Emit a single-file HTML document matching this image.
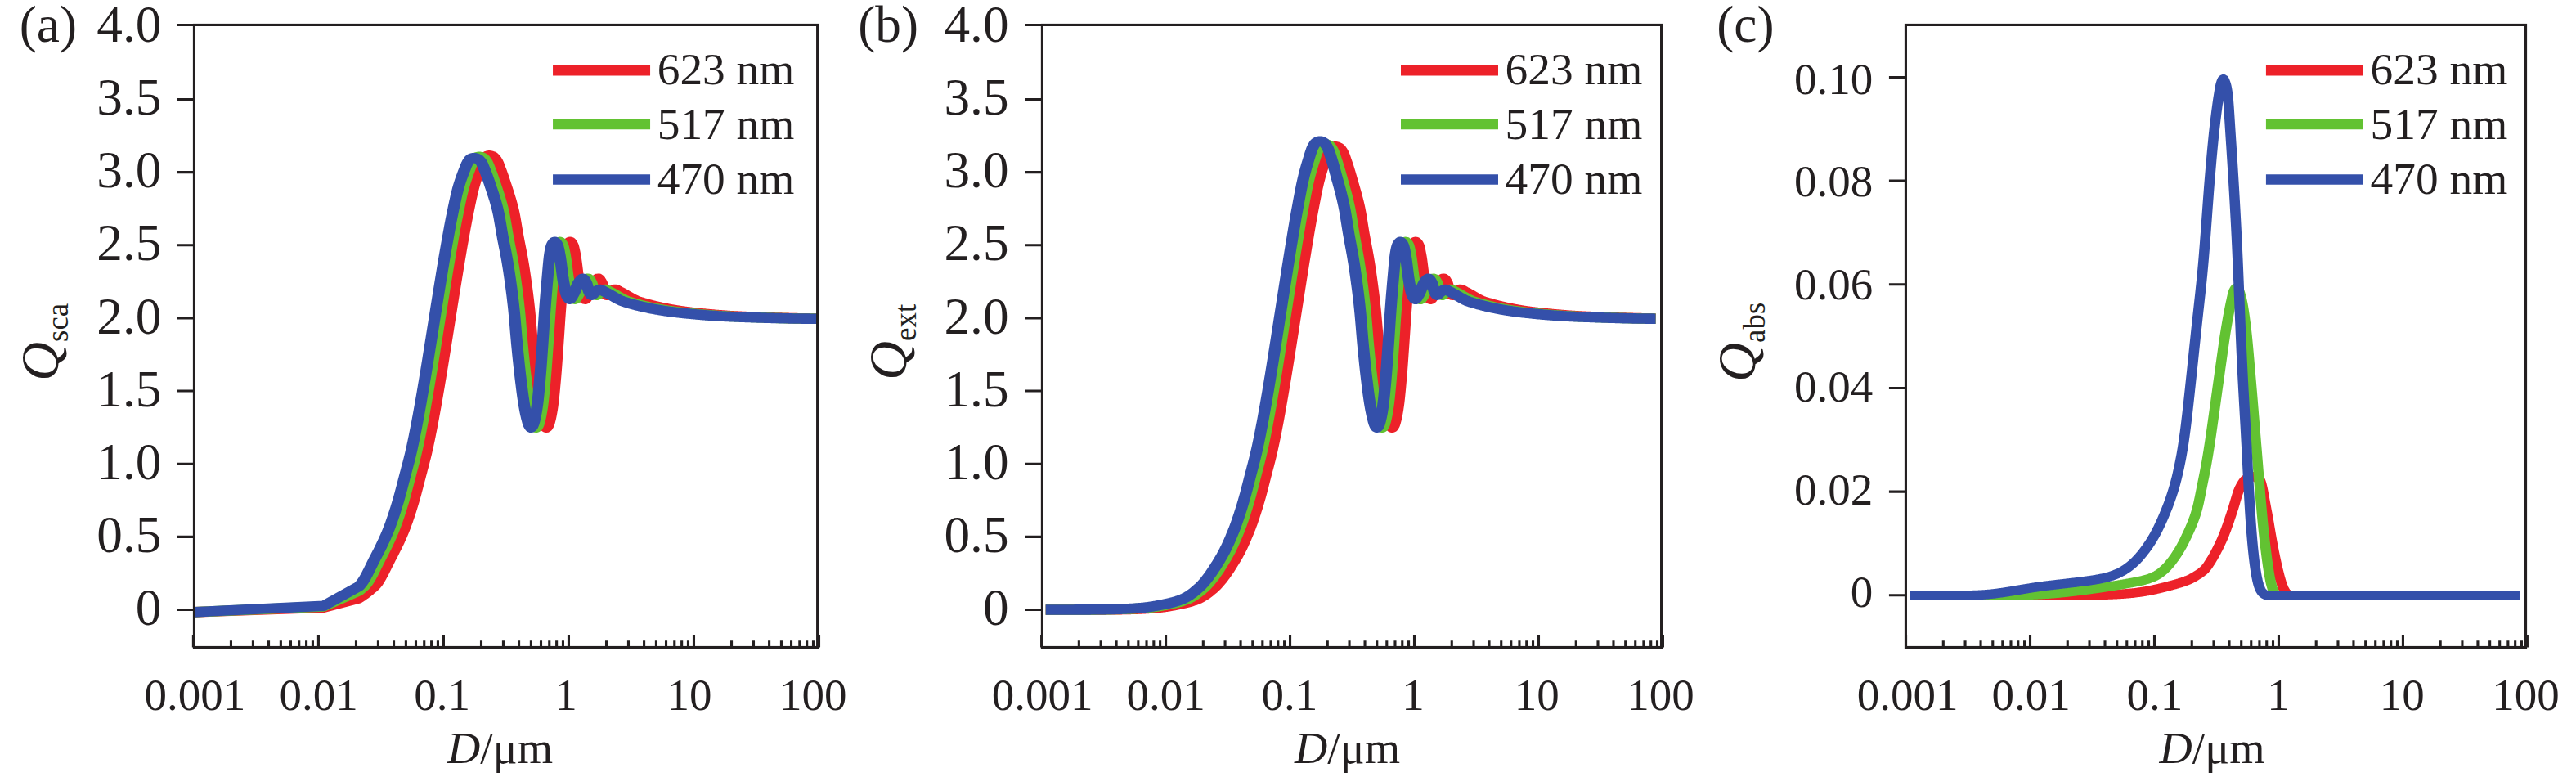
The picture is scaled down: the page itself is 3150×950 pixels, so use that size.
<!DOCTYPE html>
<html><head><meta charset="utf-8"><title>Q vs D</title>
<style>html,body{margin:0;padding:0;background:#fff}svg{display:block}</style></head>
<body>
<svg width="3150" height="950" viewBox="0 0 3150 950" font-family='"Liberation Serif", "Times New Roman", serif' fill="#231f20">
<rect width="3150" height="950" fill="#fff"/>
<clipPath id="ca"><rect x="237.45" y="30.45" width="762.1500000000001" height="761.02"/></clipPath>
<g clip-path="url(#ca)">
<path transform="scale(1.127 1)" d="M209.76 748.40L351.16 742.60L389.29 731.39L389.83 731.00L390.37 730.61L390.92 730.21L391.46 729.80L392.00 729.39L392.55 728.97L393.09 728.54L393.63 728.11L394.17 727.68L394.72 727.23L395.26 726.79L395.80 726.33L396.35 725.87L396.89 725.41L397.43 724.94L397.98 724.46L398.52 723.98L399.06 723.50L399.61 723.01L400.15 722.51L400.69 722.01L401.23 721.51L401.78 721.00L402.32 720.48L402.86 719.96L403.41 719.44L403.95 718.91L404.49 718.38L405.04 717.84L405.58 717.30L406.12 716.75L406.67 716.16L407.21 715.51L407.75 714.81L408.30 714.07L408.84 713.28L409.38 712.45L409.92 711.58L410.47 710.66L411.01 709.72L411.55 708.73L412.10 707.72L412.64 706.67L413.18 705.60L413.73 704.50L414.27 703.38L414.81 702.23L415.36 701.07L415.90 699.89L416.44 698.69L416.98 697.48L417.53 696.26L418.07 695.04L418.61 693.80L419.16 692.56L419.70 691.32L420.24 690.07L420.79 688.83L421.33 687.60L421.87 686.37L422.42 685.14L422.96 683.93L423.50 682.73L424.05 681.55L424.59 680.37L425.13 679.20L425.67 678.02L426.22 676.83L426.76 675.64L427.30 674.45L427.85 673.24L428.39 672.03L428.93 670.81L429.48 669.58L430.02 668.34L430.56 667.09L431.11 665.82L431.65 664.54L432.19 663.25L432.74 661.94L433.28 660.61L433.82 659.27L434.36 657.90L434.91 656.52L435.45 655.12L435.99 653.70L436.54 652.26L437.08 650.79L437.62 649.30L438.17 647.79L438.71 646.24L439.25 644.66L439.80 643.04L440.34 641.39L440.88 639.70L441.42 637.99L441.97 636.24L442.51 634.47L443.05 632.66L443.60 630.83L444.14 628.97L444.68 627.09L445.23 625.19L445.77 623.26L446.31 621.31L446.86 619.34L447.40 617.36L447.94 615.35L448.49 613.32L449.03 611.23L449.57 609.10L450.11 606.92L450.66 604.70L451.20 602.45L451.74 600.16L452.29 597.85L452.83 595.52L453.37 593.17L453.92 590.81L454.46 588.44L455.00 586.08L455.55 583.72L456.09 581.36L456.63 579.03L457.17 576.71L457.72 574.40L458.26 572.10L458.80 569.79L459.35 567.46L459.89 565.11L460.43 562.73L460.98 560.31L461.52 557.84L462.06 555.31L462.61 552.72L463.15 550.05L463.69 547.31L464.24 544.50L464.78 541.64L465.32 538.74L465.86 535.79L466.41 532.79L466.95 529.75L467.49 526.67L468.04 523.54L468.58 520.38L469.12 517.17L469.67 513.93L470.21 510.65L470.75 507.33L471.30 503.98L471.84 500.60L472.38 497.18L472.92 493.73L473.47 490.25L474.01 486.75L474.55 483.21L475.10 479.65L475.64 476.06L476.18 472.45L476.73 468.81L477.27 465.16L477.81 461.48L478.36 457.78L478.90 454.06L479.44 450.33L479.99 446.57L480.53 442.81L481.07 439.03L481.61 435.23L482.16 431.43L482.70 427.61L483.24 423.78L483.79 419.95L484.33 416.11L484.87 412.26L485.42 408.41L485.96 404.55L486.50 400.69L487.05 396.83L487.59 392.97L488.13 389.11L488.67 385.25L489.22 381.40L489.76 377.55L490.30 373.70L490.85 369.86L491.39 366.03L491.93 362.21L492.48 358.39L493.02 354.59L493.56 350.80L494.11 347.03L494.65 343.26L495.19 339.51L495.74 335.78L496.28 332.07L496.82 328.38L497.36 324.70L497.91 321.05L498.45 317.41L498.99 313.80L499.54 310.22L500.08 306.66L500.62 303.12L501.17 299.62L501.71 296.14L502.25 292.69L502.80 289.27L503.34 285.86L503.88 282.46L504.42 279.07L504.97 275.72L505.51 272.43L506.05 269.23L506.60 266.13L507.14 263.10L507.68 260.06L508.23 257.04L508.77 254.04L509.31 251.07L509.86 248.14L510.40 245.26L510.94 242.44L511.49 239.68L512.03 237.01L512.57 234.42L513.11 231.93L513.66 229.55L514.20 227.28L514.74 225.13L515.29 223.07L515.83 221.08L516.37 219.17L516.92 217.32L517.46 215.52L518.00 213.77L518.55 212.06L519.09 210.38L519.63 208.72L520.18 207.07L520.72 205.41L521.26 203.73L521.80 202.08L522.35 200.48L522.89 198.98L523.43 197.61L523.98 196.41L524.52 195.36L525.06 194.35L525.61 193.40L526.15 192.57L526.69 191.91L527.24 191.48L527.78 191.19L528.32 190.94L528.86 190.72L529.41 190.55L529.95 190.42L530.49 190.36L531.04 190.35L531.58 190.41L532.12 190.51L532.67 190.66L533.21 190.84L533.75 191.05L534.30 191.29L534.84 191.55L535.38 191.90L535.93 192.36L536.47 192.94L537.01 193.61L537.55 194.36L538.10 195.17L538.64 196.04L539.18 196.99L539.73 198.16L540.27 199.51L540.81 201.00L541.36 202.58L541.90 204.21L542.44 205.85L542.99 207.45L543.53 209.07L544.07 210.73L544.61 212.43L545.16 214.16L545.70 215.93L546.24 217.73L546.79 219.55L547.33 221.40L547.87 223.27L548.42 225.15L548.96 227.05L549.50 228.96L550.05 230.84L550.59 232.71L551.13 234.59L551.68 236.48L552.22 238.40L552.76 240.34L553.30 242.33L553.85 244.38L554.39 246.49L554.93 248.67L555.48 250.94L556.02 253.30L556.56 255.77L557.11 258.36L557.65 261.22L558.19 264.37L558.74 267.74L559.28 271.27L559.82 274.90L560.36 278.57L560.91 282.20L561.45 285.75L561.99 289.14L562.54 292.39L563.08 295.55L563.62 298.66L564.17 301.75L564.71 304.84L565.25 307.98L565.80 311.18L566.34 314.49L566.88 317.93L567.43 321.53L567.97 325.26L568.51 329.12L569.05 333.11L569.60 337.22L570.14 341.46L570.68 345.83L571.23 350.33L571.77 354.95L572.31 359.72L572.86 364.68L573.40 369.88L573.94 375.35L574.49 381.14L575.03 387.60L575.57 394.66L576.11 402.01L576.66 409.37L577.20 416.44L577.74 422.96L578.29 429.22L578.83 435.34L579.37 441.30L579.92 447.07L580.46 452.64L581.00 457.99L581.55 463.13L582.09 468.18L582.63 473.13L583.18 477.93L583.72 482.54L584.26 486.91L584.80 491.00L585.35 494.76L585.89 498.24L586.43 501.52L586.98 504.60L587.52 507.46L588.06 510.09L588.61 512.50L589.15 514.83L589.69 517.00L590.24 518.83L590.78 520.14L591.32 521.20L591.86 522.11L592.41 522.69L592.95 522.76L593.49 522.30L594.04 521.46L594.58 520.42L595.12 519.20L595.67 517.44L596.21 515.24L596.75 512.78L597.30 510.14L597.84 507.15L598.38 503.78L598.93 500.03L599.47 495.91L600.01 491.25L600.55 485.85L601.10 479.82L601.64 473.32L602.18 466.49L602.73 459.48L603.27 451.98L603.81 443.88L604.36 435.39L604.90 426.73L605.44 418.08L605.99 409.05L606.53 399.79L607.07 390.65L607.62 381.97L608.16 373.88L608.70 366.08L609.24 358.54L609.79 351.27L610.33 344.27L610.87 337.49L611.42 330.50L611.96 323.62L612.50 317.34L613.05 312.15L613.59 308.36L614.13 305.13L614.68 302.40L615.22 300.36L615.76 299.08L616.30 298.04L616.85 297.14L617.39 296.43L617.93 295.97L618.48 295.80L619.02 295.98L619.56 296.48L620.11 297.23L620.65 298.17L621.19 299.24L621.74 300.61L622.28 302.71L622.82 305.38L623.37 308.40L623.91 311.57L624.45 315.06L624.99 319.27L625.54 323.95L626.08 328.85L626.62 333.72L627.17 338.29L627.71 342.31L628.25 345.66L628.80 348.88L629.34 351.98L629.88 354.85L630.43 357.37L630.97 359.45L631.51 360.97L632.05 362.14L632.60 363.24L633.14 364.21L633.68 364.98L634.23 365.50L634.77 365.70L635.31 365.53L635.86 365.02L636.40 364.25L636.94 363.30L637.49 362.23L638.03 361.14L638.57 360.09L639.12 359.03L639.66 357.79L640.20 356.42L640.74 354.95L641.29 353.43L641.83 351.90L642.37 350.39L642.92 348.95L643.46 347.62L644.00 346.44L644.55 345.44L645.09 344.64L645.63 343.85L646.18 343.08L646.72 342.36L647.26 341.73L647.80 341.22L648.35 340.86L648.89 340.71L649.43 340.80L649.98 341.17L650.52 341.79L651.06 342.60L651.61 343.56L652.15 344.62L652.69 345.73L653.24 347.15L653.78 349.28L654.32 351.72L654.87 354.04L655.41 355.82L655.95 357.07L656.49 358.28L657.04 359.34L657.58 360.16L658.12 360.63L658.67 360.67L659.21 360.44L659.75 360.01L660.30 359.46L660.84 358.84L661.38 358.19L661.93 357.59L662.47 357.09L663.01 356.66L663.55 356.21L664.10 355.75L664.64 355.29L665.18 354.87L665.73 354.51L666.27 354.23L666.81 354.05L667.36 354.00L667.90 354.06L668.44 354.20L668.99 354.41L669.53 354.68L670.07 354.99L670.62 355.33L671.16 355.69L671.70 356.06L672.24 356.42L672.79 356.75L673.33 357.05L673.87 357.35L674.42 357.65L674.96 357.97L675.50 358.29L676.05 358.61L676.59 358.95L677.13 359.28L677.68 359.63L678.22 359.97L678.76 360.32L679.30 360.68L679.85 361.03L680.39 361.39L680.93 361.75L681.48 362.11L682.02 362.46L682.56 362.82L683.11 363.18L683.65 363.53L684.19 363.88L684.74 364.23L685.28 364.57L685.82 364.91L686.37 365.25L686.91 365.58L687.45 365.90L687.99 366.21L688.54 366.52L689.08 366.82L689.62 367.11L690.17 367.39L690.71 367.66L691.25 367.91L691.80 368.16L692.34 368.40L692.88 368.62L693.43 368.83L693.97 369.02L694.51 369.21L695.06 369.40L695.60 369.58L696.14 369.77L696.68 369.95L697.23 370.13L697.77 370.31L698.31 370.49L698.86 370.67L699.40 370.84L699.94 371.02L700.49 371.19L701.03 371.36L701.57 371.53L702.12 371.70L702.66 371.87L703.20 372.03L703.74 372.20L704.29 372.36L704.83 372.52L705.37 372.69L705.92 372.84L706.46 373.00L707.00 373.16L707.55 373.31L708.09 373.47L708.63 373.62L709.18 373.77L709.72 373.92L710.26 374.07L710.81 374.22L711.35 374.37L711.89 374.51L712.43 374.66L712.98 374.80L713.52 374.94L714.06 375.08L714.61 375.22L715.15 375.36L715.69 375.49L716.24 375.63L716.78 375.76L717.32 375.89L717.87 376.03L718.41 376.16L718.95 376.29L719.49 376.41L720.04 376.54L720.58 376.67L721.12 376.79L721.67 376.91L722.21 377.04L722.75 377.16L723.30 377.28L723.84 377.40L724.38 377.51L724.93 377.63L725.47 377.75L726.01 377.86L726.56 377.97L727.10 378.09L727.64 378.20L728.18 378.31L728.73 378.42L729.27 378.53L729.81 378.63L730.36 378.74L730.90 378.84L731.44 378.95L731.99 379.05L732.53 379.15L733.07 379.25L733.62 379.35L734.16 379.45L734.70 379.55L735.24 379.64L735.79 379.74L736.33 379.83L736.87 379.93L737.42 380.02L737.96 380.11L738.50 380.20L739.05 380.29L739.59 380.38L740.13 380.47L740.68 380.56L741.22 380.64L741.76 380.73L742.31 380.81L742.85 380.89L743.39 380.98L743.93 381.06L744.48 381.14L745.02 381.22L745.56 381.30L746.11 381.38L746.65 381.45L747.19 381.53L747.74 381.60L748.28 381.68L748.82 381.75L749.37 381.82L749.91 381.90L750.45 381.97L750.99 382.04L751.54 382.11L752.08 382.18L752.62 382.24L753.17 382.31L753.71 382.38L754.25 382.44L754.80 382.51L755.34 382.57L755.88 382.64L756.43 382.70L756.97 382.77L757.51 382.83L758.06 382.90L758.60 382.96L759.14 383.02L759.68 383.09L760.23 383.15L760.77 383.21L761.31 383.27L761.86 383.33L762.40 383.39L762.94 383.45L763.49 383.51L764.03 383.57L764.57 383.63L765.12 383.69L765.66 383.75L766.20 383.81L766.74 383.87L767.29 383.93L767.83 383.98L768.37 384.04L768.92 384.10L769.46 384.15L770.00 384.21L770.55 384.26L771.09 384.32L771.63 384.37L772.18 384.43L772.72 384.48L773.26 384.53L773.81 384.59L774.35 384.64L774.89 384.69L775.43 384.74L775.98 384.80L776.52 384.85L777.06 384.90L777.61 384.95L778.15 385.00L778.69 385.05L779.24 385.10L779.78 385.15L780.32 385.19L780.87 385.24L781.41 385.29L781.95 385.34L782.50 385.38L783.04 385.43L783.58 385.48L784.12 385.52L784.67 385.57L785.21 385.61L785.75 385.66L786.30 385.70L786.84 385.74L787.38 385.79L787.93 385.83L788.47 385.87L789.01 385.91L789.56 385.96L790.10 386.00L790.64 386.04L791.18 386.08L791.73 386.12L792.27 386.16L792.81 386.20L793.36 386.23L793.90 386.27L794.44 386.31L794.99 386.35L795.53 386.38L796.07 386.42L796.62 386.46L797.16 386.49L797.70 386.53L798.25 386.56L798.79 386.60L799.33 386.63L799.87 386.66L800.42 386.70L800.96 386.73L801.50 386.76L802.05 386.79L802.59 386.82L803.13 386.85L803.68 386.88L804.22 386.91L804.76 386.94L805.31 386.97L805.85 387.00L806.39 387.03L806.93 387.06L807.48 387.08L808.02 387.11L808.56 387.13L809.11 387.16L809.65 387.19L810.19 387.21L810.74 387.23L811.28 387.26L811.82 387.28L812.37 387.30L812.91 387.33L813.45 387.35L814.00 387.37L814.54 387.39L815.08 387.42L815.62 387.44L816.17 387.46L816.71 387.48L817.25 387.51L817.80 387.53L818.34 387.55L818.88 387.57L819.43 387.60L819.97 387.62L820.51 387.64L821.06 387.66L821.60 387.68L822.14 387.71L822.68 387.73L823.23 387.75L823.77 387.77L824.31 387.79L824.86 387.81L825.40 387.84L825.94 387.86L826.49 387.88L827.03 387.90L827.57 387.92L828.12 387.94L828.66 387.96L829.20 387.98L829.75 388.01L830.29 388.03L830.83 388.05L831.37 388.07L831.92 388.09L832.46 388.11L833.00 388.13L833.55 388.15L834.09 388.17L834.63 388.19L835.18 388.21L835.72 388.23L836.26 388.25L836.81 388.27L837.35 388.29L837.89 388.31L838.43 388.33L838.98 388.35L839.52 388.37L840.06 388.39L840.61 388.41L841.15 388.43L841.69 388.45L842.24 388.47L842.78 388.49L843.32 388.51L843.87 388.53L844.41 388.54L844.95 388.56L845.50 388.58L846.04 388.60L846.58 388.62L847.12 388.64L847.67 388.66L848.21 388.67L848.75 388.69L849.30 388.71L849.84 388.73L850.38 388.74L850.93 388.76L851.47 388.78L852.01 388.80L852.56 388.81L853.10 388.83L853.64 388.85L854.18 388.86L854.73 388.88L855.27 388.90L855.81 388.91L856.36 388.93L856.90 388.95L857.44 388.96L857.99 388.98L858.53 388.99L859.07 389.01L859.62 389.02L860.16 389.04L860.70 389.05L861.25 389.07L861.79 389.08L862.33 389.10L862.87 389.11L863.42 389.13L863.96 389.14L864.50 389.16L865.05 389.17L865.59 389.18L866.13 389.20L866.68 389.21L867.22 389.22L867.76 389.24L868.31 389.25L868.85 389.26L869.39 389.28L869.94 389.29L870.48 389.30L871.02 389.31L871.56 389.33L872.11 389.34L872.65 389.35L873.19 389.36L873.74 389.37L874.28 389.38L874.82 389.39L875.37 389.41L875.91 389.42L876.45 389.43L877.00 389.44L877.54 389.45L878.08 389.46L878.62 389.47L879.17 389.48L879.71 389.49L880.25 389.50L880.80 389.50L881.34 389.51L881.88 389.52L882.43 389.53L882.97 389.54L883.51 389.55L884.06 389.55L884.60 389.56L885.14 389.57L885.69 389.58L886.23 389.58L886.77 389.59L887.31 389.60L887.86 389.60L888.40 389.61L886.96 389.61" stroke="#ed2129" stroke-width="12.6" fill="none" stroke-linejoin="round" stroke-linecap="butt"/>
<path transform="scale(1.127 1)" d="M209.76 748.40L351.16 741.42L389.29 722.39L389.83 721.89L390.37 721.38L390.92 720.87L391.46 720.35L392.00 719.83L392.55 719.31L393.09 718.78L393.63 718.25L394.17 717.71L394.72 717.17L395.26 716.61L395.80 716.00L396.35 715.34L396.89 714.63L397.43 713.88L397.98 713.08L398.52 712.23L399.06 711.35L399.61 710.43L400.15 709.47L400.69 708.48L401.23 707.46L401.78 706.41L402.32 705.33L402.86 704.22L403.41 703.10L403.95 701.95L404.49 700.78L405.04 699.59L405.58 698.39L406.12 697.18L406.67 695.96L407.21 694.73L407.75 693.49L408.30 692.25L408.84 691.01L409.38 689.76L409.92 688.52L410.47 687.29L411.01 686.06L411.55 684.84L412.10 683.63L412.64 682.44L413.18 681.25L413.73 680.08L414.27 678.90L414.81 677.72L415.36 676.54L415.90 675.35L416.44 674.15L416.98 672.94L417.53 671.73L418.07 670.51L418.61 669.27L419.16 668.03L419.70 666.77L420.24 665.50L420.79 664.22L421.33 662.92L421.87 661.61L422.42 660.28L422.96 658.93L423.50 657.56L424.05 656.18L424.59 654.77L425.13 653.34L425.67 651.89L426.22 650.42L426.76 648.93L427.30 647.41L427.85 645.85L428.39 644.26L428.93 642.63L429.48 640.97L430.02 639.28L430.56 637.56L431.11 635.80L431.65 634.02L432.19 632.21L432.74 630.37L433.28 628.51L433.82 626.62L434.36 624.71L434.91 622.78L435.45 620.82L435.99 618.85L436.54 616.86L437.08 614.85L437.62 612.80L438.17 610.71L438.71 608.56L439.25 606.37L439.80 604.14L440.34 601.88L440.88 599.59L441.42 597.27L441.97 594.93L442.51 592.58L443.05 590.22L443.60 587.85L444.14 585.49L444.68 583.13L445.23 580.78L445.77 578.45L446.31 576.13L446.86 573.83L447.40 571.52L447.94 569.21L448.49 566.88L449.03 564.52L449.57 562.13L450.11 559.70L450.66 557.22L451.20 554.67L451.74 552.06L452.29 549.38L452.83 546.61L453.37 543.79L453.92 540.92L454.46 538.01L455.00 535.04L455.55 532.04L456.09 528.98L456.63 525.89L457.17 522.76L457.72 519.58L458.26 516.37L458.80 513.12L459.35 509.83L459.89 506.50L460.43 503.14L460.98 499.75L461.52 496.32L462.06 492.87L462.61 489.38L463.15 485.87L463.69 482.33L464.24 478.76L464.78 475.16L465.32 471.54L465.86 467.90L466.41 464.24L466.95 460.56L467.49 456.85L468.04 453.13L468.58 449.39L469.12 445.64L469.67 441.87L470.21 438.08L470.75 434.28L471.30 430.48L471.84 426.66L472.38 422.83L472.92 418.99L473.47 415.15L474.01 411.30L474.55 407.45L475.10 403.59L475.64 399.73L476.18 395.87L476.73 392.01L477.27 388.15L477.81 384.29L478.36 380.44L478.90 376.59L479.44 372.75L479.99 368.91L480.53 365.08L481.07 361.26L481.61 357.45L482.16 353.65L482.70 349.87L483.24 346.10L483.79 342.34L484.33 338.60L484.87 334.87L485.42 331.17L485.96 327.48L486.50 323.81L487.05 320.17L487.59 316.54L488.13 312.94L488.67 309.37L489.22 305.82L489.76 302.30L490.30 298.80L490.85 295.34L491.39 291.91L491.93 288.50L492.48 285.10L493.02 281.71L493.56 278.34L494.11 275.02L494.65 271.76L495.19 268.60L495.74 265.55L496.28 262.53L496.82 259.51L497.36 256.51L497.91 253.54L498.45 250.60L498.99 247.71L499.54 244.86L500.08 242.09L500.62 239.38L501.17 236.76L501.71 234.22L502.25 231.79L502.80 229.47L503.34 227.27L503.88 225.17L504.42 223.17L504.97 221.24L505.51 219.38L506.05 217.59L506.60 215.84L507.14 214.14L507.68 212.48L508.23 210.85L508.77 209.23L509.31 207.62L509.86 205.99L510.40 204.36L510.94 202.75L511.49 201.22L512.03 199.78L512.57 198.49L513.11 197.36L513.66 196.36L514.20 195.38L514.74 194.49L515.29 193.72L515.83 193.14L516.37 192.78L516.92 192.52L517.46 192.28L518.00 192.09L518.55 191.93L519.09 191.83L519.63 191.78L520.18 191.79L520.72 191.85L521.26 191.95L521.80 192.10L522.35 192.27L522.89 192.48L523.43 192.70L523.98 192.95L524.52 193.30L525.06 193.77L525.61 194.34L526.15 195.00L526.69 195.73L527.24 196.52L527.78 197.36L528.32 198.33L528.86 199.51L529.41 200.86L529.95 202.34L530.49 203.89L531.04 205.49L531.58 207.07L532.12 208.63L532.67 210.22L533.21 211.85L533.75 213.52L534.30 215.23L534.84 216.96L535.38 218.73L535.93 220.53L536.47 222.34L537.01 224.18L537.55 226.04L538.10 227.92L538.64 229.79L539.18 231.64L539.73 233.49L540.27 235.34L540.81 237.22L541.36 239.12L541.90 241.05L542.44 243.04L542.99 245.08L543.53 247.19L544.07 249.38L544.61 251.65L545.16 254.03L545.70 256.51L546.24 259.14L546.79 262.07L547.33 265.27L547.87 268.68L548.42 272.23L548.96 275.87L549.50 279.53L550.05 283.14L550.59 286.65L551.13 290.00L551.68 293.22L552.22 296.36L552.76 299.46L553.30 302.54L553.85 305.64L554.39 308.78L554.93 312.01L555.48 315.34L556.02 318.82L556.56 322.46L557.11 326.22L557.65 330.11L558.19 334.13L558.74 338.27L559.28 342.54L559.82 346.94L560.36 351.47L560.91 356.12L561.45 360.94L561.99 365.95L562.54 371.21L563.08 376.76L563.62 382.68L564.17 389.32L564.71 396.47L565.25 403.86L565.80 411.17L566.34 418.12L566.88 424.54L567.43 430.76L567.97 436.84L568.51 442.76L569.05 448.48L569.60 454.00L570.14 459.28L570.68 464.39L571.23 469.43L571.77 474.35L572.31 479.10L572.86 483.65L573.40 487.96L573.94 491.97L574.49 495.64L575.03 499.08L575.57 502.31L576.11 505.33L576.66 508.13L577.20 510.71L577.74 513.09L578.29 515.39L578.83 517.49L579.37 519.21L579.92 520.41L580.46 521.45L581.00 522.29L581.55 522.76L582.09 522.69L582.63 522.12L583.18 521.21L583.72 520.15L584.26 518.81L584.80 516.92L585.35 514.64L585.89 512.15L586.43 509.43L586.98 506.35L587.52 502.88L588.06 499.04L588.61 494.82L589.15 489.97L589.69 484.40L590.24 478.24L590.78 471.64L591.32 464.75L591.86 457.68L592.41 450.01L592.95 441.79L593.49 433.24L594.04 424.57L594.58 415.87L595.12 406.75L595.67 397.49L596.21 388.43L596.75 379.91L597.30 371.91L597.84 364.17L598.38 356.70L598.93 349.50L599.47 342.57L600.01 335.76L600.55 328.76L601.10 321.98L601.64 315.92L602.18 311.08L602.73 307.51L603.27 304.39L603.81 301.82L604.36 299.97L604.90 298.81L605.44 297.80L605.99 296.95L606.53 296.29L607.07 295.90L607.62 295.81L608.16 296.08L608.70 296.65L609.24 297.45L609.79 298.43L610.33 299.52L610.87 301.07L611.42 303.34L611.96 306.11L612.50 309.19L613.05 312.36L613.59 316.05L614.13 320.40L614.68 325.16L615.22 330.08L615.76 334.89L616.30 339.35L616.85 343.20L617.39 346.47L617.93 349.67L618.48 352.72L619.02 355.51L619.56 357.94L620.11 359.89L620.65 361.27L621.19 362.43L621.74 363.50L622.28 364.42L622.82 365.13L623.37 365.58L623.91 365.69L624.45 365.43L624.99 364.85L625.54 364.03L626.08 363.04L626.62 361.96L627.17 360.87L627.71 359.84L628.25 358.73L628.80 357.46L629.34 356.06L629.88 354.58L630.43 353.05L630.97 351.52L631.51 350.03L632.05 348.61L632.60 347.31L633.14 346.17L633.68 345.22L634.23 344.44L634.77 343.66L635.31 342.90L635.86 342.19L636.40 341.59L636.94 341.11L637.49 340.80L638.03 340.70L638.57 340.87L639.12 341.31L639.66 341.97L640.20 342.82L640.74 343.81L641.29 344.89L641.83 346.02L642.37 347.63L642.92 349.87L643.46 352.33L644.00 354.56L644.55 356.14L645.09 357.38L645.63 358.56L646.18 359.58L646.72 360.32L647.26 360.68L647.80 360.63L648.35 360.35L648.89 359.89L649.43 359.31L649.98 358.68L650.52 358.04L651.06 357.45L651.61 356.98L652.15 356.55L652.69 356.10L653.24 355.63L653.78 355.18L654.32 354.78L654.87 354.43L655.41 354.18L655.95 354.03L656.49 354.01L657.04 354.09L657.58 354.25L658.12 354.47L658.67 354.75L659.21 355.07L659.75 355.42L660.30 355.78L660.84 356.15L661.38 356.50L661.93 356.83L662.47 357.13L663.01 357.43L663.55 357.73L664.10 358.05L664.64 358.37L665.18 358.70L665.73 359.03L666.27 359.37L666.81 359.71L667.36 360.06L667.90 360.41L668.44 360.76L668.99 361.12L669.53 361.48L670.07 361.84L670.62 362.19L671.16 362.55L671.70 362.91L672.24 363.27L672.79 363.62L673.33 363.97L673.87 364.32L674.42 364.66L674.96 365.00L675.50 365.33L676.05 365.66L676.59 365.98L677.13 366.29L677.68 366.59L678.22 366.89L678.76 367.18L679.30 367.45L679.85 367.72L680.39 367.98L680.93 368.22L681.48 368.45L682.02 368.67L682.56 368.88L683.11 369.07L683.65 369.26L684.19 369.45L684.74 369.63L685.28 369.81L685.82 370.00L686.37 370.18L686.91 370.36L687.45 370.54L687.99 370.71L688.54 370.89L689.08 371.06L689.62 371.23L690.17 371.40L690.71 371.57L691.25 371.74L691.80 371.91L692.34 372.08L692.88 372.24L693.43 372.40L693.97 372.56L694.51 372.73L695.06 372.88L695.60 373.04L696.14 373.20L696.68 373.35L697.23 373.51L697.77 373.66L698.31 373.81L698.86 373.96L699.40 374.11L699.94 374.26L700.49 374.40L701.03 374.55L701.57 374.69L702.12 374.83L702.66 374.97L703.20 375.11L703.74 375.25L704.29 375.39L704.83 375.53L705.37 375.66L705.92 375.80L706.46 375.93L707.00 376.06L707.55 376.19L708.09 376.32L708.63 376.45L709.18 376.57L709.72 376.70L710.26 376.82L710.81 376.95L711.35 377.07L711.89 377.19L712.43 377.31L712.98 377.43L713.52 377.54L714.06 377.66L714.61 377.78L715.15 377.89L715.69 378.00L716.24 378.12L716.78 378.23L717.32 378.34L717.87 378.44L718.41 378.55L718.95 378.66L719.49 378.76L720.04 378.87L720.58 378.97L721.12 379.07L721.67 379.18L722.21 379.28L722.75 379.38L723.30 379.47L723.84 379.57L724.38 379.67L724.93 379.76L725.47 379.86L726.01 379.95L726.56 380.04L727.10 380.13L727.64 380.23L728.18 380.31L728.73 380.40L729.27 380.49L729.81 380.58L730.36 380.66L730.90 380.75L731.44 380.83L731.99 380.92L732.53 381.00L733.07 381.08L733.62 381.16L734.16 381.24L734.70 381.32L735.24 381.39L735.79 381.47L736.33 381.55L736.87 381.62L737.42 381.70L737.96 381.77L738.50 381.84L739.05 381.91L739.59 381.98L740.13 382.05L740.68 382.12L741.22 382.19L741.76 382.26L742.31 382.33L742.85 382.39L743.39 382.46L743.93 382.52L744.48 382.59L745.02 382.66L745.56 382.72L746.11 382.78L746.65 382.85L747.19 382.91L747.74 382.98L748.28 383.04L748.82 383.10L749.37 383.16L749.91 383.22L750.45 383.29L750.99 383.35L751.54 383.41L752.08 383.47L752.62 383.53L753.17 383.59L753.71 383.65L754.25 383.71L754.80 383.77L755.34 383.82L755.88 383.88L756.43 383.94L756.97 384.00L757.51 384.05L758.06 384.11L758.60 384.17L759.14 384.22L759.68 384.28L760.23 384.33L760.77 384.39L761.31 384.44L761.86 384.49L762.40 384.55L762.94 384.60L763.49 384.65L764.03 384.71L764.57 384.76L765.12 384.81L765.66 384.86L766.20 384.91L766.74 384.96L767.29 385.01L767.83 385.06L768.37 385.11L768.92 385.16L769.46 385.21L770.00 385.25L770.55 385.30L771.09 385.35L771.63 385.40L772.18 385.44L772.72 385.49L773.26 385.53L773.81 385.58L774.35 385.62L774.89 385.67L775.43 385.71L775.98 385.76L776.52 385.80L777.06 385.84L777.61 385.88L778.15 385.93L778.69 385.97L779.24 386.01L779.78 386.05L780.32 386.09L780.87 386.13L781.41 386.17L781.95 386.21L782.50 386.24L783.04 386.28L783.58 386.32L784.12 386.36L784.67 386.39L785.21 386.43L785.75 386.47L786.30 386.50L786.84 386.54L787.38 386.57L787.93 386.60L788.47 386.64L789.01 386.67L789.56 386.70L790.10 386.74L790.64 386.77L791.18 386.80L791.73 386.83L792.27 386.86L792.81 386.89L793.36 386.92L793.90 386.95L794.44 386.98L794.99 387.01L795.53 387.03L796.07 387.06L796.62 387.09L797.16 387.12L797.70 387.14L798.25 387.17L798.79 387.19L799.33 387.22L799.87 387.24L800.42 387.26L800.96 387.29L801.50 387.31L802.05 387.33L802.59 387.35L803.13 387.38L803.68 387.40L804.22 387.42L804.76 387.44L805.31 387.47L805.85 387.49L806.39 387.51L806.93 387.53L807.48 387.56L808.02 387.58L808.56 387.60L809.11 387.62L809.65 387.64L810.19 387.67L810.74 387.69L811.28 387.71L811.82 387.73L812.37 387.75L812.91 387.78L813.45 387.80L814.00 387.82L814.54 387.84L815.08 387.86L815.62 387.88L816.17 387.91L816.71 387.93L817.25 387.95L817.80 387.97L818.34 387.99L818.88 388.01L819.43 388.03L819.97 388.05L820.51 388.07L821.06 388.09L821.60 388.12L822.14 388.14L822.68 388.16L823.23 388.18L823.77 388.20L824.31 388.22L824.86 388.24L825.40 388.26L825.94 388.28L826.49 388.30L827.03 388.32L827.57 388.34L828.12 388.36L828.66 388.38L829.20 388.40L829.75 388.42L830.29 388.44L830.83 388.45L831.37 388.47L831.92 388.49L832.46 388.51L833.00 388.53L833.55 388.55L834.09 388.57L834.63 388.59L835.18 388.61L835.72 388.62L836.26 388.64L836.81 388.66L837.35 388.68L837.89 388.70L838.43 388.71L838.98 388.73L839.52 388.75L840.06 388.77L840.61 388.78L841.15 388.80L841.69 388.82L842.24 388.83L842.78 388.85L843.32 388.87L843.87 388.88L844.41 388.90L844.95 388.92L845.50 388.93L846.04 388.95L846.58 388.97L847.12 388.98L847.67 389.00L848.21 389.01L848.75 389.03L849.30 389.04L849.84 389.06L850.38 389.07L850.93 389.09L851.47 389.10L852.01 389.12L852.56 389.13L853.10 389.15L853.64 389.16L854.18 389.17L854.73 389.19L855.27 389.20L855.81 389.21L856.36 389.23L856.90 389.24L857.44 389.25L857.99 389.27L858.53 389.28L859.07 389.29L859.62 389.30L860.16 389.32L860.70 389.33L861.25 389.34L861.79 389.35L862.33 389.36L862.87 389.37L863.42 389.39L863.96 389.40L864.50 389.41L865.05 389.42L865.59 389.43L866.13 389.44L866.68 389.45L867.22 389.46L867.76 389.47L868.31 389.48L868.85 389.49L869.39 389.50L869.94 389.51L870.48 389.52L871.02 389.52L871.56 389.53L872.11 389.54L872.65 389.55L873.19 389.56L873.74 389.56L874.28 389.57L874.82 389.58L875.37 389.59L875.91 389.59L876.45 389.60L877.00 389.61L877.54 389.61L878.08 389.62L878.62 389.62L879.17 389.63L879.71 389.64L880.25 389.64L880.80 389.65L881.34 389.65L881.88 389.66L882.43 389.66L882.97 389.66L883.51 389.67L884.06 389.67L884.60 389.67L885.14 389.68L885.69 389.68L886.23 389.68L886.77 389.69L887.31 389.69L887.86 389.69L888.40 389.69L886.96 389.69" stroke="#62c232" stroke-width="12.6" fill="none" stroke-linejoin="round" stroke-linecap="butt"/>
<path transform="scale(1.127 1)" d="M209.76 748.40L351.16 740.77L389.29 716.98L389.83 716.40L390.37 715.78L390.92 715.10L391.46 714.37L392.00 713.60L392.55 712.79L393.09 711.93L393.63 711.04L394.17 710.10L394.72 709.13L395.26 708.13L395.80 707.10L396.35 706.04L396.89 704.95L397.43 703.83L397.98 702.70L398.52 701.54L399.06 700.37L399.61 699.18L400.15 697.97L400.69 696.76L401.23 695.53L401.78 694.30L402.32 693.06L402.86 691.82L403.41 690.57L403.95 689.33L404.49 688.09L405.04 686.86L405.58 685.63L406.12 684.42L406.67 683.21L407.21 682.02L407.75 680.85L408.30 679.67L408.84 678.49L409.38 677.31L409.92 676.12L410.47 674.93L411.01 673.73L411.55 672.52L412.10 671.30L412.64 670.08L413.18 668.84L413.73 667.59L414.27 666.33L414.81 665.06L415.36 663.77L415.90 662.46L416.44 661.15L416.98 659.81L417.53 658.45L418.07 657.08L418.61 655.69L419.16 654.28L419.70 652.84L420.24 651.38L420.79 649.90L421.33 648.40L421.87 646.87L422.42 645.30L422.96 643.70L423.50 642.06L424.05 640.39L424.59 638.68L425.13 636.95L425.67 635.18L426.22 633.39L426.76 631.57L427.30 629.73L427.85 627.85L428.39 625.96L428.93 624.04L429.48 622.10L430.02 620.14L430.56 618.16L431.11 616.16L431.65 614.14L432.19 612.08L432.74 609.96L433.28 607.80L433.82 605.60L434.36 603.36L434.91 601.08L435.45 598.78L435.99 596.46L436.54 594.11L437.08 591.76L437.62 589.40L438.17 587.03L438.71 584.67L439.25 582.31L439.80 579.96L440.34 577.64L440.88 575.33L441.42 573.03L441.97 570.72L442.51 568.40L443.05 566.06L443.60 563.70L444.14 561.29L444.68 558.84L445.23 556.34L445.77 553.77L446.31 551.14L446.86 548.42L447.40 545.63L447.94 542.80L448.49 539.91L449.03 536.98L449.57 534.00L450.11 530.98L450.66 527.91L451.20 524.80L451.74 521.66L452.29 518.47L452.83 515.24L453.37 511.97L453.92 508.67L454.46 505.34L455.00 501.96L455.55 498.56L456.09 495.12L456.63 491.66L457.17 488.16L457.72 484.64L458.26 481.09L458.80 477.51L459.35 473.91L459.89 470.28L460.43 466.63L460.98 462.96L461.52 459.27L462.06 455.56L462.61 451.83L463.15 448.09L463.69 444.32L464.24 440.55L464.78 436.76L465.32 432.96L465.86 429.15L466.41 425.33L466.95 421.50L467.49 417.66L468.04 413.81L468.58 409.96L469.12 406.11L469.67 402.25L470.21 398.39L470.75 394.53L471.30 390.67L471.84 386.81L472.38 382.95L472.92 379.10L473.47 375.26L474.01 371.41L474.55 367.58L475.10 363.76L475.64 359.94L476.18 356.13L476.73 352.34L477.27 348.56L477.81 344.80L478.36 341.05L478.90 337.31L479.44 333.60L479.99 329.90L480.53 326.22L481.07 322.56L481.61 318.93L482.16 315.32L482.70 311.73L483.24 308.17L483.79 304.64L484.33 301.13L484.87 297.65L485.42 294.21L485.96 290.79L486.50 287.41L487.05 284.02L487.59 280.64L488.13 277.29L488.67 274.00L489.22 270.79L489.76 267.68L490.30 264.67L490.85 261.67L491.39 258.68L491.93 255.71L492.48 252.76L493.02 249.86L493.56 247.01L494.11 244.22L494.65 241.49L495.19 238.84L495.74 236.28L496.28 233.81L496.82 231.45L497.36 229.20L497.91 227.07L498.45 225.05L498.99 223.11L499.54 221.24L500.08 219.44L500.62 217.71L501.17 216.02L501.71 214.38L502.25 212.76L502.80 211.18L503.34 209.61L503.88 208.03L504.42 206.44L504.97 204.85L505.51 203.30L506.05 201.83L506.60 200.48L507.14 199.27L507.68 198.25L508.23 197.28L508.77 196.35L509.31 195.52L509.86 194.84L510.40 194.35L510.94 194.06L511.49 193.83L512.03 193.62L512.57 193.45L513.11 193.31L513.66 193.23L514.20 193.20L514.74 193.22L515.29 193.29L515.83 193.40L516.37 193.55L516.92 193.72L517.46 193.91L518.00 194.12L518.55 194.37L519.09 194.74L519.63 195.22L520.18 195.79L520.72 196.44L521.26 197.16L521.80 197.94L522.35 198.76L522.89 199.77L523.43 200.97L523.98 202.33L524.52 203.80L525.06 205.34L525.61 206.90L526.15 208.43L526.69 209.95L527.24 211.51L527.78 213.12L528.32 214.76L528.86 216.44L529.41 218.15L529.95 219.89L530.49 221.66L531.04 223.45L531.58 225.27L532.12 227.10L532.67 228.95L533.21 230.78L533.75 232.60L534.30 234.43L534.84 236.27L535.38 238.12L535.93 240.01L536.47 241.95L537.01 243.93L537.55 245.98L538.10 248.10L538.64 250.30L539.18 252.60L539.73 255.00L540.27 257.51L540.81 260.22L541.36 263.24L541.90 266.51L542.44 269.97L542.99 273.55L543.53 277.19L544.07 280.84L544.61 284.42L545.16 287.87L545.70 291.16L546.24 294.35L546.79 297.47L547.33 300.55L547.87 303.63L548.42 306.74L548.96 309.91L549.50 313.17L550.05 316.55L550.59 320.08L551.13 323.76L551.68 327.57L552.22 331.50L552.76 335.56L553.30 339.75L553.85 344.06L554.39 348.51L554.93 353.08L555.48 357.78L556.02 362.66L556.56 367.76L557.11 373.11L557.65 378.76L558.19 384.92L558.74 391.77L559.28 399.04L559.82 406.43L560.36 413.65L560.91 420.41L561.45 426.72L561.99 432.90L562.54 438.92L563.08 444.77L563.62 450.43L564.17 455.87L564.71 461.07L565.25 466.16L565.80 471.16L566.34 476.02L566.88 480.71L567.43 485.18L567.97 489.39L568.51 493.29L569.05 496.86L569.60 500.22L570.14 503.38L570.68 506.33L571.23 509.06L571.77 511.56L572.31 513.90L572.86 516.16L573.40 518.14L573.94 519.68L574.49 520.78L575.03 521.77L575.57 522.50L576.11 522.80L576.66 522.54L577.20 521.83L577.74 520.85L578.29 519.75L578.83 518.21L579.37 516.16L579.92 513.79L580.46 511.24L581.00 508.40L581.55 505.18L582.09 501.59L582.63 497.61L583.18 493.22L583.72 488.11L584.26 482.31L584.80 475.98L585.35 469.27L585.89 462.31L586.43 455.08L586.98 447.20L587.52 438.84L588.06 430.22L588.61 421.57L589.15 412.73L589.69 403.53L590.24 394.29L590.78 385.38L591.32 377.09L591.86 369.18L592.41 361.54L592.95 354.17L593.49 347.06L594.04 340.22L594.58 333.33L595.12 326.35L595.67 319.77L596.21 314.08L596.75 309.76L597.30 306.37L597.84 303.43L598.38 301.09L598.93 299.52L599.47 298.45L600.01 297.49L600.55 296.69L601.10 296.12L601.64 295.83L602.18 295.86L602.73 296.24L603.27 296.90L603.81 297.78L604.36 298.80L604.90 299.96L605.44 301.79L605.99 304.25L606.53 307.16L607.07 310.29L607.62 313.55L608.16 317.50L608.70 322.02L609.24 326.87L609.79 331.78L610.33 336.50L610.87 340.77L611.42 344.35L611.96 347.59L612.50 350.76L613.05 353.73L613.59 356.41L614.13 358.68L614.68 360.43L615.22 361.68L615.76 362.81L616.30 363.84L616.85 364.70L617.39 365.32L617.93 365.66L618.48 365.64L619.02 365.26L619.56 364.59L620.11 363.70L620.65 362.67L621.19 361.58L621.74 360.50L622.28 359.48L622.82 358.31L623.37 356.98L623.91 355.55L624.45 354.05L624.99 352.52L625.54 350.99L626.08 349.52L626.62 348.14L627.17 346.89L627.71 345.82L628.25 344.95L628.80 344.17L629.34 343.39L629.88 342.64L630.43 341.97L630.97 341.41L631.51 340.98L632.05 340.74L632.60 340.72L633.14 340.99L633.68 341.51L634.23 342.25L634.77 343.16L635.31 344.18L635.86 345.28L636.40 346.48L636.94 348.36L637.49 350.73L638.03 353.15L638.57 355.20L639.12 356.57L639.66 357.80L640.20 358.94L640.74 359.87L641.29 360.49L641.83 360.70L642.37 360.56L642.92 360.20L643.46 359.70L644.00 359.09L644.55 358.45L645.09 357.83L645.63 357.27L646.18 356.84L646.72 356.40L647.26 355.93L647.80 355.47L648.35 355.04L648.89 354.65L649.43 354.33L649.98 354.11L650.52 354.01L651.06 354.03L651.61 354.13L652.15 354.32L652.69 354.57L653.24 354.86L653.78 355.19L654.32 355.55L654.87 355.91L655.41 356.27L655.95 356.62L656.49 356.94L657.04 357.23L657.58 357.53L658.12 357.84L658.67 358.16L659.21 358.48L659.75 358.81L660.30 359.15L660.84 359.49L661.38 359.83L661.93 360.18L662.47 360.53L663.01 360.89L663.55 361.24L664.10 361.60L664.64 361.96L665.18 362.32L665.73 362.68L666.27 363.03L666.81 363.39L667.36 363.74L667.90 364.09L668.44 364.44L668.99 364.78L669.53 365.11L670.07 365.44L670.62 365.77L671.16 366.09L671.70 366.40L672.24 366.70L672.79 366.99L673.33 367.28L673.87 367.55L674.42 367.81L674.96 368.06L675.50 368.30L676.05 368.53L676.59 368.75L677.13 368.95L677.68 369.14L678.22 369.32L678.76 369.51L679.30 369.69L679.85 369.88L680.39 370.06L680.93 370.24L681.48 370.42L682.02 370.60L682.56 370.77L683.11 370.95L683.65 371.12L684.19 371.29L684.74 371.46L685.28 371.63L685.82 371.80L686.37 371.97L686.91 372.13L687.45 372.30L687.99 372.46L688.54 372.62L689.08 372.78L689.62 372.94L690.17 373.10L690.71 373.25L691.25 373.41L691.80 373.56L692.34 373.71L692.88 373.86L693.43 374.01L693.97 374.16L694.51 374.31L695.06 374.45L695.60 374.60L696.14 374.74L696.68 374.88L697.23 375.02L697.77 375.16L698.31 375.30L698.86 375.44L699.40 375.57L699.94 375.71L700.49 375.84L701.03 375.97L701.57 376.10L702.12 376.23L702.66 376.36L703.20 376.49L703.74 376.62L704.29 376.74L704.83 376.87L705.37 376.99L705.92 377.11L706.46 377.23L707.00 377.35L707.55 377.47L708.09 377.58L708.63 377.70L709.18 377.82L709.72 377.93L710.26 378.04L710.81 378.15L711.35 378.26L711.89 378.37L712.43 378.48L712.98 378.59L713.52 378.70L714.06 378.80L714.61 378.90L715.15 379.01L715.69 379.11L716.24 379.21L716.78 379.31L717.32 379.41L717.87 379.51L718.41 379.61L718.95 379.70L719.49 379.80L720.04 379.89L720.58 379.98L721.12 380.08L721.67 380.17L722.21 380.26L722.75 380.35L723.30 380.43L723.84 380.52L724.38 380.61L724.93 380.69L725.47 380.78L726.01 380.86L726.56 380.94L727.10 381.03L727.64 381.11L728.18 381.19L728.73 381.27L729.27 381.34L729.81 381.42L730.36 381.50L730.90 381.57L731.44 381.65L731.99 381.72L732.53 381.79L733.07 381.87L733.62 381.94L734.16 382.01L734.70 382.08L735.24 382.15L735.79 382.22L736.33 382.28L736.87 382.35L737.42 382.42L737.96 382.48L738.50 382.55L739.05 382.61L739.59 382.68L740.13 382.74L740.68 382.81L741.22 382.87L741.76 382.93L742.31 383.00L742.85 383.06L743.39 383.12L743.93 383.18L744.48 383.25L745.02 383.31L745.56 383.37L746.11 383.43L746.65 383.49L747.19 383.55L747.74 383.61L748.28 383.67L748.82 383.73L749.37 383.79L749.91 383.84L750.45 383.90L750.99 383.96L751.54 384.02L752.08 384.07L752.62 384.13L753.17 384.19L753.71 384.24L754.25 384.30L754.80 384.35L755.34 384.41L755.88 384.46L756.43 384.51L756.97 384.57L757.51 384.62L758.06 384.67L758.60 384.72L759.14 384.78L759.68 384.83L760.23 384.88L760.77 384.93L761.31 384.98L761.86 385.03L762.40 385.08L762.94 385.13L763.49 385.18L764.03 385.22L764.57 385.27L765.12 385.32L765.66 385.37L766.20 385.41L766.74 385.46L767.29 385.50L767.83 385.55L768.37 385.59L768.92 385.64L769.46 385.68L770.00 385.73L770.55 385.77L771.09 385.81L771.63 385.86L772.18 385.90L772.72 385.94L773.26 385.98L773.81 386.02L774.35 386.06L774.89 386.10L775.43 386.14L775.98 386.18L776.52 386.22L777.06 386.26L777.61 386.30L778.15 386.33L778.69 386.37L779.24 386.41L779.78 386.44L780.32 386.48L780.87 386.51L781.41 386.55L781.95 386.58L782.50 386.62L783.04 386.65L783.58 386.68L784.12 386.72L784.67 386.75L785.21 386.78L785.75 386.81L786.30 386.84L786.84 386.87L787.38 386.90L787.93 386.93L788.47 386.96L789.01 386.99L789.56 387.02L790.10 387.04L790.64 387.07L791.18 387.10L791.73 387.12L792.27 387.15L792.81 387.18L793.36 387.20L793.90 387.22L794.44 387.25L794.99 387.27L795.53 387.29L796.07 387.32L796.62 387.34L797.16 387.36L797.70 387.39L798.25 387.41L798.79 387.43L799.33 387.45L799.87 387.47L800.42 387.50L800.96 387.52L801.50 387.54L802.05 387.56L802.59 387.59L803.13 387.61L803.68 387.63L804.22 387.65L804.76 387.67L805.31 387.70L805.85 387.72L806.39 387.74L806.93 387.76L807.48 387.78L808.02 387.81L808.56 387.83L809.11 387.85L809.65 387.87L810.19 387.89L810.74 387.91L811.28 387.93L811.82 387.96L812.37 387.98L812.91 388.00L813.45 388.02L814.00 388.04L814.54 388.06L815.08 388.08L815.62 388.10L816.17 388.12L816.71 388.14L817.25 388.16L817.80 388.18L818.34 388.20L818.88 388.22L819.43 388.25L819.97 388.27L820.51 388.29L821.06 388.31L821.60 388.33L822.14 388.34L822.68 388.36L823.23 388.38L823.77 388.40L824.31 388.42L824.86 388.44L825.40 388.46L825.94 388.48L826.49 388.50L827.03 388.52L827.57 388.54L828.12 388.56L828.66 388.57L829.20 388.59L829.75 388.61L830.29 388.63L830.83 388.65L831.37 388.67L831.92 388.68L832.46 388.70L833.00 388.72L833.55 388.74L834.09 388.75L834.63 388.77L835.18 388.79L835.72 388.81L836.26 388.82L836.81 388.84L837.35 388.86L837.89 388.87L838.43 388.89L838.98 388.91L839.52 388.92L840.06 388.94L840.61 388.96L841.15 388.97L841.69 388.99L842.24 389.00L842.78 389.02L843.32 389.03L843.87 389.05L844.41 389.06L844.95 389.08L845.50 389.09L846.04 389.11L846.58 389.12L847.12 389.14L847.67 389.15L848.21 389.16L848.75 389.18L849.30 389.19L849.84 389.21L850.38 389.22L850.93 389.23L851.47 389.25L852.01 389.26L852.56 389.27L853.10 389.28L853.64 389.30L854.18 389.31L854.73 389.32L855.27 389.33L855.81 389.34L856.36 389.36L856.90 389.37L857.44 389.38L857.99 389.39L858.53 389.40L859.07 389.41L859.62 389.42L860.16 389.43L860.70 389.44L861.25 389.45L861.79 389.46L862.33 389.47L862.87 389.48L863.42 389.49L863.96 389.50L864.50 389.51L865.05 389.52L865.59 389.53L866.13 389.54L866.68 389.54L867.22 389.55L867.76 389.56L868.31 389.57L868.85 389.57L869.39 389.58L869.94 389.59L870.48 389.60L871.02 389.60L871.56 389.61L872.11 389.61L872.65 389.62L873.19 389.63L873.74 389.63L874.28 389.64L874.82 389.64L875.37 389.65L875.91 389.65L876.45 389.66L877.00 389.66L877.54 389.66L878.08 389.67L878.62 389.67L879.17 389.68L879.71 389.68L880.25 389.68L880.80 389.68L881.34 389.69L881.88 389.69L882.43 389.69L882.97 389.69L883.51 389.70L884.06 389.70L884.60 389.70L885.14 389.70L885.69 389.70L886.23 389.70L886.77 389.70L887.31 389.70L887.86 389.70L888.40 389.70L886.96 389.70" stroke="#3450aa" stroke-width="12.6" fill="none" stroke-linejoin="round" stroke-linecap="butt"/>
</g>
<rect x="237.45" y="30.45" width="762.15" height="761.02" fill="none" stroke="#231f20" stroke-width="3.1"/>
<path d="M236.40 791.47v-15.56M282.46 791.47v-8.3M309.41 791.47v-8.3M328.53 791.47v-8.3M343.36 791.47v-8.3M355.47 791.47v-8.3M365.72 791.47v-8.3M374.59 791.47v-8.3M382.42 791.47v-8.3M389.42 791.47v-15.56M435.48 791.47v-8.3M462.43 791.47v-8.3M481.55 791.47v-8.3M496.38 791.47v-8.3M508.49 791.47v-8.3M518.74 791.47v-8.3M527.61 791.47v-8.3M535.44 791.47v-8.3M542.44 791.47v-15.56M588.50 791.47v-8.3M615.45 791.47v-8.3M634.57 791.47v-8.3M649.40 791.47v-8.3M661.51 791.47v-8.3M671.76 791.47v-8.3M680.63 791.47v-8.3M688.46 791.47v-8.3M695.46 791.47v-15.56M741.52 791.47v-8.3M768.47 791.47v-8.3M787.59 791.47v-8.3M802.42 791.47v-8.3M814.53 791.47v-8.3M824.78 791.47v-8.3M833.65 791.47v-8.3M841.48 791.47v-8.3M848.48 791.47v-15.56M894.54 791.47v-8.3M921.49 791.47v-8.3M940.61 791.47v-8.3M955.44 791.47v-8.3M967.55 791.47v-8.3M977.80 791.47v-8.3M986.67 791.47v-8.3M994.50 791.47v-8.3M1001.50 791.47v-15.56" stroke="#231f20" stroke-width="3.1" fill="none"/>
<text x="197.40" y="764.10" font-size="63.3" text-anchor="end">0</text>
<text x="197.40" y="674.95" font-size="63.3" text-anchor="end">0.5</text>
<text x="197.40" y="585.80" font-size="63.3" text-anchor="end">1.0</text>
<text x="197.40" y="496.65" font-size="63.3" text-anchor="end">1.5</text>
<text x="197.40" y="407.50" font-size="63.3" text-anchor="end">2.0</text>
<text x="197.40" y="318.35" font-size="63.3" text-anchor="end">2.5</text>
<text x="197.40" y="229.20" font-size="63.3" text-anchor="end">3.0</text>
<text x="197.40" y="140.05" font-size="63.3" text-anchor="end">3.5</text>
<text x="197.40" y="50.90" font-size="63.3" text-anchor="end">4.0</text>
<path d="M237.45 745.50h-20.5M237.45 656.35h-20.5M237.45 567.20h-20.5M237.45 478.05h-20.5M237.45 388.90h-20.5M237.45 299.75h-20.5M237.45 210.60h-20.5M237.45 121.45h-20.5M237.45 30.45h-20.5" stroke="#231f20" stroke-width="3.1" fill="none"/>
<text x="238.30" y="867.9" font-size="55" text-anchor="middle">0.001</text>
<text x="389.50" y="867.9" font-size="55" text-anchor="middle">0.01</text>
<text x="540.70" y="867.9" font-size="55" text-anchor="middle">0.1</text>
<text x="691.90" y="867.9" font-size="55" text-anchor="middle">1</text>
<text x="843.10" y="867.9" font-size="55" text-anchor="middle">10</text>
<text x="994.30" y="867.9" font-size="55" text-anchor="middle">100</text>
<text x="611.50" y="933.0" font-size="55.8" text-anchor="middle"><tspan font-style="italic">D</tspan>/μm</text>
<text transform="translate(71.00 418.20) rotate(-90)" font-size="66" text-anchor="middle"><tspan font-style="italic">Q</tspan><tspan font-size="37" dy="11.8">sca</tspan></text>
<text x="23.75" y="51.0" font-size="63.3">(a)</text>
<path d="M676.05 86.20H795.05" stroke="#ed2129" stroke-width="12.6" fill="none"/>
<path d="M676.05 151.90H795.05" stroke="#62c232" stroke-width="12.6" fill="none"/>
<path d="M676.05 219.50H795.05" stroke="#3450aa" stroke-width="12.6" fill="none"/>
<text x="803.70" y="102.76" font-size="55.4">623 nm</text>
<text x="803.70" y="169.60" font-size="55.4">517 nm</text>
<text x="803.70" y="236.80" font-size="55.4">470 nm</text>
<path transform="scale(1.127 1)" d="M1134.59 745.50L1135.13 745.50L1135.67 745.50L1136.21 745.50L1136.74 745.50L1137.28 745.50L1137.82 745.50L1138.36 745.50L1138.90 745.50L1139.44 745.50L1139.98 745.50L1140.52 745.50L1141.06 745.50L1141.60 745.50L1142.14 745.50L1142.68 745.50L1143.22 745.50L1143.76 745.50L1144.30 745.50L1144.84 745.50L1145.37 745.50L1145.91 745.50L1146.45 745.50L1146.99 745.50L1147.53 745.50L1148.07 745.50L1148.61 745.50L1149.15 745.50L1149.69 745.50L1150.23 745.50L1150.77 745.50L1151.31 745.50L1151.85 745.50L1152.39 745.50L1152.93 745.50L1153.47 745.50L1154.00 745.50L1154.54 745.50L1155.08 745.50L1155.62 745.50L1156.16 745.50L1156.70 745.50L1157.24 745.50L1157.78 745.50L1158.32 745.50L1158.86 745.49L1159.40 745.49L1159.94 745.49L1160.48 745.49L1161.02 745.49L1161.56 745.49L1162.10 745.49L1162.63 745.49L1163.17 745.49L1163.71 745.49L1164.25 745.49L1164.79 745.48L1165.33 745.48L1165.87 745.48L1166.41 745.48L1166.95 745.48L1167.49 745.48L1168.03 745.48L1168.57 745.47L1169.11 745.47L1169.65 745.47L1170.19 745.47L1170.73 745.47L1171.26 745.47L1171.80 745.47L1172.34 745.46L1172.88 745.46L1173.42 745.46L1173.96 745.46L1174.50 745.46L1175.04 745.45L1175.58 745.45L1176.12 745.45L1176.66 745.45L1177.20 745.45L1177.74 745.44L1178.28 745.44L1178.82 745.44L1179.36 745.44L1179.89 745.43L1180.43 745.43L1180.97 745.43L1181.51 745.43L1182.05 745.42L1182.59 745.42L1183.13 745.42L1183.67 745.42L1184.21 745.41L1184.75 745.41L1185.29 745.41L1185.83 745.41L1186.37 745.40L1186.91 745.40L1187.45 745.40L1187.99 745.40L1188.52 745.39L1189.06 745.39L1189.60 745.39L1190.14 745.38L1190.68 745.38L1191.22 745.38L1191.76 745.38L1192.30 745.37L1192.84 745.37L1193.38 745.37L1193.92 745.36L1194.46 745.36L1195.00 745.36L1195.54 745.35L1196.08 745.35L1196.62 745.35L1197.15 745.34L1197.69 745.34L1198.23 745.34L1198.77 745.33L1199.31 745.33L1199.85 745.33L1200.39 745.32L1200.93 745.32L1201.47 745.32L1202.01 745.31L1202.55 745.31L1203.09 745.30L1203.63 745.30L1204.17 745.29L1204.71 745.28L1205.25 745.28L1205.78 745.27L1206.32 745.27L1206.86 745.26L1207.40 745.25L1207.94 745.24L1208.48 745.24L1209.02 745.23L1209.56 745.22L1210.10 745.21L1210.64 745.20L1211.18 745.19L1211.72 745.18L1212.26 745.17L1212.80 745.16L1213.34 745.15L1213.88 745.14L1214.41 745.13L1214.95 745.12L1215.49 745.11L1216.03 745.10L1216.57 745.09L1217.11 745.08L1217.65 745.06L1218.19 745.05L1218.73 745.04L1219.27 745.03L1219.81 745.01L1220.35 745.00L1220.89 744.99L1221.43 744.97L1221.97 744.96L1222.51 744.94L1223.05 744.93L1223.58 744.92L1224.12 744.90L1224.66 744.89L1225.20 744.87L1225.74 744.86L1226.28 744.84L1226.82 744.83L1227.36 744.81L1227.90 744.79L1228.44 744.78L1228.98 744.76L1229.52 744.74L1230.06 744.73L1230.60 744.71L1231.14 744.69L1231.68 744.67L1232.21 744.65L1232.75 744.62L1233.29 744.60L1233.83 744.58L1234.37 744.56L1234.91 744.53L1235.45 744.51L1235.99 744.48L1236.53 744.45L1237.07 744.43L1237.61 744.40L1238.15 744.37L1238.69 744.34L1239.23 744.31L1239.77 744.28L1240.31 744.25L1240.84 744.21L1241.38 744.18L1241.92 744.15L1242.46 744.11L1243.00 744.08L1243.54 744.04L1244.08 744.01L1244.62 743.97L1245.16 743.93L1245.70 743.89L1246.24 743.85L1246.78 743.82L1247.32 743.77L1247.86 743.73L1248.40 743.69L1248.94 743.65L1249.47 743.61L1250.01 743.56L1250.55 743.52L1251.09 743.48L1251.63 743.43L1252.17 743.38L1252.71 743.34L1253.25 743.29L1253.79 743.24L1254.33 743.19L1254.87 743.14L1255.41 743.09L1255.95 743.04L1256.49 742.98L1257.03 742.92L1257.57 742.86L1258.10 742.80L1258.64 742.73L1259.18 742.66L1259.72 742.59L1260.26 742.52L1260.80 742.44L1261.34 742.36L1261.88 742.28L1262.42 742.20L1262.96 742.12L1263.50 742.03L1264.04 741.95L1264.58 741.86L1265.12 741.77L1265.66 741.68L1266.20 741.58L1266.73 741.49L1267.27 741.39L1267.81 741.29L1268.35 741.19L1268.89 741.09L1269.43 740.98L1269.97 740.88L1270.51 740.77L1271.05 740.66L1271.59 740.56L1272.13 740.45L1272.67 740.33L1273.21 740.22L1273.75 740.11L1274.29 739.99L1274.83 739.88L1275.36 739.76L1275.90 739.64L1276.44 739.52L1276.98 739.40L1277.52 739.28L1278.06 739.16L1278.60 739.04L1279.14 738.92L1279.68 738.79L1280.22 738.67L1280.76 738.55L1281.30 738.42L1281.84 738.29L1282.38 738.16L1282.92 738.03L1283.46 737.90L1283.99 737.76L1284.53 737.63L1285.07 737.49L1285.61 737.35L1286.15 737.20L1286.69 737.05L1287.23 736.90L1287.77 736.75L1288.31 736.60L1288.85 736.44L1289.39 736.27L1289.93 736.11L1290.47 735.94L1291.01 735.77L1291.55 735.59L1292.09 735.41L1292.62 735.23L1293.16 735.04L1293.70 734.84L1294.24 734.65L1294.78 734.45L1295.32 734.24L1295.86 734.03L1296.40 733.81L1296.94 733.59L1297.48 733.37L1298.02 733.14L1298.56 732.90L1299.10 732.66L1299.64 732.41L1300.18 732.15L1300.72 731.87L1301.25 731.59L1301.79 731.29L1302.33 730.98L1302.87 730.66L1303.41 730.33L1303.95 729.99L1304.49 729.63L1305.03 729.27L1305.57 728.90L1306.11 728.52L1306.65 728.12L1307.19 727.72L1307.73 727.31L1308.27 726.89L1308.81 726.46L1309.35 726.02L1309.89 725.58L1310.42 725.12L1310.96 724.66L1311.50 724.19L1312.04 723.71L1312.58 723.23L1313.12 722.74L1313.66 722.24L1314.20 721.73L1314.74 721.22L1315.28 720.70L1315.82 720.17L1316.36 719.64L1316.90 719.11L1317.44 718.56L1317.98 718.00L1318.52 717.42L1319.05 716.82L1319.59 716.21L1320.13 715.59L1320.67 714.95L1321.21 714.29L1321.75 713.62L1322.29 712.94L1322.83 712.24L1323.37 711.53L1323.91 710.80L1324.45 710.07L1324.99 709.32L1325.53 708.55L1326.07 707.78L1326.61 706.99L1327.15 706.19L1327.68 705.38L1328.22 704.55L1328.76 703.72L1329.30 702.87L1329.84 702.02L1330.38 701.15L1330.92 700.27L1331.46 699.39L1332.00 698.49L1332.54 697.58L1333.08 696.67L1333.62 695.74L1334.16 694.81L1334.70 693.87L1335.24 692.92L1335.78 691.96L1336.31 690.99L1336.85 690.02L1337.39 689.04L1337.93 688.05L1338.47 687.05L1339.01 686.05L1339.55 685.04L1340.09 684.03L1340.63 683.01L1341.17 681.98L1341.71 680.95L1342.25 679.89L1342.79 678.82L1343.33 677.72L1343.87 676.60L1344.41 675.46L1344.94 674.29L1345.48 673.10L1346.02 671.89L1346.56 670.66L1347.10 669.41L1347.64 668.15L1348.18 666.86L1348.72 665.55L1349.26 664.22L1349.80 662.87L1350.34 661.51L1350.88 660.13L1351.42 658.73L1351.96 657.31L1352.50 655.88L1353.04 654.43L1353.57 652.96L1354.11 651.48L1354.65 649.98L1355.19 648.47L1355.73 646.94L1356.27 645.37L1356.81 643.77L1357.35 642.13L1357.89 640.46L1358.43 638.76L1358.97 637.03L1359.51 635.27L1360.05 633.48L1360.59 631.66L1361.13 629.81L1361.67 627.94L1362.20 626.05L1362.74 624.13L1363.28 622.19L1363.82 620.23L1364.36 618.25L1364.90 616.25L1365.44 614.24L1365.98 612.18L1366.52 610.06L1367.06 607.90L1367.60 605.70L1368.14 603.46L1368.68 601.19L1369.22 598.89L1369.76 596.56L1370.30 594.22L1370.83 591.87L1371.37 589.51L1371.91 587.14L1372.45 584.78L1372.99 582.42L1373.53 580.07L1374.07 577.75L1374.61 575.44L1375.15 573.13L1375.69 570.83L1376.23 568.51L1376.77 566.17L1377.31 563.81L1377.85 561.40L1378.39 558.96L1378.93 556.46L1379.46 553.89L1380.00 551.26L1380.54 548.55L1381.08 545.76L1381.62 542.93L1382.16 540.04L1382.70 537.11L1383.24 534.14L1383.78 531.12L1384.32 528.05L1384.86 524.94L1385.40 521.80L1385.94 518.61L1386.48 515.38L1387.02 512.12L1387.56 508.82L1388.09 505.48L1388.63 502.11L1389.17 498.70L1389.71 495.27L1390.25 491.80L1390.79 488.30L1391.33 484.78L1391.87 481.22L1392.41 477.64L1392.95 474.04L1393.49 470.41L1394.03 466.75L1394.57 463.08L1395.11 459.38L1395.65 455.66L1396.19 451.93L1396.73 448.18L1397.26 444.41L1397.80 440.62L1398.34 436.82L1398.88 433.01L1399.42 429.19L1399.96 425.35L1400.50 421.50L1401.04 417.65L1401.58 413.78L1402.12 409.91L1402.66 406.04L1403.20 402.15L1403.74 398.27L1404.28 394.38L1404.82 390.49L1405.36 386.60L1405.89 382.70L1406.43 378.81L1406.97 374.92L1407.51 371.04L1408.05 367.15L1408.59 363.28L1409.13 359.40L1409.67 355.54L1410.21 351.68L1410.75 347.83L1411.29 343.99L1411.83 340.16L1412.37 336.35L1412.91 332.54L1413.45 328.75L1413.99 324.97L1414.52 321.21L1415.06 317.47L1415.60 313.74L1416.14 310.03L1416.68 306.34L1417.22 302.67L1417.76 299.03L1418.30 295.40L1418.84 291.80L1419.38 288.22L1419.92 284.67L1420.46 281.10L1421.00 277.54L1421.54 274.01L1422.08 270.52L1422.62 267.11L1423.15 263.78L1423.69 260.55L1424.23 257.33L1424.77 254.11L1425.31 250.90L1425.85 247.72L1426.39 244.57L1426.93 241.47L1427.47 238.41L1428.01 235.42L1428.55 232.51L1429.09 229.67L1429.63 226.93L1430.17 224.29L1430.71 221.76L1431.25 219.35L1431.78 217.04L1432.32 214.81L1432.86 212.66L1433.40 210.58L1433.94 208.57L1434.48 206.60L1435.02 204.68L1435.56 202.79L1436.10 200.94L1436.64 199.10L1437.18 197.27L1437.72 195.40L1438.26 193.54L1438.80 191.72L1439.34 190.00L1439.88 188.43L1440.41 187.04L1440.95 185.88L1441.49 184.83L1442.03 183.84L1442.57 182.92L1443.11 182.12L1443.65 181.45L1444.19 180.94L1444.73 180.59L1445.27 180.30L1445.81 180.03L1446.35 179.80L1446.89 179.61L1447.43 179.47L1447.97 179.36L1448.51 179.30L1449.04 179.30L1449.58 179.35L1450.12 179.47L1450.66 179.63L1451.20 179.85L1451.74 180.10L1452.28 180.40L1452.82 180.72L1453.36 181.11L1453.90 181.63L1454.44 182.28L1454.98 183.03L1455.52 183.88L1456.06 184.79L1456.60 185.77L1457.14 186.83L1457.67 188.09L1458.21 189.56L1458.75 191.18L1459.29 192.91L1459.83 194.70L1460.37 196.51L1460.91 198.29L1461.45 200.09L1461.99 201.93L1462.53 203.82L1463.07 205.74L1463.61 207.71L1464.15 209.71L1464.69 211.73L1465.23 213.79L1465.77 215.87L1466.30 217.96L1466.84 220.08L1467.38 222.20L1467.92 224.30L1468.46 226.39L1469.00 228.49L1469.54 230.59L1470.08 232.71L1470.62 234.86L1471.16 237.05L1471.70 239.29L1472.24 241.59L1472.78 243.95L1473.32 246.40L1473.86 248.93L1474.40 251.57L1474.93 254.31L1475.47 257.28L1476.01 260.55L1476.55 264.04L1477.09 267.71L1477.63 271.48L1478.17 275.29L1478.71 279.09L1479.25 282.80L1479.79 286.36L1480.33 289.76L1480.87 293.06L1481.41 296.29L1481.95 299.49L1482.49 302.69L1483.03 305.91L1483.57 309.20L1484.10 312.58L1484.64 316.07L1485.18 319.73L1485.72 323.51L1486.26 327.42L1486.80 331.45L1487.34 335.60L1487.88 339.87L1488.42 344.27L1488.96 348.80L1489.50 353.44L1490.04 358.23L1490.58 363.19L1491.12 368.38L1491.66 373.82L1492.20 379.58L1492.73 385.92L1493.27 392.91L1493.81 400.25L1494.35 407.66L1494.89 414.83L1495.43 421.49L1495.97 427.79L1496.51 433.96L1497.05 439.97L1497.59 445.79L1498.13 451.42L1498.67 456.83L1499.21 462.00L1499.75 467.09L1500.29 472.07L1500.83 476.91L1501.36 481.57L1501.90 486.00L1502.44 490.15L1502.98 493.99L1503.52 497.52L1504.06 500.84L1504.60 503.97L1505.14 506.87L1505.68 509.56L1506.22 512.01L1506.76 514.35L1507.30 516.57L1507.84 518.48L1508.38 519.91L1508.92 520.98L1509.46 521.94L1509.99 522.59L1510.53 522.78L1511.07 522.42L1511.61 521.64L1512.15 520.63L1512.69 519.48L1513.23 517.82L1513.77 515.69L1514.31 513.27L1514.85 510.69L1515.39 507.77L1515.93 504.48L1516.47 500.81L1517.01 496.75L1517.55 492.24L1518.09 486.97L1518.62 481.06L1519.16 474.64L1519.70 467.87L1520.24 460.88L1520.78 453.53L1521.32 445.53L1521.86 437.10L1522.40 428.46L1522.94 419.82L1523.48 410.88L1524.02 401.64L1524.56 392.44L1525.10 383.64L1525.64 375.46L1526.18 367.61L1526.72 360.02L1527.25 352.70L1527.79 345.64L1528.33 338.85L1528.87 331.90L1529.41 324.96L1529.95 318.52L1530.49 313.07L1531.03 309.05L1531.57 305.73L1532.11 302.90L1532.65 300.70L1533.19 299.29L1533.73 298.24L1534.27 297.31L1534.81 296.56L1535.35 296.04L1535.88 295.81L1536.42 295.92L1536.96 296.36L1537.50 297.07L1538.04 297.98L1538.58 299.02L1539.12 300.27L1539.66 302.24L1540.20 304.82L1540.74 307.78L1541.28 310.94L1541.82 314.30L1542.36 318.38L1542.90 322.99L1543.44 327.87L1543.98 332.76L1544.51 337.41L1545.05 341.57L1545.59 345.01L1546.13 348.25L1546.67 351.38L1547.21 354.30L1547.75 356.90L1548.29 359.08L1548.83 360.72L1549.37 361.92L1549.91 363.03L1550.45 364.03L1550.99 364.84L1551.53 365.42L1552.07 365.69L1552.61 365.59L1553.14 365.15L1553.68 364.42L1554.22 363.50L1554.76 362.45L1555.30 361.36L1555.84 360.29L1556.38 359.25L1556.92 358.05L1557.46 356.70L1558.00 355.25L1558.54 353.74L1559.08 352.20L1559.62 350.69L1560.16 349.23L1560.70 347.88L1561.24 346.66L1561.77 345.62L1562.31 344.79L1562.85 344.01L1563.39 343.23L1563.93 342.50L1564.47 341.85L1565.01 341.31L1565.55 340.92L1566.09 340.72L1566.63 340.75L1567.17 341.08L1567.71 341.65L1568.25 342.42L1568.79 343.36L1569.33 344.40L1569.87 345.51L1570.41 346.80L1570.94 348.81L1571.48 351.23L1572.02 353.61L1572.56 355.53L1573.10 356.83L1573.64 358.05L1574.18 359.15L1574.72 360.03L1575.26 360.57L1575.80 360.69L1576.34 360.50L1576.88 360.11L1577.42 359.58L1577.96 358.96L1578.50 358.32L1579.04 357.71L1579.57 357.18L1580.11 356.75L1580.65 356.30L1581.19 355.84L1581.73 355.38L1582.27 354.95L1582.81 354.58L1583.35 354.28L1583.89 354.08L1584.43 354.00L1584.97 354.04L1585.51 354.17L1586.05 354.36L1586.59 354.62L1587.13 354.93L1587.67 355.26L1588.20 355.62L1588.74 355.99L1589.28 356.35L1589.82 356.69L1590.36 357.00L1590.90 357.29L1591.44 357.59L1591.98 357.90L1592.52 358.22L1593.06 358.55L1593.60 358.88L1594.14 359.22L1594.68 359.56L1595.22 359.90L1595.76 360.25L1596.30 360.61L1596.83 360.96L1597.37 361.32L1597.91 361.68L1598.45 362.03L1598.99 362.39L1599.53 362.75L1600.07 363.11L1600.61 363.46L1601.15 363.81L1601.69 364.16L1602.23 364.51L1602.77 364.85L1603.31 365.18L1603.85 365.51L1604.39 365.83L1604.93 366.15L1605.46 366.46L1606.00 366.76L1606.54 367.05L1607.08 367.33L1607.62 367.60L1608.16 367.86L1608.70 368.11L1609.24 368.35L1609.78 368.58L1610.32 368.79L1610.86 368.99L1611.40 369.17L1611.94 369.36L1612.48 369.55L1613.02 369.73L1613.56 369.92L1614.09 370.10L1614.63 370.28L1615.17 370.46L1615.71 370.63L1616.25 370.81L1616.79 370.98L1617.33 371.16L1617.87 371.33L1618.41 371.50L1618.95 371.67L1619.49 371.84L1620.03 372.00L1620.57 372.17L1621.11 372.33L1621.65 372.49L1622.19 372.65L1622.72 372.81L1623.26 372.97L1623.80 373.13L1624.34 373.28L1624.88 373.44L1625.42 373.59L1625.96 373.74L1626.50 373.89L1627.04 374.04L1627.58 374.19L1628.12 374.34L1628.66 374.48L1629.20 374.63L1629.74 374.77L1630.28 374.91L1630.82 375.05L1631.35 375.19L1631.89 375.33L1632.43 375.47L1632.97 375.60L1633.51 375.74L1634.05 375.87L1634.59 376.00L1635.13 376.13L1635.67 376.26L1636.21 376.39L1636.75 376.52L1637.29 376.64L1637.83 376.77L1638.37 376.89L1638.91 377.01L1639.45 377.13L1639.98 377.25L1640.52 377.37L1641.06 377.49L1641.60 377.61L1642.14 377.72L1642.68 377.84L1643.22 377.95L1643.76 378.06L1644.30 378.18L1644.84 378.29L1645.38 378.40L1645.92 378.50L1646.46 378.61L1647.00 378.72L1647.54 378.82L1648.08 378.93L1648.61 379.03L1649.15 379.13L1649.69 379.23L1650.23 379.33L1650.77 379.43L1651.31 379.53L1651.85 379.62L1652.39 379.72L1652.93 379.82L1653.47 379.91L1654.01 380.00L1654.55 380.09L1655.09 380.18L1655.63 380.27L1656.17 380.36L1656.71 380.45L1657.25 380.54L1657.78 380.63L1658.32 380.71L1658.86 380.79L1659.40 380.88L1659.94 380.96L1660.48 381.04L1661.02 381.12L1661.56 381.20L1662.10 381.28L1662.64 381.36L1663.18 381.44L1663.72 381.51L1664.26 381.59L1664.80 381.66L1665.34 381.74L1665.88 381.81L1666.41 381.88L1666.95 381.95L1667.49 382.02L1668.03 382.09L1668.57 382.16L1669.11 382.23L1669.65 382.30L1670.19 382.36L1670.73 382.43L1671.27 382.50L1671.81 382.56L1672.35 382.63L1672.89 382.69L1673.43 382.76L1673.97 382.82L1674.51 382.88L1675.04 382.95L1675.58 383.01L1676.12 383.07L1676.66 383.14L1677.20 383.20L1677.74 383.26L1678.28 383.32L1678.82 383.38L1679.36 383.44L1679.90 383.50L1680.44 383.56L1680.98 383.62L1681.52 383.68L1682.06 383.74L1682.60 383.80L1683.14 383.86L1683.67 383.91L1684.21 383.97L1684.75 384.03L1685.29 384.08L1685.83 384.14L1686.37 384.20L1686.91 384.25L1687.45 384.31L1687.99 384.36L1688.53 384.42L1689.07 384.47L1689.61 384.52L1690.15 384.58L1690.69 384.63L1691.23 384.68L1691.77 384.73L1692.30 384.79L1692.84 384.84L1693.38 384.89L1693.92 384.94L1694.46 384.99L1695.00 385.04L1695.54 385.09L1696.08 385.14L1696.62 385.19L1697.16 385.23L1697.70 385.28L1698.24 385.33L1698.78 385.38L1699.32 385.42L1699.86 385.47L1700.40 385.51L1700.93 385.56L1701.47 385.60L1702.01 385.65L1702.55 385.69L1703.09 385.74L1703.63 385.78L1704.17 385.82L1704.71 385.86L1705.25 385.91L1705.79 385.95L1706.33 385.99L1706.87 386.03L1707.41 386.07L1707.95 386.11L1708.49 386.15L1709.03 386.19L1709.56 386.23L1710.10 386.27L1710.64 386.30L1711.18 386.34L1711.72 386.38L1712.26 386.41L1712.80 386.45L1713.34 386.49L1713.88 386.52L1714.42 386.56L1714.96 386.59L1715.50 386.62L1716.04 386.66L1716.58 386.69L1717.12 386.72L1717.66 386.75L1718.19 386.79L1718.73 386.82L1719.27 386.85L1719.81 386.88L1720.35 386.91L1720.89 386.94L1721.43 386.97L1721.97 386.99L1722.51 387.02L1723.05 387.05L1723.59 387.08L1724.13 387.10L1724.67 387.13L1725.21 387.16L1725.75 387.18L1726.29 387.21L1726.82 387.23L1727.36 387.25L1727.90 387.28L1728.44 387.30L1728.98 387.32L1729.52 387.34L1730.06 387.37L1730.60 387.39L1731.14 387.41L1731.68 387.43L1732.22 387.46L1732.76 387.48L1733.30 387.50L1733.84 387.52L1734.38 387.55L1734.92 387.57L1735.45 387.59L1735.99 387.61L1736.53 387.63L1737.07 387.66L1737.61 387.68L1738.15 387.70L1738.69 387.72L1739.23 387.74L1739.77 387.77L1740.31 387.79L1740.85 387.81L1741.39 387.83L1741.93 387.85L1742.47 387.87L1743.01 387.90L1743.55 387.92L1744.09 387.94L1744.62 387.96L1745.16 387.98L1745.70 388.00L1746.24 388.02L1746.78 388.04L1747.32 388.06L1747.86 388.09L1748.40 388.11L1748.94 388.13L1749.48 388.15L1750.02 388.17L1750.56 388.19L1751.10 388.21L1751.64 388.23L1752.18 388.25L1752.72 388.27L1753.25 388.29L1753.79 388.31L1754.33 388.33L1754.87 388.35L1755.41 388.37L1755.95 388.39L1756.49 388.41L1757.03 388.43L1757.57 388.45L1758.11 388.47L1758.65 388.48L1759.19 388.50L1759.73 388.52L1760.27 388.54L1760.81 388.56L1761.35 388.58L1761.88 388.60L1762.42 388.62L1762.96 388.63L1763.50 388.65L1764.04 388.67L1764.58 388.69L1765.12 388.71L1765.66 388.72L1766.20 388.74L1766.74 388.76L1767.28 388.78L1767.82 388.79L1768.36 388.81L1768.90 388.83L1769.44 388.84L1769.98 388.86L1770.51 388.88L1771.05 388.89L1771.59 388.91L1772.13 388.93L1772.67 388.94L1773.21 388.96L1773.75 388.97L1774.29 388.99L1774.83 389.01L1775.37 389.02L1775.91 389.04L1776.45 389.05L1776.99 389.07L1777.53 389.08L1778.07 389.10L1778.61 389.11L1779.14 389.12L1779.68 389.14L1780.22 389.15L1780.76 389.17L1781.30 389.18L1781.84 389.19L1782.38 389.21L1782.92 389.22L1783.46 389.23L1784.00 389.25L1784.54 389.26L1785.08 389.27L1785.62 389.29L1786.16 389.30L1786.70 389.31L1787.24 389.32L1787.77 389.33L1788.31 389.35L1788.85 389.36L1789.39 389.37L1789.93 389.38L1790.47 389.39L1791.01 389.40L1791.55 389.41L1792.09 389.42L1792.63 389.43L1793.17 389.44L1793.71 389.45L1794.25 389.46L1794.79 389.47L1795.33 389.48L1795.87 389.49L1796.40 389.50" stroke="#ed2129" stroke-width="12.6" fill="none" stroke-linejoin="round" stroke-linecap="butt"/>
<path transform="scale(1.127 1)" d="M1134.59 745.50L1135.13 745.50L1135.67 745.50L1136.21 745.50L1136.74 745.50L1137.28 745.50L1137.82 745.50L1138.36 745.50L1138.90 745.50L1139.44 745.50L1139.98 745.50L1140.52 745.50L1141.06 745.50L1141.60 745.50L1142.14 745.50L1142.68 745.50L1143.22 745.50L1143.76 745.50L1144.30 745.50L1144.84 745.50L1145.37 745.50L1145.91 745.50L1146.45 745.50L1146.99 745.50L1147.53 745.50L1148.07 745.49L1148.61 745.49L1149.15 745.49L1149.69 745.49L1150.23 745.49L1150.77 745.49L1151.31 745.49L1151.85 745.49L1152.39 745.49L1152.93 745.49L1153.47 745.49L1154.00 745.48L1154.54 745.48L1155.08 745.48L1155.62 745.48L1156.16 745.48L1156.70 745.48L1157.24 745.48L1157.78 745.47L1158.32 745.47L1158.86 745.47L1159.40 745.47L1159.94 745.47L1160.48 745.47L1161.02 745.46L1161.56 745.46L1162.10 745.46L1162.63 745.46L1163.17 745.46L1163.71 745.46L1164.25 745.45L1164.79 745.45L1165.33 745.45L1165.87 745.45L1166.41 745.45L1166.95 745.44L1167.49 745.44L1168.03 745.44L1168.57 745.44L1169.11 745.43L1169.65 745.43L1170.19 745.43L1170.73 745.43L1171.26 745.42L1171.80 745.42L1172.34 745.42L1172.88 745.42L1173.42 745.41L1173.96 745.41L1174.50 745.41L1175.04 745.41L1175.58 745.40L1176.12 745.40L1176.66 745.40L1177.20 745.40L1177.74 745.39L1178.28 745.39L1178.82 745.39L1179.36 745.38L1179.89 745.38L1180.43 745.38L1180.97 745.37L1181.51 745.37L1182.05 745.37L1182.59 745.37L1183.13 745.36L1183.67 745.36L1184.21 745.36L1184.75 745.35L1185.29 745.35L1185.83 745.35L1186.37 745.34L1186.91 745.34L1187.45 745.34L1187.99 745.33L1188.52 745.33L1189.06 745.33L1189.60 745.32L1190.14 745.32L1190.68 745.31L1191.22 745.31L1191.76 745.31L1192.30 745.30L1192.84 745.29L1193.38 745.29L1193.92 745.28L1194.46 745.28L1195.00 745.27L1195.54 745.26L1196.08 745.26L1196.62 745.25L1197.15 745.24L1197.69 745.23L1198.23 745.23L1198.77 745.22L1199.31 745.21L1199.85 745.20L1200.39 745.19L1200.93 745.18L1201.47 745.17L1202.01 745.16L1202.55 745.15L1203.09 745.14L1203.63 745.13L1204.17 745.12L1204.71 745.11L1205.25 745.10L1205.78 745.08L1206.32 745.07L1206.86 745.06L1207.40 745.05L1207.94 745.04L1208.48 745.02L1209.02 745.01L1209.56 745.00L1210.10 744.98L1210.64 744.97L1211.18 744.96L1211.72 744.94L1212.26 744.93L1212.80 744.91L1213.34 744.90L1213.88 744.88L1214.41 744.87L1214.95 744.85L1215.49 744.84L1216.03 744.82L1216.57 744.81L1217.11 744.79L1217.65 744.77L1218.19 744.76L1218.73 744.74L1219.27 744.72L1219.81 744.70L1220.35 744.68L1220.89 744.66L1221.43 744.64L1221.97 744.62L1222.51 744.60L1223.05 744.57L1223.58 744.55L1224.12 744.52L1224.66 744.50L1225.20 744.47L1225.74 744.45L1226.28 744.42L1226.82 744.39L1227.36 744.36L1227.90 744.33L1228.44 744.30L1228.98 744.27L1229.52 744.24L1230.06 744.21L1230.60 744.17L1231.14 744.14L1231.68 744.10L1232.21 744.07L1232.75 744.03L1233.29 744.00L1233.83 743.96L1234.37 743.92L1234.91 743.88L1235.45 743.84L1235.99 743.81L1236.53 743.76L1237.07 743.72L1237.61 743.68L1238.15 743.64L1238.69 743.60L1239.23 743.55L1239.77 743.51L1240.31 743.46L1240.84 743.42L1241.38 743.37L1241.92 743.33L1242.46 743.28L1243.00 743.23L1243.54 743.18L1244.08 743.13L1244.62 743.08L1245.16 743.02L1245.70 742.97L1246.24 742.91L1246.78 742.84L1247.32 742.78L1247.86 742.71L1248.40 742.64L1248.94 742.57L1249.47 742.50L1250.01 742.42L1250.55 742.34L1251.09 742.26L1251.63 742.18L1252.17 742.10L1252.71 742.01L1253.25 741.93L1253.79 741.84L1254.33 741.75L1254.87 741.65L1255.41 741.56L1255.95 741.46L1256.49 741.36L1257.03 741.26L1257.57 741.16L1258.10 741.06L1258.64 740.96L1259.18 740.85L1259.72 740.75L1260.26 740.64L1260.80 740.53L1261.34 740.42L1261.88 740.31L1262.42 740.19L1262.96 740.08L1263.50 739.96L1264.04 739.85L1264.58 739.73L1265.12 739.61L1265.66 739.49L1266.20 739.37L1266.73 739.25L1267.27 739.13L1267.81 739.01L1268.35 738.89L1268.89 738.76L1269.43 738.64L1269.97 738.51L1270.51 738.39L1271.05 738.26L1271.59 738.13L1272.13 738.00L1272.67 737.87L1273.21 737.73L1273.75 737.59L1274.29 737.45L1274.83 737.31L1275.36 737.17L1275.90 737.02L1276.44 736.87L1276.98 736.71L1277.52 736.56L1278.06 736.40L1278.60 736.23L1279.14 736.07L1279.68 735.90L1280.22 735.72L1280.76 735.55L1281.30 735.36L1281.84 735.18L1282.38 734.99L1282.92 734.80L1283.46 734.60L1283.99 734.40L1284.53 734.19L1285.07 733.98L1285.61 733.76L1286.15 733.54L1286.69 733.31L1287.23 733.08L1287.77 732.84L1288.31 732.60L1288.85 732.35L1289.39 732.08L1289.93 731.80L1290.47 731.51L1291.01 731.21L1291.55 730.90L1292.09 730.58L1292.62 730.24L1293.16 729.90L1293.70 729.54L1294.24 729.18L1294.78 728.80L1295.32 728.42L1295.86 728.02L1296.40 727.62L1296.94 727.21L1297.48 726.78L1298.02 726.35L1298.56 725.91L1299.10 725.46L1299.64 725.01L1300.18 724.54L1300.72 724.07L1301.25 723.59L1301.79 723.11L1302.33 722.61L1302.87 722.11L1303.41 721.60L1303.95 721.09L1304.49 720.57L1305.03 720.04L1305.57 719.51L1306.11 718.97L1306.65 718.42L1307.19 717.85L1307.73 717.27L1308.27 716.67L1308.81 716.06L1309.35 715.43L1309.89 714.78L1310.42 714.12L1310.96 713.45L1311.50 712.76L1312.04 712.06L1312.58 711.35L1313.12 710.62L1313.66 709.88L1314.20 709.13L1314.74 708.36L1315.28 707.58L1315.82 706.79L1316.36 705.99L1316.90 705.17L1317.44 704.35L1317.98 703.51L1318.52 702.66L1319.05 701.80L1319.59 700.93L1320.13 700.05L1320.67 699.16L1321.21 698.26L1321.75 697.36L1322.29 696.44L1322.83 695.51L1323.37 694.57L1323.91 693.63L1324.45 692.68L1324.99 691.72L1325.53 690.75L1326.07 689.77L1326.61 688.79L1327.15 687.80L1327.68 686.80L1328.22 685.80L1328.76 684.79L1329.30 683.77L1329.84 682.75L1330.38 681.72L1330.92 680.69L1331.46 679.63L1332.00 678.55L1332.54 677.44L1333.08 676.32L1333.62 675.17L1334.16 674.00L1334.70 672.80L1335.24 671.59L1335.78 670.35L1336.31 669.10L1336.85 667.83L1337.39 666.53L1337.93 665.22L1338.47 663.89L1339.01 662.53L1339.55 661.17L1340.09 659.78L1340.63 658.38L1341.17 656.95L1341.71 655.52L1342.25 654.06L1342.79 652.59L1343.33 651.11L1343.87 649.61L1344.41 648.09L1344.94 646.55L1345.48 644.98L1346.02 643.37L1346.56 641.72L1347.10 640.04L1347.64 638.33L1348.18 636.59L1348.72 634.82L1349.26 633.02L1349.80 631.20L1350.34 629.35L1350.88 627.47L1351.42 625.57L1351.96 623.65L1352.50 621.70L1353.04 619.74L1353.57 617.75L1354.11 615.75L1354.65 613.73L1355.19 611.65L1355.73 609.53L1356.27 607.36L1356.81 605.15L1357.35 602.90L1357.89 600.62L1358.43 598.31L1358.97 595.98L1359.51 593.64L1360.05 591.28L1360.59 588.92L1361.13 586.55L1361.67 584.19L1362.20 581.83L1362.74 579.49L1363.28 577.17L1363.82 574.86L1364.36 572.56L1364.90 570.25L1365.44 567.93L1365.98 565.58L1366.52 563.21L1367.06 560.80L1367.60 558.34L1368.14 555.82L1368.68 553.24L1369.22 550.59L1369.76 547.86L1370.30 545.06L1370.83 542.21L1371.37 539.32L1371.91 536.37L1372.45 533.39L1372.99 530.35L1373.53 527.28L1374.07 524.16L1374.61 521.00L1375.15 517.81L1375.69 514.57L1376.23 511.29L1376.77 507.98L1377.31 504.64L1377.85 501.26L1378.39 497.84L1378.93 494.40L1379.46 490.92L1380.00 487.42L1380.54 483.89L1381.08 480.32L1381.62 476.74L1382.16 473.12L1382.70 469.49L1383.24 465.83L1383.78 462.15L1384.32 458.44L1384.86 454.72L1385.40 450.98L1385.94 447.22L1386.48 443.45L1387.02 439.65L1387.56 435.85L1388.09 432.03L1388.63 428.20L1389.17 424.36L1389.71 420.51L1390.25 416.64L1390.79 412.77L1391.33 408.90L1391.87 405.01L1392.41 401.12L1392.95 397.23L1393.49 393.34L1394.03 389.44L1394.57 385.54L1395.11 381.64L1395.65 377.74L1396.19 373.84L1396.73 369.94L1397.26 366.05L1397.80 362.16L1398.34 358.28L1398.88 354.40L1399.42 350.53L1399.96 346.67L1400.50 342.82L1401.04 338.98L1401.58 335.14L1402.12 331.32L1402.66 327.52L1403.20 323.72L1403.74 319.94L1404.28 316.18L1404.82 312.43L1405.36 308.70L1405.89 304.99L1406.43 301.29L1406.97 297.62L1407.51 293.97L1408.05 290.34L1408.59 286.73L1409.13 283.14L1409.67 279.54L1410.21 275.94L1410.75 272.37L1411.29 268.86L1411.83 265.42L1412.37 262.08L1412.91 258.81L1413.45 255.54L1413.99 252.27L1414.52 249.02L1415.06 245.79L1415.60 242.60L1416.14 239.45L1416.68 236.36L1417.22 233.33L1417.76 230.37L1418.30 227.50L1418.84 224.72L1419.38 222.05L1419.92 219.49L1420.46 217.04L1421.00 214.69L1421.54 212.43L1422.08 210.24L1422.62 208.11L1423.15 206.05L1423.69 204.03L1424.23 202.06L1424.77 200.12L1425.31 198.22L1425.85 196.33L1426.39 194.43L1426.93 192.51L1427.47 190.60L1428.01 188.75L1428.55 187.01L1429.09 185.43L1429.63 184.05L1430.17 182.90L1430.71 181.82L1431.25 180.80L1431.78 179.88L1432.32 179.07L1432.86 178.41L1433.40 177.91L1433.94 177.57L1434.48 177.26L1435.02 176.98L1435.56 176.75L1436.10 176.56L1436.64 176.41L1437.18 176.31L1437.72 176.27L1438.26 176.28L1438.80 176.35L1439.34 176.49L1439.88 176.68L1440.41 176.92L1440.95 177.20L1441.49 177.52L1442.03 177.88L1442.57 178.33L1443.11 178.92L1443.65 179.62L1444.19 180.44L1444.73 181.34L1445.27 182.31L1445.81 183.35L1446.35 184.49L1446.89 185.86L1447.43 187.42L1447.97 189.12L1448.51 190.92L1449.04 192.78L1449.58 194.64L1450.12 196.47L1450.66 198.34L1451.20 200.25L1451.74 202.21L1452.28 204.21L1452.82 206.24L1453.36 208.31L1453.90 210.40L1454.44 212.52L1454.98 214.67L1455.52 216.83L1456.06 219.01L1456.60 221.19L1457.14 223.35L1457.67 225.50L1458.21 227.65L1458.75 229.81L1459.29 231.99L1459.83 234.21L1460.37 236.46L1460.91 238.77L1461.45 241.13L1461.99 243.57L1462.53 246.08L1463.07 248.69L1463.61 251.39L1464.15 254.22L1464.69 257.31L1465.23 260.68L1465.77 264.27L1466.30 268.00L1466.84 271.83L1467.38 275.68L1467.92 279.49L1468.46 283.20L1469.00 286.75L1469.54 290.15L1470.08 293.46L1470.62 296.71L1471.16 299.93L1471.70 303.15L1472.24 306.41L1472.78 309.74L1473.32 313.16L1473.86 316.72L1474.40 320.42L1474.93 324.26L1475.47 328.21L1476.01 332.29L1476.55 336.48L1477.09 340.80L1477.63 345.24L1478.17 349.81L1478.71 354.50L1479.25 359.33L1479.79 364.36L1480.33 369.61L1480.87 375.14L1481.41 381.00L1481.95 387.54L1482.49 394.65L1483.03 402.05L1483.57 409.43L1484.10 416.50L1484.64 423.03L1485.18 429.30L1485.72 435.44L1486.26 441.40L1486.80 447.19L1487.34 452.76L1487.88 458.11L1488.42 463.26L1488.96 468.32L1489.50 473.28L1490.04 478.08L1490.58 482.68L1491.12 487.05L1491.66 491.13L1492.20 494.88L1492.73 498.36L1493.27 501.63L1493.81 504.70L1494.35 507.56L1494.89 510.19L1495.43 512.59L1495.97 514.92L1496.51 517.08L1497.05 518.89L1497.59 520.18L1498.13 521.23L1498.67 522.13L1499.21 522.69L1499.75 522.74L1500.29 522.25L1500.83 521.40L1501.36 520.36L1501.90 519.12L1502.44 517.33L1502.98 515.11L1503.52 512.65L1504.06 510.00L1504.60 506.99L1505.14 503.60L1505.68 499.83L1506.22 495.68L1506.76 491.00L1507.30 485.55L1507.84 479.50L1508.38 472.98L1508.92 466.14L1509.46 459.11L1509.99 451.59L1510.53 443.46L1511.07 434.95L1511.61 426.29L1512.15 417.63L1512.69 408.59L1513.23 399.33L1513.77 390.20L1514.31 381.55L1514.85 373.48L1515.39 365.69L1515.93 358.17L1516.47 350.91L1517.01 343.93L1517.55 337.14L1518.09 330.15L1518.62 323.29L1519.16 317.05L1519.70 311.92L1520.24 308.18L1520.78 304.97L1521.32 302.28L1521.86 300.27L1522.40 299.02L1522.94 297.99L1523.48 297.10L1524.02 296.40L1524.56 295.95L1525.10 295.80L1525.64 296.00L1526.18 296.51L1526.72 297.28L1527.25 298.23L1527.79 299.29L1528.33 300.70L1528.87 302.84L1529.41 305.53L1529.95 308.56L1530.49 311.73L1531.03 315.25L1531.57 319.49L1532.11 324.19L1532.65 329.10L1533.19 333.96L1533.73 338.51L1534.27 342.49L1534.81 345.82L1535.35 349.04L1535.88 352.13L1536.42 354.98L1536.96 357.49L1537.50 359.54L1538.04 361.03L1538.58 362.20L1539.12 363.30L1539.66 364.25L1540.20 365.01L1540.74 365.51L1541.28 365.70L1541.82 365.51L1542.36 364.99L1542.90 364.21L1543.44 363.24L1543.98 362.18L1544.51 361.08L1545.05 360.04L1545.59 358.97L1546.13 357.72L1546.67 356.34L1547.21 354.88L1547.75 353.35L1548.29 351.82L1548.83 350.32L1549.37 348.88L1549.91 347.56L1550.45 346.38L1550.99 345.39L1551.53 344.60L1552.07 343.81L1552.61 343.04L1553.14 342.33L1553.68 341.70L1554.22 341.19L1554.76 340.85L1555.30 340.70L1555.84 340.81L1556.38 341.20L1556.92 341.82L1557.46 342.64L1558.00 343.61L1558.54 344.67L1559.08 345.79L1559.62 347.24L1560.16 349.40L1560.70 351.84L1561.24 354.15L1561.77 355.89L1562.31 357.14L1562.85 358.34L1563.39 359.39L1563.93 360.20L1564.47 360.64L1565.01 360.66L1565.55 360.42L1566.09 359.99L1566.63 359.43L1567.17 358.80L1567.71 358.16L1568.25 357.56L1568.79 357.06L1569.33 356.64L1569.87 356.19L1570.41 355.72L1570.94 355.27L1571.48 354.85L1572.02 354.50L1572.56 354.22L1573.10 354.05L1573.64 354.00L1574.18 354.06L1574.72 354.21L1575.26 354.42L1575.80 354.69L1576.34 355.01L1576.88 355.35L1577.42 355.71L1577.96 356.08L1578.50 356.43L1579.04 356.77L1579.57 357.07L1580.11 357.37L1580.65 357.67L1581.19 357.98L1581.73 358.30L1582.27 358.63L1582.81 358.96L1583.35 359.30L1583.89 359.64L1584.43 359.99L1584.97 360.34L1585.51 360.69L1586.05 361.05L1586.59 361.41L1587.13 361.76L1587.67 362.12L1588.20 362.48L1588.74 362.84L1589.28 363.19L1589.82 363.55L1590.36 363.90L1590.90 364.25L1591.44 364.59L1591.98 364.93L1592.52 365.26L1593.06 365.59L1593.60 365.91L1594.14 366.23L1594.68 366.53L1595.22 366.83L1595.76 367.12L1596.30 367.40L1596.83 367.67L1597.37 367.93L1597.91 368.17L1598.45 368.41L1598.99 368.63L1599.53 368.84L1600.07 369.03L1600.61 369.22L1601.15 369.41L1601.69 369.59L1602.23 369.78L1602.77 369.96L1603.31 370.14L1603.85 370.32L1604.39 370.50L1604.93 370.68L1605.46 370.85L1606.00 371.03L1606.54 371.20L1607.08 371.37L1607.62 371.54L1608.16 371.71L1608.70 371.88L1609.24 372.04L1609.78 372.21L1610.32 372.37L1610.86 372.53L1611.40 372.69L1611.94 372.85L1612.48 373.01L1613.02 373.17L1613.56 373.32L1614.09 373.48L1614.63 373.63L1615.17 373.78L1615.71 373.93L1616.25 374.08L1616.79 374.23L1617.33 374.37L1617.87 374.52L1618.41 374.66L1618.95 374.81L1619.49 374.95L1620.03 375.09L1620.57 375.23L1621.11 375.36L1621.65 375.50L1622.19 375.63L1622.72 375.77L1623.26 375.90L1623.80 376.03L1624.34 376.16L1624.88 376.29L1625.42 376.42L1625.96 376.55L1626.50 376.67L1627.04 376.80L1627.58 376.92L1628.12 377.04L1628.66 377.16L1629.20 377.28L1629.74 377.40L1630.28 377.52L1630.82 377.64L1631.35 377.75L1631.89 377.87L1632.43 377.98L1632.97 378.09L1633.51 378.20L1634.05 378.31L1634.59 378.42L1635.13 378.53L1635.67 378.64L1636.21 378.74L1636.75 378.85L1637.29 378.95L1637.83 379.05L1638.37 379.16L1638.91 379.26L1639.45 379.36L1639.98 379.45L1640.52 379.55L1641.06 379.65L1641.60 379.74L1642.14 379.84L1642.68 379.93L1643.22 380.03L1643.76 380.12L1644.30 380.21L1644.84 380.30L1645.38 380.39L1645.92 380.47L1646.46 380.56L1647.00 380.65L1647.54 380.73L1648.08 380.82L1648.61 380.90L1649.15 380.98L1649.69 381.06L1650.23 381.14L1650.77 381.22L1651.31 381.30L1651.85 381.38L1652.39 381.46L1652.93 381.53L1653.47 381.61L1654.01 381.68L1654.55 381.76L1655.09 381.83L1655.63 381.90L1656.17 381.97L1656.71 382.04L1657.25 382.11L1657.78 382.18L1658.32 382.25L1658.86 382.31L1659.40 382.38L1659.94 382.45L1660.48 382.51L1661.02 382.58L1661.56 382.64L1662.10 382.71L1662.64 382.77L1663.18 382.84L1663.72 382.90L1664.26 382.96L1664.80 383.03L1665.34 383.09L1665.88 383.15L1666.41 383.21L1666.95 383.27L1667.49 383.34L1668.03 383.40L1668.57 383.46L1669.11 383.52L1669.65 383.58L1670.19 383.64L1670.73 383.70L1671.27 383.75L1671.81 383.81L1672.35 383.87L1672.89 383.93L1673.43 383.99L1673.97 384.04L1674.51 384.10L1675.04 384.15L1675.58 384.21L1676.12 384.27L1676.66 384.32L1677.20 384.38L1677.74 384.43L1678.28 384.48L1678.82 384.54L1679.36 384.59L1679.90 384.64L1680.44 384.70L1680.98 384.75L1681.52 384.80L1682.06 384.85L1682.60 384.90L1683.14 384.95L1683.67 385.00L1684.21 385.05L1684.75 385.10L1685.29 385.15L1685.83 385.20L1686.37 385.25L1686.91 385.29L1687.45 385.34L1687.99 385.39L1688.53 385.43L1689.07 385.48L1689.61 385.52L1690.15 385.57L1690.69 385.61L1691.23 385.66L1691.77 385.70L1692.30 385.75L1692.84 385.79L1693.38 385.83L1693.92 385.87L1694.46 385.92L1695.00 385.96L1695.54 386.00L1696.08 386.04L1696.62 386.08L1697.16 386.12L1697.70 386.16L1698.24 386.20L1698.78 386.24L1699.32 386.27L1699.86 386.31L1700.40 386.35L1700.93 386.39L1701.47 386.42L1702.01 386.46L1702.55 386.49L1703.09 386.53L1703.63 386.56L1704.17 386.60L1704.71 386.63L1705.25 386.66L1705.79 386.70L1706.33 386.73L1706.87 386.76L1707.41 386.79L1707.95 386.82L1708.49 386.86L1709.03 386.89L1709.56 386.91L1710.10 386.94L1710.64 386.97L1711.18 387.00L1711.72 387.03L1712.26 387.06L1712.80 387.08L1713.34 387.11L1713.88 387.14L1714.42 387.16L1714.96 387.19L1715.50 387.21L1716.04 387.24L1716.58 387.26L1717.12 387.28L1717.66 387.31L1718.19 387.33L1718.73 387.35L1719.27 387.37L1719.81 387.40L1720.35 387.42L1720.89 387.44L1721.43 387.46L1721.97 387.49L1722.51 387.51L1723.05 387.53L1723.59 387.55L1724.13 387.57L1724.67 387.60L1725.21 387.62L1725.75 387.64L1726.29 387.66L1726.82 387.68L1727.36 387.71L1727.90 387.73L1728.44 387.75L1728.98 387.77L1729.52 387.79L1730.06 387.82L1730.60 387.84L1731.14 387.86L1731.68 387.88L1732.22 387.90L1732.76 387.92L1733.30 387.94L1733.84 387.96L1734.38 387.99L1734.92 388.01L1735.45 388.03L1735.99 388.05L1736.53 388.07L1737.07 388.09L1737.61 388.11L1738.15 388.13L1738.69 388.15L1739.23 388.17L1739.77 388.19L1740.31 388.21L1740.85 388.23L1741.39 388.25L1741.93 388.27L1742.47 388.29L1743.01 388.31L1743.55 388.33L1744.09 388.35L1744.62 388.37L1745.16 388.39L1745.70 388.41L1746.24 388.43L1746.78 388.45L1747.32 388.47L1747.86 388.49L1748.40 388.51L1748.94 388.53L1749.48 388.55L1750.02 388.56L1750.56 388.58L1751.10 388.60L1751.64 388.62L1752.18 388.64L1752.72 388.66L1753.25 388.67L1753.79 388.69L1754.33 388.71L1754.87 388.73L1755.41 388.75L1755.95 388.76L1756.49 388.78L1757.03 388.80L1757.57 388.81L1758.11 388.83L1758.65 388.85L1759.19 388.86L1759.73 388.88L1760.27 388.90L1760.81 388.91L1761.35 388.93L1761.88 388.95L1762.42 388.96L1762.96 388.98L1763.50 388.99L1764.04 389.01L1764.58 389.02L1765.12 389.04L1765.66 389.06L1766.20 389.07L1766.74 389.08L1767.28 389.10L1767.82 389.11L1768.36 389.13L1768.90 389.14L1769.44 389.16L1769.98 389.17L1770.51 389.18L1771.05 389.20L1771.59 389.21L1772.13 389.23L1772.67 389.24L1773.21 389.25L1773.75 389.26L1774.29 389.28L1774.83 389.29L1775.37 389.30L1775.91 389.31L1776.45 389.33L1776.99 389.34L1777.53 389.35L1778.07 389.36L1778.61 389.37L1779.14 389.38L1779.68 389.39L1780.22 389.41L1780.76 389.42L1781.30 389.43L1781.84 389.44L1782.38 389.45L1782.92 389.46L1783.46 389.47L1784.00 389.48L1784.54 389.49L1785.08 389.50L1785.62 389.50L1786.16 389.51L1786.70 389.52L1787.24 389.53L1787.77 389.54L1788.31 389.55L1788.85 389.55L1789.39 389.56L1789.93 389.57L1790.47 389.58L1791.01 389.58L1791.55 389.59L1792.09 389.60L1792.63 389.60L1793.17 389.61L1793.71 389.62L1794.25 389.62L1794.79 389.63L1795.33 389.63L1795.87 389.64L1796.40 389.64" stroke="#62c232" stroke-width="12.6" fill="none" stroke-linejoin="round" stroke-linecap="butt"/>
<path transform="scale(1.127 1)" d="M1134.59 745.50L1135.13 745.50L1135.67 745.50L1136.21 745.50L1136.74 745.50L1137.28 745.50L1137.82 745.50L1138.36 745.50L1138.90 745.50L1139.44 745.50L1139.98 745.50L1140.52 745.50L1141.06 745.50L1141.60 745.50L1142.14 745.50L1142.68 745.49L1143.22 745.49L1143.76 745.49L1144.30 745.49L1144.84 745.49L1145.37 745.49L1145.91 745.49L1146.45 745.49L1146.99 745.49L1147.53 745.49L1148.07 745.48L1148.61 745.48L1149.15 745.48L1149.69 745.48L1150.23 745.48L1150.77 745.48L1151.31 745.48L1151.85 745.48L1152.39 745.47L1152.93 745.47L1153.47 745.47L1154.00 745.47L1154.54 745.47L1155.08 745.47L1155.62 745.46L1156.16 745.46L1156.70 745.46L1157.24 745.46L1157.78 745.46L1158.32 745.45L1158.86 745.45L1159.40 745.45L1159.94 745.45L1160.48 745.45L1161.02 745.44L1161.56 745.44L1162.10 745.44L1162.63 745.44L1163.17 745.44L1163.71 745.43L1164.25 745.43L1164.79 745.43L1165.33 745.43L1165.87 745.42L1166.41 745.42L1166.95 745.42L1167.49 745.42L1168.03 745.41L1168.57 745.41L1169.11 745.41L1169.65 745.41L1170.19 745.40L1170.73 745.40L1171.26 745.40L1171.80 745.39L1172.34 745.39L1172.88 745.39L1173.42 745.39L1173.96 745.38L1174.50 745.38L1175.04 745.38L1175.58 745.37L1176.12 745.37L1176.66 745.37L1177.20 745.36L1177.74 745.36L1178.28 745.36L1178.82 745.35L1179.36 745.35L1179.89 745.35L1180.43 745.34L1180.97 745.34L1181.51 745.34L1182.05 745.33L1182.59 745.33L1183.13 745.33L1183.67 745.32L1184.21 745.32L1184.75 745.32L1185.29 745.31L1185.83 745.31L1186.37 745.30L1186.91 745.30L1187.45 745.29L1187.99 745.29L1188.52 745.28L1189.06 745.28L1189.60 745.27L1190.14 745.26L1190.68 745.25L1191.22 745.25L1191.76 745.24L1192.30 745.23L1192.84 745.22L1193.38 745.21L1193.92 745.21L1194.46 745.20L1195.00 745.19L1195.54 745.18L1196.08 745.17L1196.62 745.16L1197.15 745.15L1197.69 745.14L1198.23 745.13L1198.77 745.11L1199.31 745.10L1199.85 745.09L1200.39 745.08L1200.93 745.07L1201.47 745.06L1202.01 745.04L1202.55 745.03L1203.09 745.02L1203.63 745.00L1204.17 744.99L1204.71 744.98L1205.25 744.96L1205.78 744.95L1206.32 744.94L1206.86 744.92L1207.40 744.91L1207.94 744.89L1208.48 744.88L1209.02 744.86L1209.56 744.85L1210.10 744.83L1210.64 744.82L1211.18 744.80L1211.72 744.79L1212.26 744.77L1212.80 744.75L1213.34 744.73L1213.88 744.72L1214.41 744.70L1214.95 744.68L1215.49 744.66L1216.03 744.63L1216.57 744.61L1217.11 744.59L1217.65 744.57L1218.19 744.54L1218.73 744.52L1219.27 744.49L1219.81 744.46L1220.35 744.44L1220.89 744.41L1221.43 744.38L1221.97 744.35L1222.51 744.32L1223.05 744.29L1223.58 744.26L1224.12 744.23L1224.66 744.19L1225.20 744.16L1225.74 744.13L1226.28 744.09L1226.82 744.06L1227.36 744.02L1227.90 743.98L1228.44 743.95L1228.98 743.91L1229.52 743.87L1230.06 743.83L1230.60 743.79L1231.14 743.75L1231.68 743.71L1232.21 743.67L1232.75 743.62L1233.29 743.58L1233.83 743.54L1234.37 743.49L1234.91 743.45L1235.45 743.40L1235.99 743.36L1236.53 743.31L1237.07 743.26L1237.61 743.21L1238.15 743.16L1238.69 743.11L1239.23 743.06L1239.77 743.00L1240.31 742.95L1240.84 742.88L1241.38 742.82L1241.92 742.76L1242.46 742.69L1243.00 742.62L1243.54 742.55L1244.08 742.47L1244.62 742.39L1245.16 742.32L1245.70 742.24L1246.24 742.15L1246.78 742.07L1247.32 741.98L1247.86 741.89L1248.40 741.80L1248.94 741.71L1249.47 741.62L1250.01 741.52L1250.55 741.43L1251.09 741.33L1251.63 741.23L1252.17 741.13L1252.71 741.02L1253.25 740.92L1253.79 740.81L1254.33 740.71L1254.87 740.60L1255.41 740.49L1255.95 740.38L1256.49 740.27L1257.03 740.15L1257.57 740.04L1258.10 739.92L1258.64 739.81L1259.18 739.69L1259.72 739.57L1260.26 739.45L1260.80 739.33L1261.34 739.21L1261.88 739.09L1262.42 738.97L1262.96 738.84L1263.50 738.72L1264.04 738.60L1264.58 738.47L1265.12 738.34L1265.66 738.22L1266.20 738.09L1266.73 737.95L1267.27 737.82L1267.81 737.68L1268.35 737.54L1268.89 737.40L1269.43 737.26L1269.97 737.11L1270.51 736.97L1271.05 736.81L1271.59 736.66L1272.13 736.50L1272.67 736.34L1273.21 736.18L1273.75 736.01L1274.29 735.84L1274.83 735.66L1275.36 735.48L1275.90 735.30L1276.44 735.11L1276.98 734.92L1277.52 734.73L1278.06 734.53L1278.60 734.32L1279.14 734.11L1279.68 733.90L1280.22 733.68L1280.76 733.46L1281.30 733.23L1281.84 733.00L1282.38 732.76L1282.92 732.51L1283.46 732.25L1283.99 731.99L1284.53 731.70L1285.07 731.41L1285.61 731.11L1286.15 730.79L1286.69 730.46L1287.23 730.13L1287.77 729.78L1288.31 729.42L1288.85 729.05L1289.39 728.67L1289.93 728.28L1290.47 727.88L1291.01 727.48L1291.55 727.06L1292.09 726.63L1292.62 726.20L1293.16 725.76L1293.70 725.31L1294.24 724.85L1294.78 724.38L1295.32 723.91L1295.86 723.42L1296.40 722.93L1296.94 722.44L1297.48 721.93L1298.02 721.43L1298.56 720.91L1299.10 720.39L1299.64 719.86L1300.18 719.32L1300.72 718.78L1301.25 718.22L1301.79 717.65L1302.33 717.06L1302.87 716.46L1303.41 715.84L1303.95 715.20L1304.49 714.56L1305.03 713.89L1305.57 713.21L1306.11 712.52L1306.65 711.82L1307.19 711.10L1307.73 710.36L1308.27 709.62L1308.81 708.86L1309.35 708.09L1309.89 707.31L1310.42 706.51L1310.96 705.70L1311.50 704.89L1312.04 704.06L1312.58 703.21L1313.12 702.36L1313.66 701.50L1314.20 700.63L1314.74 699.74L1315.28 698.85L1315.82 697.95L1316.36 697.04L1316.90 696.12L1317.44 695.19L1317.98 694.25L1318.52 693.30L1319.05 692.34L1319.59 691.38L1320.13 690.41L1320.67 689.43L1321.21 688.45L1321.75 687.45L1322.29 686.45L1322.83 685.45L1323.37 684.44L1323.91 683.42L1324.45 682.39L1324.99 681.36L1325.53 680.32L1326.07 679.25L1326.61 678.17L1327.15 677.05L1327.68 675.92L1328.22 674.76L1328.76 673.58L1329.30 672.38L1329.84 671.16L1330.38 669.92L1330.92 668.66L1331.46 667.38L1332.00 666.08L1332.54 664.76L1333.08 663.42L1333.62 662.06L1334.16 660.69L1334.70 659.29L1335.24 657.88L1335.78 656.46L1336.31 655.01L1336.85 653.55L1337.39 652.08L1337.93 650.59L1338.47 649.08L1339.01 647.56L1339.55 646.01L1340.09 644.42L1340.63 642.80L1341.17 641.14L1341.71 639.45L1342.25 637.73L1342.79 635.98L1343.33 634.20L1343.87 632.39L1344.41 630.56L1344.94 628.70L1345.48 626.81L1346.02 624.90L1346.56 622.97L1347.10 621.02L1347.64 619.05L1348.18 617.06L1348.72 615.05L1349.26 613.01L1349.80 610.92L1350.34 608.78L1350.88 606.59L1351.42 604.37L1351.96 602.11L1352.50 599.82L1353.04 597.50L1353.57 595.17L1354.11 592.82L1354.65 590.46L1355.19 588.09L1355.73 585.73L1356.27 583.37L1356.81 581.01L1357.35 578.68L1357.89 576.37L1358.43 574.06L1358.97 571.76L1359.51 569.44L1360.05 567.11L1360.59 564.76L1361.13 562.37L1361.67 559.95L1362.20 557.47L1362.74 554.93L1363.28 552.33L1363.82 549.65L1364.36 546.89L1364.90 544.07L1365.44 541.21L1365.98 538.30L1366.52 535.34L1367.06 532.33L1367.60 529.29L1368.14 526.20L1368.68 523.06L1369.22 519.89L1369.76 516.68L1370.30 513.43L1370.83 510.14L1371.37 506.82L1371.91 503.46L1372.45 500.07L1372.99 496.64L1373.53 493.19L1374.07 489.70L1374.61 486.19L1375.15 482.64L1375.69 479.07L1376.23 475.47L1376.77 471.85L1377.31 468.20L1377.85 464.53L1378.39 460.84L1378.93 457.13L1379.46 453.40L1380.00 449.65L1380.54 445.89L1381.08 442.10L1381.62 438.30L1382.16 434.49L1382.70 430.66L1383.24 426.83L1383.78 422.98L1384.32 419.12L1384.86 415.25L1385.40 411.37L1385.94 407.48L1386.48 403.59L1387.02 399.70L1387.56 395.79L1388.09 391.89L1388.63 387.98L1389.17 384.07L1389.71 380.16L1390.25 376.25L1390.79 372.34L1391.33 368.44L1391.87 364.53L1392.41 360.63L1392.95 356.74L1393.49 352.85L1394.03 348.96L1394.57 345.09L1395.11 341.22L1395.65 337.36L1396.19 333.51L1396.73 329.67L1397.26 325.84L1397.80 322.02L1398.34 318.22L1398.88 314.43L1399.42 310.66L1399.96 306.91L1400.50 303.17L1401.04 299.44L1401.58 295.74L1402.12 292.06L1402.66 288.40L1403.20 284.76L1403.74 281.12L1404.28 277.47L1404.82 273.83L1405.36 270.23L1405.89 266.69L1406.43 263.23L1406.97 259.87L1407.51 256.54L1408.05 253.22L1408.59 249.89L1409.13 246.59L1409.67 243.31L1410.21 240.07L1410.75 236.87L1411.29 233.73L1411.83 230.66L1412.37 227.67L1412.91 224.76L1413.45 221.94L1413.99 219.24L1414.52 216.65L1415.06 214.17L1415.60 211.78L1416.14 209.46L1416.68 207.22L1417.22 205.05L1417.76 202.93L1418.30 200.86L1418.84 198.83L1419.38 196.84L1419.92 194.87L1420.46 192.92L1421.00 190.95L1421.54 188.96L1422.08 187.00L1422.62 185.13L1423.15 183.38L1423.69 181.81L1424.23 180.46L1424.77 179.30L1425.31 178.19L1425.85 177.16L1426.39 176.23L1426.93 175.43L1427.47 174.79L1428.01 174.33L1428.55 173.97L1429.09 173.65L1429.63 173.37L1430.17 173.14L1430.71 172.95L1431.25 172.81L1431.78 172.73L1432.32 172.70L1432.86 172.73L1433.40 172.84L1433.94 173.00L1434.48 173.23L1435.02 173.50L1435.56 173.82L1436.10 174.18L1436.64 174.59L1437.18 175.12L1437.72 175.79L1438.26 176.58L1438.80 177.46L1439.34 178.44L1439.88 179.49L1440.41 180.59L1440.95 181.87L1441.49 183.37L1442.03 185.04L1442.57 186.84L1443.11 188.73L1443.65 190.66L1444.19 192.58L1444.73 194.48L1445.27 196.43L1445.81 198.43L1446.35 200.47L1446.89 202.55L1447.43 204.67L1447.97 206.82L1448.51 209.00L1449.04 211.20L1449.58 213.42L1450.12 215.66L1450.66 217.92L1451.20 220.16L1451.74 222.38L1452.28 224.60L1452.82 226.82L1453.36 229.05L1453.90 231.31L1454.44 233.60L1454.98 235.94L1455.52 238.32L1456.06 240.77L1456.60 243.29L1457.14 245.89L1457.67 248.59L1458.21 251.38L1458.75 254.33L1459.29 257.58L1459.83 261.08L1460.37 264.77L1460.91 268.59L1461.45 272.47L1461.99 276.36L1462.53 280.18L1463.07 283.88L1463.61 287.40L1464.15 290.80L1464.69 294.12L1465.23 297.39L1465.77 300.64L1466.30 303.90L1466.84 307.20L1467.38 310.58L1467.92 314.07L1468.46 317.70L1469.00 321.48L1469.54 325.37L1470.08 329.39L1470.62 333.52L1471.16 337.77L1471.70 342.15L1472.24 346.65L1472.78 351.28L1473.32 356.02L1473.86 360.93L1474.40 366.04L1474.93 371.40L1475.47 377.04L1476.01 383.10L1476.55 389.88L1477.09 397.13L1477.63 404.56L1478.17 411.88L1478.71 418.78L1479.25 425.17L1479.79 431.41L1480.33 437.49L1480.87 443.40L1481.41 449.12L1481.95 454.62L1482.49 459.89L1483.03 465.00L1483.57 470.04L1484.10 474.95L1484.64 479.69L1485.18 484.21L1485.72 488.49L1486.26 492.46L1486.80 496.10L1487.34 499.51L1487.88 502.72L1488.42 505.71L1488.96 508.49L1489.50 511.04L1490.04 513.40L1490.58 515.69L1491.12 517.75L1491.66 519.40L1492.20 520.55L1492.73 521.57L1493.27 522.37L1493.81 522.77L1494.35 522.62L1494.89 521.99L1495.43 521.05L1495.97 519.98L1496.51 518.55L1497.05 516.59L1497.59 514.27L1498.13 511.76L1498.67 508.99L1499.21 505.85L1499.75 502.33L1500.29 498.43L1500.83 494.14L1501.36 489.18L1501.90 483.51L1502.44 477.28L1502.98 470.63L1503.52 463.71L1504.06 456.57L1504.60 448.81L1505.14 440.53L1505.68 431.95L1506.22 423.28L1506.76 414.53L1507.30 405.37L1507.84 396.12L1508.38 387.11L1508.92 378.70L1509.46 370.74L1509.99 363.04L1510.53 355.61L1511.07 348.45L1511.61 341.56L1512.15 334.72L1512.69 327.72L1513.23 321.02L1513.77 315.11L1514.31 310.49L1514.85 307.02L1515.39 303.97L1515.93 301.50L1516.47 299.76L1517.01 298.65L1517.55 297.66L1518.09 296.84L1518.62 296.22L1519.16 295.86L1519.70 295.83L1520.24 296.14L1520.78 296.75L1521.32 297.59L1521.86 298.59L1522.40 299.69L1522.94 301.37L1523.48 303.72L1524.02 306.55L1524.56 309.66L1525.10 312.86L1525.64 316.66L1526.18 321.09L1526.72 325.89L1527.25 330.81L1527.79 335.59L1528.33 339.97L1528.87 343.71L1529.41 346.95L1529.95 350.14L1530.49 353.16L1531.03 355.90L1531.57 358.26L1532.11 360.13L1532.65 361.44L1533.19 362.59L1533.73 363.65L1534.27 364.54L1534.81 365.22L1535.35 365.62L1535.88 365.68L1536.42 365.37L1536.96 364.74L1537.50 363.89L1538.04 362.88L1538.58 361.80L1539.12 360.71L1539.66 359.69L1540.20 358.55L1540.74 357.26L1541.28 355.84L1541.82 354.35L1542.36 352.82L1542.90 351.29L1543.44 349.81L1543.98 348.41L1544.51 347.13L1545.05 346.01L1545.59 345.10L1546.13 344.33L1546.67 343.54L1547.21 342.79L1547.75 342.10L1548.29 341.51L1548.83 341.05L1549.37 340.78L1549.91 340.71L1550.45 340.91L1550.99 341.39L1551.53 342.09L1552.07 342.96L1552.61 343.97L1553.14 345.06L1553.68 346.20L1554.22 347.93L1554.76 350.24L1555.30 352.68L1555.84 354.84L1556.38 356.33L1556.92 357.56L1557.46 358.73L1558.00 359.71L1558.54 360.40L1559.08 360.70L1559.62 360.60L1560.16 360.29L1560.70 359.81L1561.24 359.22L1561.77 358.58L1562.31 357.95L1562.85 357.38L1563.39 356.92L1563.93 356.49L1564.47 356.03L1565.01 355.56L1565.55 355.12L1566.09 354.72L1566.63 354.39L1567.17 354.15L1567.71 354.02L1568.25 354.01L1568.79 354.11L1569.33 354.28L1569.87 354.51L1570.41 354.80L1570.94 355.12L1571.48 355.48L1572.02 355.84L1572.56 356.20L1573.10 356.55L1573.64 356.88L1574.18 357.17L1574.72 357.47L1575.26 357.78L1575.80 358.09L1576.34 358.42L1576.88 358.74L1577.42 359.08L1577.96 359.42L1578.50 359.76L1579.04 360.11L1579.57 360.46L1580.11 360.82L1580.65 361.17L1581.19 361.53L1581.73 361.89L1582.27 362.25L1582.81 362.61L1583.35 362.96L1583.89 363.32L1584.43 363.67L1584.97 364.02L1585.51 364.37L1586.05 364.71L1586.59 365.05L1587.13 365.38L1587.67 365.70L1588.20 366.02L1588.74 366.34L1589.28 366.64L1589.82 366.93L1590.36 367.22L1590.90 367.50L1591.44 367.76L1591.98 368.01L1592.52 368.26L1593.06 368.49L1593.60 368.70L1594.14 368.91L1594.68 369.10L1595.22 369.29L1595.76 369.47L1596.30 369.66L1596.83 369.84L1597.37 370.02L1597.91 370.20L1598.45 370.38L1598.99 370.56L1599.53 370.74L1600.07 370.91L1600.61 371.09L1601.15 371.26L1601.69 371.43L1602.23 371.60L1602.77 371.77L1603.31 371.94L1603.85 372.10L1604.39 372.26L1604.93 372.43L1605.46 372.59L1606.00 372.75L1606.54 372.91L1607.08 373.07L1607.62 373.22L1608.16 373.38L1608.70 373.53L1609.24 373.68L1609.78 373.83L1610.32 373.98L1610.86 374.13L1611.40 374.28L1611.94 374.42L1612.48 374.57L1613.02 374.71L1613.56 374.85L1614.09 375.00L1614.63 375.14L1615.17 375.27L1615.71 375.41L1616.25 375.55L1616.79 375.68L1617.33 375.81L1617.87 375.95L1618.41 376.08L1618.95 376.21L1619.49 376.34L1620.03 376.46L1620.57 376.59L1621.11 376.72L1621.65 376.84L1622.19 376.96L1622.72 377.09L1623.26 377.21L1623.80 377.33L1624.34 377.44L1624.88 377.56L1625.42 377.68L1625.96 377.79L1626.50 377.91L1627.04 378.02L1627.58 378.13L1628.12 378.24L1628.66 378.35L1629.20 378.46L1629.74 378.57L1630.28 378.67L1630.82 378.78L1631.35 378.88L1631.89 378.99L1632.43 379.09L1632.97 379.19L1633.51 379.29L1634.05 379.39L1634.59 379.49L1635.13 379.59L1635.67 379.68L1636.21 379.78L1636.75 379.87L1637.29 379.96L1637.83 380.06L1638.37 380.15L1638.91 380.24L1639.45 380.33L1639.98 380.42L1640.52 380.50L1641.06 380.59L1641.60 380.68L1642.14 380.76L1642.68 380.84L1643.22 380.93L1643.76 381.01L1644.30 381.09L1644.84 381.17L1645.38 381.25L1645.92 381.33L1646.46 381.41L1647.00 381.48L1647.54 381.56L1648.08 381.63L1648.61 381.71L1649.15 381.78L1649.69 381.85L1650.23 381.92L1650.77 382.00L1651.31 382.06L1651.85 382.13L1652.39 382.20L1652.93 382.27L1653.47 382.34L1654.01 382.40L1654.55 382.47L1655.09 382.53L1655.63 382.60L1656.17 382.66L1656.71 382.73L1657.25 382.79L1657.78 382.86L1658.32 382.92L1658.86 382.98L1659.40 383.05L1659.94 383.11L1660.48 383.17L1661.02 383.23L1661.56 383.30L1662.10 383.36L1662.64 383.42L1663.18 383.48L1663.72 383.54L1664.26 383.60L1664.80 383.66L1665.34 383.72L1665.88 383.77L1666.41 383.83L1666.95 383.89L1667.49 383.95L1668.03 384.01L1668.57 384.06L1669.11 384.12L1669.65 384.17L1670.19 384.23L1670.73 384.29L1671.27 384.34L1671.81 384.39L1672.35 384.45L1672.89 384.50L1673.43 384.56L1673.97 384.61L1674.51 384.66L1675.04 384.71L1675.58 384.77L1676.12 384.82L1676.66 384.87L1677.20 384.92L1677.74 384.97L1678.28 385.02L1678.82 385.07L1679.36 385.12L1679.90 385.17L1680.44 385.21L1680.98 385.26L1681.52 385.31L1682.06 385.36L1682.60 385.40L1683.14 385.45L1683.67 385.50L1684.21 385.54L1684.75 385.59L1685.29 385.63L1685.83 385.67L1686.37 385.72L1686.91 385.76L1687.45 385.80L1687.99 385.85L1688.53 385.89L1689.07 385.93L1689.61 385.97L1690.15 386.01L1690.69 386.05L1691.23 386.09L1691.77 386.13L1692.30 386.17L1692.84 386.21L1693.38 386.25L1693.92 386.29L1694.46 386.33L1695.00 386.36L1695.54 386.40L1696.08 386.44L1696.62 386.47L1697.16 386.51L1697.70 386.54L1698.24 386.58L1698.78 386.61L1699.32 386.64L1699.86 386.68L1700.40 386.71L1700.93 386.74L1701.47 386.77L1702.01 386.80L1702.55 386.84L1703.09 386.87L1703.63 386.90L1704.17 386.93L1704.71 386.95L1705.25 386.98L1705.79 387.01L1706.33 387.04L1706.87 387.07L1707.41 387.09L1707.95 387.12L1708.49 387.14L1709.03 387.17L1709.56 387.20L1710.10 387.22L1710.64 387.24L1711.18 387.27L1711.72 387.29L1712.26 387.31L1712.80 387.34L1713.34 387.36L1713.88 387.38L1714.42 387.40L1714.96 387.43L1715.50 387.45L1716.04 387.47L1716.58 387.49L1717.12 387.52L1717.66 387.54L1718.19 387.56L1718.73 387.58L1719.27 387.60L1719.81 387.63L1720.35 387.65L1720.89 387.67L1721.43 387.69L1721.97 387.71L1722.51 387.74L1723.05 387.76L1723.59 387.78L1724.13 387.80L1724.67 387.82L1725.21 387.84L1725.75 387.87L1726.29 387.89L1726.82 387.91L1727.36 387.93L1727.90 387.95L1728.44 387.97L1728.98 387.99L1729.52 388.01L1730.06 388.04L1730.60 388.06L1731.14 388.08L1731.68 388.10L1732.22 388.12L1732.76 388.14L1733.30 388.16L1733.84 388.18L1734.38 388.20L1734.92 388.22L1735.45 388.24L1735.99 388.26L1736.53 388.28L1737.07 388.30L1737.61 388.32L1738.15 388.34L1738.69 388.36L1739.23 388.38L1739.77 388.40L1740.31 388.42L1740.85 388.44L1741.39 388.46L1741.93 388.48L1742.47 388.50L1743.01 388.51L1743.55 388.53L1744.09 388.55L1744.62 388.57L1745.16 388.59L1745.70 388.61L1746.24 388.63L1746.78 388.64L1747.32 388.66L1747.86 388.68L1748.40 388.70L1748.94 388.72L1749.48 388.73L1750.02 388.75L1750.56 388.77L1751.10 388.79L1751.64 388.80L1752.18 388.82L1752.72 388.84L1753.25 388.85L1753.79 388.87L1754.33 388.89L1754.87 388.90L1755.41 388.92L1755.95 388.94L1756.49 388.95L1757.03 388.97L1757.57 388.98L1758.11 389.00L1758.65 389.01L1759.19 389.03L1759.73 389.05L1760.27 389.06L1760.81 389.08L1761.35 389.09L1761.88 389.10L1762.42 389.12L1762.96 389.13L1763.50 389.15L1764.04 389.16L1764.58 389.18L1765.12 389.19L1765.66 389.20L1766.20 389.22L1766.74 389.23L1767.28 389.24L1767.82 389.26L1768.36 389.27L1768.90 389.28L1769.44 389.29L1769.98 389.31L1770.51 389.32L1771.05 389.33L1771.59 389.34L1772.13 389.35L1772.67 389.37L1773.21 389.38L1773.75 389.39L1774.29 389.40L1774.83 389.41L1775.37 389.42L1775.91 389.43L1776.45 389.44L1776.99 389.45L1777.53 389.46L1778.07 389.47L1778.61 389.48L1779.14 389.49L1779.68 389.50L1780.22 389.51L1780.76 389.52L1781.30 389.53L1781.84 389.53L1782.38 389.54L1782.92 389.55L1783.46 389.56L1784.00 389.57L1784.54 389.57L1785.08 389.58L1785.62 389.59L1786.16 389.59L1786.70 389.60L1787.24 389.61L1787.77 389.61L1788.31 389.62L1788.85 389.63L1789.39 389.63L1789.93 389.64L1790.47 389.64L1791.01 389.65L1791.55 389.65L1792.09 389.66L1792.63 389.66L1793.17 389.66L1793.71 389.67L1794.25 389.67L1794.79 389.68L1795.33 389.68L1795.87 389.68L1796.40 389.68" stroke="#3450aa" stroke-width="12.6" fill="none" stroke-linejoin="round" stroke-linecap="butt"/>
<rect x="1274.41" y="30.45" width="757.15" height="761.02" fill="none" stroke="#231f20" stroke-width="3.1"/>
<path d="M1273.60 791.47v-15.56M1319.35 791.47v-8.3M1346.11 791.47v-8.3M1365.10 791.47v-8.3M1379.82 791.47v-8.3M1391.86 791.47v-8.3M1402.03 791.47v-8.3M1410.84 791.47v-8.3M1418.62 791.47v-8.3M1425.57 791.47v-15.56M1471.32 791.47v-8.3M1498.08 791.47v-8.3M1517.07 791.47v-8.3M1531.79 791.47v-8.3M1543.83 791.47v-8.3M1554.00 791.47v-8.3M1562.81 791.47v-8.3M1570.59 791.47v-8.3M1577.54 791.47v-15.56M1623.29 791.47v-8.3M1650.05 791.47v-8.3M1669.04 791.47v-8.3M1683.76 791.47v-8.3M1695.80 791.47v-8.3M1705.97 791.47v-8.3M1714.78 791.47v-8.3M1722.56 791.47v-8.3M1729.51 791.47v-15.56M1775.26 791.47v-8.3M1802.02 791.47v-8.3M1821.01 791.47v-8.3M1835.73 791.47v-8.3M1847.77 791.47v-8.3M1857.94 791.47v-8.3M1866.75 791.47v-8.3M1874.53 791.47v-8.3M1881.48 791.47v-15.56M1927.23 791.47v-8.3M1953.99 791.47v-8.3M1972.98 791.47v-8.3M1987.70 791.47v-8.3M1999.74 791.47v-8.3M2009.91 791.47v-8.3M2018.72 791.47v-8.3M2026.50 791.47v-8.3M2033.45 791.47v-15.56" stroke="#231f20" stroke-width="3.1" fill="none"/>
<text x="1233.60" y="764.10" font-size="63.3" text-anchor="end">0</text>
<text x="1233.60" y="674.95" font-size="63.3" text-anchor="end">0.5</text>
<text x="1233.60" y="585.80" font-size="63.3" text-anchor="end">1.0</text>
<text x="1233.60" y="496.65" font-size="63.3" text-anchor="end">1.5</text>
<text x="1233.60" y="407.50" font-size="63.3" text-anchor="end">2.0</text>
<text x="1233.60" y="318.35" font-size="63.3" text-anchor="end">2.5</text>
<text x="1233.60" y="229.20" font-size="63.3" text-anchor="end">3.0</text>
<text x="1233.60" y="140.05" font-size="63.3" text-anchor="end">3.5</text>
<text x="1233.60" y="50.90" font-size="63.3" text-anchor="end">4.0</text>
<path d="M1274.41 745.50h-20.5M1274.41 656.35h-20.5M1274.41 567.20h-20.5M1274.41 478.05h-20.5M1274.41 388.90h-20.5M1274.41 299.75h-20.5M1274.41 210.60h-20.5M1274.41 121.45h-20.5M1274.41 30.45h-20.5" stroke="#231f20" stroke-width="3.1" fill="none"/>
<text x="1274.50" y="867.9" font-size="55" text-anchor="middle">0.001</text>
<text x="1425.70" y="867.9" font-size="55" text-anchor="middle">0.01</text>
<text x="1576.90" y="867.9" font-size="55" text-anchor="middle">0.1</text>
<text x="1728.10" y="867.9" font-size="55" text-anchor="middle">1</text>
<text x="1879.30" y="867.9" font-size="55" text-anchor="middle">10</text>
<text x="2030.50" y="867.9" font-size="55" text-anchor="middle">100</text>
<text x="1647.50" y="933.0" font-size="55.8" text-anchor="middle"><tspan font-style="italic">D</tspan>/μm</text>
<text transform="translate(1108.00 418.20) rotate(-90)" font-size="66" text-anchor="middle"><tspan font-style="italic">Q</tspan><tspan font-size="37" dy="11.8">ext</tspan></text>
<text x="1049.20" y="51.0" font-size="63.3">(b)</text>
<path d="M1713.00 86.20H1832.00" stroke="#ed2129" stroke-width="12.6" fill="none"/>
<path d="M1713.00 151.90H1832.00" stroke="#62c232" stroke-width="12.6" fill="none"/>
<path d="M1713.00 219.50H1832.00" stroke="#3450aa" stroke-width="12.6" fill="none"/>
<text x="1840.60" y="102.76" font-size="55.4">623 nm</text>
<text x="1840.60" y="169.60" font-size="55.4">517 nm</text>
<text x="1840.60" y="236.80" font-size="55.4">470 nm</text>
<path transform="scale(1.08 1)" d="M2162.96 728.00L2163.52 728.00L2164.07 728.00L2164.63 728.00L2165.19 728.00L2165.74 728.00L2166.30 728.00L2166.85 728.00L2167.41 728.00L2167.96 728.00L2168.52 728.00L2169.07 728.00L2169.63 728.00L2170.19 728.00L2170.74 728.00L2171.30 728.00L2171.85 728.00L2172.41 728.00L2172.96 728.00L2173.52 728.00L2174.07 728.00L2174.63 728.00L2175.19 728.00L2175.74 728.00L2176.30 728.00L2176.85 728.00L2177.41 728.00L2177.96 728.00L2178.52 728.00L2179.07 728.00L2179.63 728.00L2180.19 728.00L2180.74 728.00L2181.30 728.00L2181.85 728.00L2182.41 728.00L2182.96 728.00L2183.52 728.00L2184.07 728.00L2184.63 728.00L2185.19 728.00L2185.74 728.00L2186.30 728.00L2186.85 728.00L2187.41 728.00L2187.96 728.00L2188.52 728.00L2189.07 728.00L2189.63 728.00L2190.19 728.00L2190.74 728.00L2191.30 728.00L2191.85 728.00L2192.41 728.00L2192.96 728.00L2193.52 728.00L2194.07 728.00L2194.63 728.00L2195.19 728.00L2195.74 728.00L2196.30 728.00L2196.85 728.00L2197.41 728.00L2197.96 728.00L2198.52 728.00L2199.07 728.00L2199.63 728.00L2200.19 728.00L2200.74 728.00L2201.30 728.00L2201.85 728.00L2202.41 728.00L2202.96 728.00L2203.52 728.00L2204.07 728.00L2204.63 728.00L2205.19 728.00L2205.74 728.00L2206.30 728.00L2206.85 728.00L2207.41 728.00L2207.96 728.00L2208.52 728.00L2209.07 728.00L2209.63 728.00L2210.19 728.00L2210.74 728.00L2211.30 728.00L2211.85 728.00L2212.41 728.00L2212.96 728.00L2213.52 728.00L2214.07 728.00L2214.63 728.00L2215.19 728.00L2215.74 728.00L2216.30 728.00L2216.85 728.00L2217.41 728.00L2217.96 728.00L2218.52 728.00L2219.07 728.00L2219.63 728.00L2220.19 728.00L2220.74 728.00L2221.30 728.00L2221.85 728.00L2222.41 728.00L2222.96 728.00L2223.52 728.00L2224.07 728.00L2224.63 728.00L2225.19 728.00L2225.74 728.00L2226.30 728.00L2226.85 728.00L2227.41 728.00L2227.96 728.00L2228.52 728.00L2229.07 728.00L2229.63 728.00L2230.19 728.00L2230.74 728.00L2231.30 728.00L2231.85 728.00L2232.41 728.00L2232.96 728.00L2233.52 728.00L2234.07 728.00L2234.63 728.00L2235.19 728.00L2235.74 728.00L2236.30 728.00L2236.85 728.00L2237.41 728.00L2237.96 728.00L2238.52 728.00L2239.07 728.00L2239.63 728.00L2240.19 728.00L2240.74 728.00L2241.30 728.00L2241.85 728.00L2242.41 728.00L2242.96 728.00L2243.52 728.00L2244.07 728.00L2244.63 728.00L2245.19 728.00L2245.74 728.00L2246.30 728.00L2246.85 728.00L2247.41 728.00L2247.96 728.00L2248.52 728.00L2249.07 728.00L2249.63 728.00L2250.19 728.00L2250.74 728.00L2251.30 728.00L2251.85 728.00L2252.41 728.00L2252.96 728.00L2253.52 728.00L2254.07 728.00L2254.63 728.00L2255.19 728.00L2255.74 728.00L2256.30 728.00L2256.85 728.00L2257.41 728.00L2257.96 728.00L2258.52 728.00L2259.07 728.00L2259.63 728.00L2260.19 728.00L2260.74 728.00L2261.30 728.00L2261.85 728.00L2262.41 728.00L2262.96 728.00L2263.52 728.00L2264.07 728.00L2264.63 728.00L2265.19 728.00L2265.74 728.00L2266.30 728.00L2266.85 728.00L2267.41 728.00L2267.96 728.00L2268.52 728.00L2269.07 728.00L2269.63 728.00L2270.19 728.00L2270.74 728.00L2271.30 728.00L2271.85 728.00L2272.41 728.00L2272.96 728.00L2273.52 728.00L2274.07 728.00L2274.63 728.00L2275.19 728.00L2275.74 728.00L2276.30 728.00L2276.85 728.00L2277.41 728.00L2277.96 728.00L2278.52 728.00L2279.07 728.00L2279.63 728.00L2280.19 728.00L2280.74 728.00L2281.30 728.00L2281.85 728.00L2282.41 728.00L2282.96 728.00L2283.52 728.00L2284.07 728.00L2284.63 728.00L2285.19 728.00L2285.74 728.00L2286.30 728.00L2286.85 728.00L2287.41 728.00L2287.96 728.00L2288.52 728.00L2289.07 728.00L2289.63 728.00L2290.19 728.00L2290.74 728.00L2291.30 728.00L2291.85 728.00L2292.41 728.00L2292.96 728.00L2293.52 728.00L2294.07 728.00L2294.63 728.00L2295.19 728.00L2295.74 728.00L2296.30 728.00L2296.85 728.00L2297.41 728.00L2297.96 728.00L2298.52 728.00L2299.07 728.00L2299.63 728.00L2300.19 728.00L2300.74 728.00L2301.30 728.00L2301.85 728.00L2302.41 728.00L2302.96 728.00L2303.52 728.00L2304.07 728.00L2304.63 728.00L2305.19 728.00L2305.74 728.00L2306.30 728.00L2306.85 728.00L2307.41 728.00L2307.96 727.99L2308.52 727.99L2309.07 727.99L2309.63 727.99L2310.19 727.99L2310.74 727.99L2311.30 727.99L2311.85 727.99L2312.41 727.99L2312.96 727.99L2313.52 727.99L2314.07 727.99L2314.63 727.99L2315.19 727.99L2315.74 727.99L2316.30 727.98L2316.85 727.98L2317.41 727.98L2317.96 727.98L2318.52 727.98L2319.07 727.98L2319.63 727.98L2320.19 727.98L2320.74 727.98L2321.30 727.97L2321.85 727.97L2322.41 727.97L2322.96 727.97L2323.52 727.97L2324.07 727.97L2324.63 727.96L2325.19 727.96L2325.74 727.96L2326.30 727.96L2326.85 727.96L2327.41 727.95L2327.96 727.95L2328.52 727.95L2329.07 727.95L2329.63 727.94L2330.19 727.94L2330.74 727.94L2331.30 727.94L2331.85 727.93L2332.41 727.93L2332.96 727.93L2333.52 727.93L2334.07 727.92L2334.63 727.92L2335.19 727.92L2335.74 727.91L2336.30 727.91L2336.85 727.91L2337.41 727.90L2337.96 727.90L2338.52 727.90L2339.07 727.89L2339.63 727.89L2340.19 727.88L2340.74 727.88L2341.30 727.88L2341.85 727.87L2342.41 727.87L2342.96 727.86L2343.52 727.86L2344.07 727.86L2344.63 727.85L2345.19 727.85L2345.74 727.84L2346.30 727.84L2346.85 727.83L2347.41 727.83L2347.96 727.82L2348.52 727.82L2349.07 727.81L2349.63 727.81L2350.19 727.80L2350.74 727.80L2351.30 727.79L2351.85 727.79L2352.41 727.78L2352.96 727.78L2353.52 727.77L2354.07 727.76L2354.63 727.76L2355.19 727.75L2355.74 727.75L2356.30 727.74L2356.85 727.73L2357.41 727.73L2357.96 727.72L2358.52 727.71L2359.07 727.71L2359.63 727.70L2360.19 727.69L2360.74 727.69L2361.30 727.68L2361.85 727.67L2362.41 727.66L2362.96 727.65L2363.52 727.65L2364.07 727.64L2364.63 727.63L2365.19 727.62L2365.74 727.61L2366.30 727.60L2366.85 727.59L2367.41 727.58L2367.96 727.58L2368.52 727.57L2369.07 727.56L2369.63 727.55L2370.19 727.53L2370.74 727.52L2371.30 727.51L2371.85 727.50L2372.41 727.49L2372.96 727.48L2373.52 727.47L2374.07 727.45L2374.63 727.44L2375.19 727.43L2375.74 727.41L2376.30 727.40L2376.85 727.39L2377.41 727.37L2377.96 727.36L2378.52 727.34L2379.07 727.33L2379.63 727.31L2380.19 727.30L2380.74 727.28L2381.30 727.26L2381.85 727.25L2382.41 727.23L2382.96 727.21L2383.52 727.19L2384.07 727.17L2384.63 727.15L2385.19 727.13L2385.74 727.11L2386.30 727.09L2386.85 727.07L2387.41 727.05L2387.96 727.03L2388.52 727.00L2389.07 726.98L2389.63 726.96L2390.19 726.93L2390.74 726.91L2391.30 726.88L2391.85 726.86L2392.41 726.83L2392.96 726.80L2393.52 726.77L2394.07 726.74L2394.63 726.72L2395.19 726.69L2395.74 726.66L2396.30 726.62L2396.85 726.59L2397.41 726.56L2397.96 726.53L2398.52 726.49L2399.07 726.46L2399.63 726.42L2400.19 726.39L2400.74 726.35L2401.30 726.31L2401.85 726.27L2402.41 726.23L2402.96 726.19L2403.52 726.15L2404.07 726.11L2404.63 726.06L2405.19 726.02L2405.74 725.97L2406.30 725.93L2406.85 725.88L2407.41 725.83L2407.96 725.78L2408.52 725.73L2409.07 725.68L2409.63 725.63L2410.19 725.58L2410.74 725.52L2411.30 725.47L2411.85 725.41L2412.41 725.35L2412.96 725.29L2413.52 725.23L2414.07 725.17L2414.63 725.11L2415.19 725.05L2415.74 724.98L2416.30 724.91L2416.85 724.85L2417.41 724.78L2417.96 724.71L2418.52 724.63L2419.07 724.56L2419.63 724.49L2420.19 724.41L2420.74 724.33L2421.30 724.25L2421.85 724.17L2422.41 724.09L2422.96 724.01L2423.52 723.92L2424.07 723.84L2424.63 723.75L2425.19 723.66L2425.74 723.57L2426.30 723.47L2426.85 723.38L2427.41 723.28L2427.96 723.18L2428.52 723.09L2429.07 722.98L2429.63 722.88L2430.19 722.78L2430.74 722.67L2431.30 722.56L2431.85 722.46L2432.41 722.34L2432.96 722.23L2433.52 722.12L2434.07 722.00L2434.63 721.89L2435.19 721.77L2435.74 721.65L2436.30 721.52L2436.85 721.40L2437.41 721.28L2437.96 721.15L2438.52 721.02L2439.07 720.89L2439.63 720.76L2440.19 720.63L2440.74 720.50L2441.30 720.36L2441.85 720.23L2442.41 720.09L2442.96 719.95L2443.52 719.81L2444.07 719.67L2444.63 719.53L2445.19 719.38L2445.74 719.24L2446.30 719.09L2446.85 718.95L2447.41 718.80L2447.96 718.65L2448.52 718.50L2449.07 718.35L2449.63 718.20L2450.19 718.05L2450.74 717.90L2451.30 717.74L2451.85 717.59L2452.41 717.44L2452.96 717.28L2453.52 717.12L2454.07 716.97L2454.63 716.81L2455.19 716.65L2455.74 716.49L2456.30 716.34L2456.85 716.18L2457.41 716.02L2457.96 715.86L2458.52 715.69L2459.07 715.53L2459.63 715.37L2460.19 715.21L2460.74 715.04L2461.30 714.88L2461.85 714.71L2462.41 714.55L2462.96 714.38L2463.52 714.21L2464.07 714.04L2464.63 713.87L2465.19 713.70L2465.74 713.53L2466.30 713.35L2466.85 713.17L2467.41 713.00L2467.96 712.81L2468.52 712.63L2469.07 712.45L2469.63 712.26L2470.19 712.07L2470.74 711.87L2471.30 711.67L2471.85 711.47L2472.41 711.27L2472.96 711.06L2473.52 710.85L2474.07 710.63L2474.63 710.40L2475.19 710.18L2475.74 709.94L2476.30 709.70L2476.85 709.45L2477.41 709.20L2477.96 708.94L2478.52 708.67L2479.07 708.40L2479.63 708.11L2480.19 707.82L2480.74 707.53L2481.30 707.22L2481.85 706.91L2482.41 706.59L2482.96 706.27L2483.52 705.93L2484.07 705.59L2484.63 705.25L2485.19 704.90L2485.74 704.54L2486.30 704.18L2486.85 703.81L2487.41 703.44L2487.96 703.06L2488.52 702.67L2489.07 702.28L2489.63 701.89L2490.19 701.49L2490.74 701.08L2491.30 700.67L2491.85 700.25L2492.41 699.82L2492.96 699.37L2493.52 698.90L2494.07 698.41L2494.63 697.90L2495.19 697.35L2495.74 696.77L2496.30 696.15L2496.85 695.50L2497.41 694.80L2497.96 694.07L2498.52 693.30L2499.07 692.49L2499.63 691.66L2500.19 690.80L2500.74 689.92L2501.30 689.02L2501.85 688.10L2502.41 687.17L2502.96 686.22L2503.52 685.25L2504.07 684.26L2504.63 683.25L2505.19 682.23L2505.74 681.19L2506.30 680.14L2506.85 679.07L2507.41 677.98L2507.96 676.88L2508.52 675.76L2509.07 674.63L2509.63 673.49L2510.19 672.33L2510.74 671.16L2511.30 669.98L2511.85 668.78L2512.41 667.56L2512.96 666.32L2513.52 665.07L2514.07 663.80L2514.63 662.50L2515.19 661.18L2515.74 659.84L2516.30 658.47L2516.85 657.07L2517.41 655.64L2517.96 654.17L2518.52 652.67L2519.07 651.14L2519.63 649.58L2520.19 647.98L2520.74 646.36L2521.30 644.71L2521.85 643.03L2522.41 641.33L2522.96 639.62L2523.52 637.88L2524.07 636.14L2524.63 634.37L2525.19 632.60L2525.74 630.80L2526.30 628.99L2526.85 627.17L2527.41 625.33L2527.96 623.47L2528.52 621.57L2529.07 619.61L2529.63 617.62L2530.19 615.59L2530.74 613.55L2531.30 611.50L2531.85 609.46L2532.41 607.47L2532.96 605.52L2533.52 603.65L2534.07 601.87L2534.63 600.21L2535.19 598.68L2535.74 597.31L2536.30 596.11L2536.85 594.97L2537.41 593.86L2537.96 592.79L2538.52 591.77L2539.07 590.81L2539.63 589.89L2540.19 589.04L2540.74 588.25L2541.30 587.53L2541.85 586.89L2542.41 586.33L2542.96 585.87L2543.52 585.50L2544.07 585.19L2544.63 584.88L2545.19 584.59L2545.74 584.31L2546.30 584.05L2546.85 583.81L2547.41 583.59L2547.96 583.39L2548.52 583.21L2549.07 583.06L2549.63 582.95L2550.19 582.86L2550.74 582.81L2551.30 582.80L2551.85 582.84L2552.41 582.93L2552.96 583.06L2553.52 583.25L2554.07 583.48L2554.63 583.75L2555.19 584.07L2555.74 584.42L2556.30 584.81L2556.85 585.23L2557.41 585.68L2557.96 586.16L2558.52 586.70L2559.07 587.65L2559.63 589.07L2560.19 590.91L2560.74 593.13L2561.30 595.66L2561.85 598.47L2562.41 601.49L2562.96 604.68L2563.52 607.98L2564.07 611.35L2564.63 614.72L2565.19 618.05L2565.74 621.29L2566.30 624.41L2566.85 627.50L2567.41 630.73L2567.96 634.08L2568.52 637.52L2569.07 641.02L2569.63 644.56L2570.19 648.11L2570.74 651.65L2571.30 655.16L2571.85 658.62L2572.41 662.01L2572.96 665.31L2573.52 668.51L2574.07 671.61L2574.63 674.62L2575.19 677.59L2575.74 680.50L2576.30 683.35L2576.85 686.14L2577.41 688.87L2577.96 691.54L2578.52 694.14L2579.07 696.67L2579.63 699.14L2580.19 701.54L2580.74 703.86L2581.30 706.09L2581.85 708.24L2582.41 710.30L2582.96 712.25L2583.52 714.10L2584.07 715.82L2584.63 717.40L2585.19 718.85L2585.74 720.15L2586.30 721.32L2586.85 722.36L2587.41 723.28L2587.96 724.09L2588.52 724.80L2589.07 725.42L2589.63 725.97L2590.19 726.43L2590.74 726.82L2591.30 727.14L2591.85 727.40L2592.41 727.59L2592.96 727.73L2593.52 727.83L2594.07 727.90L2594.63 727.94L2595.19 727.97L2595.74 727.98L2596.30 727.99L2596.85 728.00L2597.41 728.00L2597.96 728.00L2598.52 728.00L2599.07 728.00L2599.63 728.00L2600.19 728.00L2600.74 728.00L2601.30 728.00L2601.85 728.00L2602.41 728.00L2602.96 728.00L2603.52 728.00L2604.07 728.00L2604.63 728.00L2605.19 728.00L2605.74 728.00L2606.30 728.00L2606.85 728.00L2607.41 728.00L2607.96 728.00L2608.52 728.00L2609.07 728.00L2609.63 728.00L2610.19 728.00L2610.74 728.00L2611.30 728.00L2611.85 728.00L2612.41 728.00L2612.96 728.00L2613.52 728.00L2614.07 728.00L2614.63 728.00L2615.19 728.00L2615.74 728.00L2616.30 728.00L2616.85 728.00L2617.41 728.00L2617.96 728.00L2618.52 728.00L2619.07 728.00L2619.63 728.00L2620.19 728.00L2853.70 728.00" stroke="#ed2129" stroke-width="11.6" fill="none" stroke-linejoin="round" stroke-linecap="butt"/>
<path transform="scale(1.08 1)" d="M2162.96 728.00L2163.52 728.00L2164.07 728.00L2164.63 728.00L2165.19 728.00L2165.74 728.00L2166.30 728.00L2166.85 728.00L2167.41 728.00L2167.96 728.00L2168.52 728.00L2169.07 728.00L2169.63 728.00L2170.19 728.00L2170.74 728.00L2171.30 728.00L2171.85 728.00L2172.41 728.00L2172.96 728.00L2173.52 728.00L2174.07 728.00L2174.63 728.00L2175.19 728.00L2175.74 728.00L2176.30 728.00L2176.85 728.00L2177.41 728.00L2177.96 728.00L2178.52 728.00L2179.07 728.00L2179.63 728.00L2180.19 728.00L2180.74 728.00L2181.30 728.00L2181.85 728.00L2182.41 728.00L2182.96 728.00L2183.52 728.00L2184.07 728.00L2184.63 728.00L2185.19 728.00L2185.74 728.00L2186.30 728.00L2186.85 728.00L2187.41 728.00L2187.96 728.00L2188.52 728.00L2189.07 728.00L2189.63 728.00L2190.19 728.00L2190.74 728.00L2191.30 728.00L2191.85 728.00L2192.41 728.00L2192.96 728.00L2193.52 728.00L2194.07 728.00L2194.63 728.00L2195.19 728.00L2195.74 728.00L2196.30 728.00L2196.85 728.00L2197.41 728.00L2197.96 728.00L2198.52 728.00L2199.07 728.00L2199.63 728.00L2200.19 728.00L2200.74 728.00L2201.30 728.00L2201.85 728.00L2202.41 728.00L2202.96 728.00L2203.52 728.00L2204.07 728.00L2204.63 728.00L2205.19 728.00L2205.74 728.00L2206.30 728.00L2206.85 728.00L2207.41 728.00L2207.96 728.00L2208.52 728.00L2209.07 728.00L2209.63 728.00L2210.19 728.00L2210.74 728.00L2211.30 728.00L2211.85 728.00L2212.41 728.00L2212.96 728.00L2213.52 728.00L2214.07 728.00L2214.63 728.00L2215.19 728.00L2215.74 728.00L2216.30 728.00L2216.85 728.00L2217.41 728.00L2217.96 728.00L2218.52 728.00L2219.07 728.00L2219.63 728.00L2220.19 728.00L2220.74 728.00L2221.30 728.00L2221.85 728.00L2222.41 728.00L2222.96 728.00L2223.52 728.00L2224.07 728.00L2224.63 728.00L2225.19 728.00L2225.74 728.00L2226.30 728.00L2226.85 728.00L2227.41 728.00L2227.96 728.00L2228.52 728.00L2229.07 728.00L2229.63 728.00L2230.19 728.00L2230.74 728.00L2231.30 728.00L2231.85 728.00L2232.41 728.00L2232.96 728.00L2233.52 728.00L2234.07 728.00L2234.63 728.00L2235.19 728.00L2235.74 728.00L2236.30 728.00L2236.85 728.00L2237.41 728.00L2237.96 728.00L2238.52 728.00L2239.07 728.00L2239.63 728.00L2240.19 728.00L2240.74 728.00L2241.30 728.00L2241.85 728.00L2242.41 728.00L2242.96 728.00L2243.52 728.00L2244.07 728.00L2244.63 727.99L2245.19 727.99L2245.74 727.99L2246.30 727.99L2246.85 727.99L2247.41 727.99L2247.96 727.99L2248.52 727.99L2249.07 727.99L2249.63 727.99L2250.19 727.99L2250.74 727.99L2251.30 727.98L2251.85 727.98L2252.41 727.98L2252.96 727.98L2253.52 727.98L2254.07 727.98L2254.63 727.98L2255.19 727.97L2255.74 727.97L2256.30 727.97L2256.85 727.97L2257.41 727.96L2257.96 727.96L2258.52 727.96L2259.07 727.96L2259.63 727.95L2260.19 727.95L2260.74 727.95L2261.30 727.94L2261.85 727.94L2262.41 727.94L2262.96 727.93L2263.52 727.93L2264.07 727.92L2264.63 727.92L2265.19 727.91L2265.74 727.91L2266.30 727.90L2266.85 727.90L2267.41 727.89L2267.96 727.89L2268.52 727.88L2269.07 727.88L2269.63 727.87L2270.19 727.86L2270.74 727.86L2271.30 727.85L2271.85 727.84L2272.41 727.83L2272.96 727.83L2273.52 727.82L2274.07 727.81L2274.63 727.80L2275.19 727.79L2275.74 727.79L2276.30 727.78L2276.85 727.77L2277.41 727.76L2277.96 727.75L2278.52 727.74L2279.07 727.73L2279.63 727.72L2280.19 727.71L2280.74 727.70L2281.30 727.68L2281.85 727.67L2282.41 727.66L2282.96 727.65L2283.52 727.64L2284.07 727.63L2284.63 727.61L2285.19 727.60L2285.74 727.59L2286.30 727.57L2286.85 727.56L2287.41 727.55L2287.96 727.53L2288.52 727.52L2289.07 727.50L2289.63 727.49L2290.19 727.47L2290.74 727.46L2291.30 727.44L2291.85 727.43L2292.41 727.41L2292.96 727.39L2293.52 727.38L2294.07 727.36L2294.63 727.34L2295.19 727.32L2295.74 727.31L2296.30 727.29L2296.85 727.27L2297.41 727.25L2297.96 727.23L2298.52 727.21L2299.07 727.19L2299.63 727.17L2300.19 727.15L2300.74 727.13L2301.30 727.10L2301.85 727.08L2302.41 727.06L2302.96 727.04L2303.52 727.01L2304.07 726.99L2304.63 726.96L2305.19 726.94L2305.74 726.91L2306.30 726.89L2306.85 726.86L2307.41 726.83L2307.96 726.80L2308.52 726.77L2309.07 726.75L2309.63 726.72L2310.19 726.69L2310.74 726.65L2311.30 726.62L2311.85 726.59L2312.41 726.56L2312.96 726.52L2313.52 726.49L2314.07 726.45L2314.63 726.42L2315.19 726.38L2315.74 726.34L2316.30 726.31L2316.85 726.27L2317.41 726.23L2317.96 726.19L2318.52 726.15L2319.07 726.11L2319.63 726.06L2320.19 726.02L2320.74 725.98L2321.30 725.93L2321.85 725.89L2322.41 725.84L2322.96 725.80L2323.52 725.75L2324.07 725.70L2324.63 725.65L2325.19 725.60L2325.74 725.55L2326.30 725.50L2326.85 725.45L2327.41 725.40L2327.96 725.34L2328.52 725.29L2329.07 725.23L2329.63 725.18L2330.19 725.12L2330.74 725.07L2331.30 725.01L2331.85 724.95L2332.41 724.89L2332.96 724.83L2333.52 724.77L2334.07 724.71L2334.63 724.65L2335.19 724.59L2335.74 724.53L2336.30 724.47L2336.85 724.40L2337.41 724.34L2337.96 724.28L2338.52 724.21L2339.07 724.15L2339.63 724.08L2340.19 724.01L2340.74 723.95L2341.30 723.88L2341.85 723.81L2342.41 723.74L2342.96 723.68L2343.52 723.61L2344.07 723.54L2344.63 723.47L2345.19 723.40L2345.74 723.33L2346.30 723.26L2346.85 723.18L2347.41 723.11L2347.96 723.04L2348.52 722.97L2349.07 722.90L2349.63 722.82L2350.19 722.75L2350.74 722.68L2351.30 722.60L2351.85 722.53L2352.41 722.45L2352.96 722.38L2353.52 722.30L2354.07 722.23L2354.63 722.15L2355.19 722.08L2355.74 722.00L2356.30 721.92L2356.85 721.85L2357.41 721.77L2357.96 721.69L2358.52 721.62L2359.07 721.54L2359.63 721.46L2360.19 721.38L2360.74 721.30L2361.30 721.23L2361.85 721.15L2362.41 721.07L2362.96 720.99L2363.52 720.91L2364.07 720.83L2364.63 720.75L2365.19 720.67L2365.74 720.59L2366.30 720.51L2366.85 720.43L2367.41 720.35L2367.96 720.26L2368.52 720.18L2369.07 720.10L2369.63 720.02L2370.19 719.93L2370.74 719.85L2371.30 719.77L2371.85 719.68L2372.41 719.60L2372.96 719.51L2373.52 719.43L2374.07 719.34L2374.63 719.26L2375.19 719.17L2375.74 719.09L2376.30 719.00L2376.85 718.91L2377.41 718.83L2377.96 718.74L2378.52 718.65L2379.07 718.56L2379.63 718.47L2380.19 718.39L2380.74 718.30L2381.30 718.21L2381.85 718.12L2382.41 718.03L2382.96 717.94L2383.52 717.84L2384.07 717.75L2384.63 717.66L2385.19 717.57L2385.74 717.48L2386.30 717.38L2386.85 717.29L2387.41 717.20L2387.96 717.10L2388.52 717.01L2389.07 716.91L2389.63 716.82L2390.19 716.72L2390.74 716.63L2391.30 716.53L2391.85 716.44L2392.41 716.34L2392.96 716.24L2393.52 716.15L2394.07 716.05L2394.63 715.95L2395.19 715.85L2395.74 715.76L2396.30 715.66L2396.85 715.56L2397.41 715.46L2397.96 715.36L2398.52 715.26L2399.07 715.16L2399.63 715.06L2400.19 714.96L2400.74 714.86L2401.30 714.76L2401.85 714.65L2402.41 714.55L2402.96 714.45L2403.52 714.35L2404.07 714.25L2404.63 714.14L2405.19 714.04L2405.74 713.94L2406.30 713.83L2406.85 713.73L2407.41 713.62L2407.96 713.52L2408.52 713.41L2409.07 713.31L2409.63 713.20L2410.19 713.09L2410.74 712.98L2411.30 712.88L2411.85 712.77L2412.41 712.66L2412.96 712.55L2413.52 712.44L2414.07 712.33L2414.63 712.22L2415.19 712.11L2415.74 712.00L2416.30 711.88L2416.85 711.77L2417.41 711.65L2417.96 711.54L2418.52 711.42L2419.07 711.30L2419.63 711.18L2420.19 711.06L2420.74 710.94L2421.30 710.82L2421.85 710.69L2422.41 710.56L2422.96 710.43L2423.52 710.30L2424.07 710.17L2424.63 710.03L2425.19 709.90L2425.74 709.76L2426.30 709.61L2426.85 709.47L2427.41 709.32L2427.96 709.16L2428.52 709.01L2429.07 708.84L2429.63 708.68L2430.19 708.51L2430.74 708.33L2431.30 708.15L2431.85 707.97L2432.41 707.78L2432.96 707.58L2433.52 707.38L2434.07 707.17L2434.63 706.96L2435.19 706.73L2435.74 706.50L2436.30 706.26L2436.85 706.02L2437.41 705.76L2437.96 705.50L2438.52 705.22L2439.07 704.94L2439.63 704.65L2440.19 704.34L2440.74 704.03L2441.30 703.71L2441.85 703.37L2442.41 703.02L2442.96 702.66L2443.52 702.29L2444.07 701.91L2444.63 701.51L2445.19 701.10L2445.74 700.68L2446.30 700.24L2446.85 699.79L2447.41 699.32L2447.96 698.84L2448.52 698.35L2449.07 697.84L2449.63 697.31L2450.19 696.77L2450.74 696.22L2451.30 695.65L2451.85 695.06L2452.41 694.46L2452.96 693.84L2453.52 693.21L2454.07 692.56L2454.63 691.89L2455.19 691.22L2455.74 690.52L2456.30 689.82L2456.85 689.09L2457.41 688.36L2457.96 687.61L2458.52 686.84L2459.07 686.06L2459.63 685.27L2460.19 684.46L2460.74 683.64L2461.30 682.81L2461.85 681.97L2462.41 681.11L2462.96 680.24L2463.52 679.36L2464.07 678.46L2464.63 677.55L2465.19 676.63L2465.74 675.69L2466.30 674.73L2466.85 673.76L2467.41 672.77L2467.96 671.76L2468.52 670.74L2469.07 669.69L2469.63 668.63L2470.19 667.54L2470.74 666.44L2471.30 665.31L2471.85 664.17L2472.41 663.01L2472.96 661.83L2473.52 660.63L2474.07 659.41L2474.63 658.18L2475.19 656.93L2475.74 655.67L2476.30 654.39L2476.85 653.11L2477.41 651.81L2477.96 650.50L2478.52 649.17L2479.07 647.84L2479.63 646.48L2480.19 645.11L2480.74 643.71L2481.30 642.29L2481.85 640.85L2482.41 639.37L2482.96 637.85L2483.52 636.29L2484.07 634.69L2484.63 633.03L2485.19 631.31L2485.74 629.51L2486.30 627.63L2486.85 625.64L2487.41 623.54L2487.96 621.30L2488.52 618.92L2489.07 616.40L2489.63 613.73L2490.19 610.94L2490.74 608.04L2491.30 605.07L2491.85 602.06L2492.41 599.03L2492.96 596.01L2493.52 593.00L2494.07 590.02L2494.63 587.04L2495.19 584.07L2495.74 581.08L2496.30 578.05L2496.85 574.96L2497.41 571.79L2497.96 568.53L2498.52 565.17L2499.07 561.71L2499.63 558.14L2500.19 554.47L2500.74 550.72L2501.30 546.88L2501.85 542.97L2502.41 539.00L2502.96 534.96L2503.52 530.88L2504.07 526.74L2504.63 522.57L2505.19 518.36L2505.74 514.11L2506.30 509.83L2506.85 505.52L2507.41 501.18L2507.96 496.83L2508.52 492.47L2509.07 488.10L2509.63 483.74L2510.19 479.38L2510.74 475.04L2511.30 470.71L2511.85 466.41L2512.41 462.13L2512.96 457.89L2513.52 453.62L2514.07 449.34L2514.63 445.04L2515.19 440.73L2515.74 436.43L2516.30 432.14L2516.85 427.88L2517.41 423.66L2517.96 419.49L2518.52 415.40L2519.07 411.39L2519.63 407.50L2520.19 403.73L2520.74 400.09L2521.30 396.57L2521.85 393.12L2522.41 389.74L2522.96 386.43L2523.52 383.21L2524.07 380.07L2524.63 377.02L2525.19 374.06L2525.74 371.20L2526.30 368.45L2526.85 365.70L2527.41 362.88L2527.96 360.21L2528.52 357.92L2529.07 356.21L2529.63 355.01L2530.19 353.90L2530.74 352.96L2531.30 352.30L2531.85 352.01L2532.41 352.12L2532.96 352.53L2533.52 353.19L2534.07 354.02L2534.63 354.98L2535.19 356.00L2535.74 357.27L2536.30 358.95L2536.85 360.99L2537.41 363.30L2537.96 365.81L2538.52 368.45L2539.07 371.38L2539.63 374.67L2540.19 378.31L2540.74 382.25L2541.30 386.46L2541.85 390.89L2542.41 395.52L2542.96 400.31L2543.52 405.50L2544.07 411.16L2544.63 417.22L2545.19 423.64L2545.74 430.31L2546.30 437.12L2546.85 444.02L2547.41 450.93L2547.96 457.81L2548.52 464.66L2549.07 471.64L2549.63 478.73L2550.19 485.91L2550.74 493.17L2551.30 500.47L2551.85 507.82L2552.41 515.18L2552.96 522.55L2553.52 529.91L2554.07 537.26L2554.63 544.61L2555.19 551.97L2555.74 559.34L2556.30 566.72L2556.85 574.10L2557.41 581.47L2557.96 588.82L2558.52 596.12L2559.07 603.33L2559.63 610.40L2560.19 617.32L2560.74 624.06L2561.30 630.59L2561.85 636.90L2562.41 642.97L2562.96 648.82L2563.52 654.45L2564.07 659.87L2564.63 665.09L2565.19 670.14L2565.74 675.00L2566.30 679.69L2566.85 684.20L2567.41 688.53L2567.96 692.67L2568.52 696.62L2569.07 700.35L2569.63 703.86L2570.19 707.11L2570.74 710.11L2571.30 712.83L2571.85 715.26L2572.41 717.40L2572.96 719.25L2573.52 720.83L2574.07 722.17L2574.63 723.29L2575.19 724.23L2575.74 725.01L2576.30 725.66L2576.85 726.20L2577.41 726.64L2577.96 727.00L2578.52 727.29L2579.07 727.51L2579.63 727.68L2580.19 727.79L2580.74 727.87L2581.30 727.93L2581.85 727.96L2582.41 727.98L2582.96 727.99L2583.52 728.00L2584.07 728.00L2584.63 728.00L2585.19 728.00L2585.74 728.00L2586.30 728.00L2586.85 728.00L2587.41 728.00L2587.96 728.00L2588.52 728.00L2589.07 728.00L2589.63 728.00L2590.19 728.00L2590.74 728.00L2591.30 728.00L2591.85 728.00L2592.41 728.00L2592.96 728.00L2593.52 728.00L2594.07 728.00L2594.63 728.00L2595.19 728.00L2595.74 728.00L2596.30 728.00L2596.85 728.00L2597.41 728.00L2597.96 728.00L2598.52 728.00L2599.07 728.00L2599.63 728.00L2600.19 728.00L2600.74 728.00L2601.30 728.00L2601.85 728.00L2602.41 728.00L2602.96 728.00L2603.52 728.00L2604.07 728.00L2604.63 728.00L2605.19 728.00L2605.74 728.00L2606.30 728.00L2606.85 728.00L2607.41 728.00L2607.96 728.00L2608.52 728.00L2609.07 728.00L2609.63 728.00L2610.19 728.00L2610.74 728.00L2611.30 728.00L2611.85 728.00L2612.41 728.00L2612.96 728.00L2613.52 728.00L2614.07 728.00L2614.63 728.00L2615.19 728.00L2615.74 728.00L2616.30 728.00L2616.85 728.00L2617.41 728.00L2617.96 728.00L2618.52 728.00L2619.07 728.00L2619.63 728.00L2620.19 728.00L2853.70 728.00" stroke="#62c232" stroke-width="11.6" fill="none" stroke-linejoin="round" stroke-linecap="butt"/>
<path transform="scale(1.08 1)" d="M2162.96 728.00L2163.52 728.00L2164.07 728.00L2164.63 728.00L2165.19 728.00L2165.74 728.00L2166.30 728.00L2166.85 728.00L2167.41 728.00L2167.96 728.00L2168.52 728.00L2169.07 728.00L2169.63 728.00L2170.19 728.00L2170.74 728.00L2171.30 728.00L2171.85 728.00L2172.41 728.00L2172.96 728.00L2173.52 728.00L2174.07 728.00L2174.63 728.00L2175.19 728.00L2175.74 728.00L2176.30 728.00L2176.85 728.00L2177.41 728.00L2177.96 728.00L2178.52 728.00L2179.07 728.00L2179.63 728.00L2180.19 728.00L2180.74 728.00L2181.30 728.00L2181.85 728.00L2182.41 728.00L2182.96 728.00L2183.52 728.00L2184.07 728.00L2184.63 728.00L2185.19 728.00L2185.74 728.00L2186.30 728.00L2186.85 728.00L2187.41 728.00L2187.96 728.00L2188.52 728.00L2189.07 728.00L2189.63 728.00L2190.19 728.00L2190.74 728.00L2191.30 728.00L2191.85 728.00L2192.41 728.00L2192.96 728.00L2193.52 728.00L2194.07 728.00L2194.63 728.00L2195.19 728.00L2195.74 728.00L2196.30 728.00L2196.85 728.00L2197.41 728.00L2197.96 728.00L2198.52 728.00L2199.07 728.00L2199.63 728.00L2200.19 728.00L2200.74 728.00L2201.30 728.00L2201.85 728.00L2202.41 728.00L2202.96 728.00L2203.52 728.00L2204.07 727.99L2204.63 727.99L2205.19 727.99L2205.74 727.99L2206.30 727.99L2206.85 727.99L2207.41 727.99L2207.96 727.99L2208.52 727.99L2209.07 727.99L2209.63 727.99L2210.19 727.98L2210.74 727.98L2211.30 727.98L2211.85 727.98L2212.41 727.98L2212.96 727.98L2213.52 727.97L2214.07 727.97L2214.63 727.97L2215.19 727.97L2215.74 727.96L2216.30 727.96L2216.85 727.96L2217.41 727.95L2217.96 727.95L2218.52 727.94L2219.07 727.94L2219.63 727.94L2220.19 727.93L2220.74 727.93L2221.30 727.92L2221.85 727.91L2222.41 727.91L2222.96 727.90L2223.52 727.89L2224.07 727.89L2224.63 727.88L2225.19 727.87L2225.74 727.86L2226.30 727.85L2226.85 727.84L2227.41 727.83L2227.96 727.82L2228.52 727.81L2229.07 727.80L2229.63 727.79L2230.19 727.77L2230.74 727.76L2231.30 727.75L2231.85 727.73L2232.41 727.71L2232.96 727.70L2233.52 727.68L2234.07 727.66L2234.63 727.64L2235.19 727.62L2235.74 727.60L2236.30 727.58L2236.85 727.56L2237.41 727.54L2237.96 727.51L2238.52 727.49L2239.07 727.46L2239.63 727.43L2240.19 727.40L2240.74 727.37L2241.30 727.34L2241.85 727.31L2242.41 727.28L2242.96 727.24L2243.52 727.21L2244.07 727.17L2244.63 727.13L2245.19 727.10L2245.74 727.06L2246.30 727.01L2246.85 726.97L2247.41 726.93L2247.96 726.88L2248.52 726.83L2249.07 726.78L2249.63 726.73L2250.19 726.68L2250.74 726.63L2251.30 726.58L2251.85 726.52L2252.41 726.46L2252.96 726.41L2253.52 726.35L2254.07 726.29L2254.63 726.22L2255.19 726.16L2255.74 726.10L2256.30 726.03L2256.85 725.96L2257.41 725.89L2257.96 725.82L2258.52 725.75L2259.07 725.68L2259.63 725.61L2260.19 725.53L2260.74 725.46L2261.30 725.38L2261.85 725.30L2262.41 725.22L2262.96 725.14L2263.52 725.06L2264.07 724.98L2264.63 724.89L2265.19 724.81L2265.74 724.72L2266.30 724.64L2266.85 724.55L2267.41 724.46L2267.96 724.37L2268.52 724.29L2269.07 724.20L2269.63 724.10L2270.19 724.01L2270.74 723.92L2271.30 723.83L2271.85 723.74L2272.41 723.64L2272.96 723.55L2273.52 723.45L2274.07 723.36L2274.63 723.26L2275.19 723.16L2275.74 723.07L2276.30 722.97L2276.85 722.87L2277.41 722.78L2277.96 722.68L2278.52 722.58L2279.07 722.48L2279.63 722.38L2280.19 722.28L2280.74 722.18L2281.30 722.08L2281.85 721.98L2282.41 721.88L2282.96 721.78L2283.52 721.68L2284.07 721.58L2284.63 721.48L2285.19 721.38L2285.74 721.28L2286.30 721.18L2286.85 721.08L2287.41 720.98L2287.96 720.88L2288.52 720.77L2289.07 720.67L2289.63 720.57L2290.19 720.47L2290.74 720.37L2291.30 720.27L2291.85 720.17L2292.41 720.07L2292.96 719.98L2293.52 719.88L2294.07 719.78L2294.63 719.68L2295.19 719.58L2295.74 719.48L2296.30 719.39L2296.85 719.29L2297.41 719.19L2297.96 719.10L2298.52 719.00L2299.07 718.91L2299.63 718.81L2300.19 718.72L2300.74 718.63L2301.30 718.53L2301.85 718.44L2302.41 718.35L2302.96 718.26L2303.52 718.17L2304.07 718.08L2304.63 717.99L2305.19 717.90L2305.74 717.81L2306.30 717.72L2306.85 717.64L2307.41 717.55L2307.96 717.47L2308.52 717.38L2309.07 717.30L2309.63 717.21L2310.19 717.13L2310.74 717.05L2311.30 716.97L2311.85 716.89L2312.41 716.81L2312.96 716.73L2313.52 716.65L2314.07 716.57L2314.63 716.49L2315.19 716.41L2315.74 716.33L2316.30 716.26L2316.85 716.18L2317.41 716.11L2317.96 716.03L2318.52 715.96L2319.07 715.88L2319.63 715.81L2320.19 715.74L2320.74 715.66L2321.30 715.59L2321.85 715.52L2322.41 715.45L2322.96 715.38L2323.52 715.30L2324.07 715.23L2324.63 715.16L2325.19 715.09L2325.74 715.02L2326.30 714.95L2326.85 714.88L2327.41 714.81L2327.96 714.74L2328.52 714.68L2329.07 714.61L2329.63 714.54L2330.19 714.47L2330.74 714.40L2331.30 714.33L2331.85 714.27L2332.41 714.20L2332.96 714.13L2333.52 714.06L2334.07 713.99L2334.63 713.93L2335.19 713.86L2335.74 713.79L2336.30 713.72L2336.85 713.65L2337.41 713.59L2337.96 713.52L2338.52 713.45L2339.07 713.38L2339.63 713.31L2340.19 713.25L2340.74 713.18L2341.30 713.11L2341.85 713.04L2342.41 712.97L2342.96 712.90L2343.52 712.83L2344.07 712.77L2344.63 712.70L2345.19 712.63L2345.74 712.56L2346.30 712.49L2346.85 712.42L2347.41 712.35L2347.96 712.28L2348.52 712.21L2349.07 712.14L2349.63 712.07L2350.19 711.99L2350.74 711.92L2351.30 711.85L2351.85 711.78L2352.41 711.71L2352.96 711.63L2353.52 711.56L2354.07 711.49L2354.63 711.41L2355.19 711.34L2355.74 711.27L2356.30 711.19L2356.85 711.11L2357.41 711.04L2357.96 710.96L2358.52 710.89L2359.07 710.81L2359.63 710.73L2360.19 710.65L2360.74 710.57L2361.30 710.49L2361.85 710.41L2362.41 710.33L2362.96 710.25L2363.52 710.17L2364.07 710.08L2364.63 710.00L2365.19 709.92L2365.74 709.83L2366.30 709.74L2366.85 709.66L2367.41 709.57L2367.96 709.48L2368.52 709.39L2369.07 709.30L2369.63 709.21L2370.19 709.11L2370.74 709.02L2371.30 708.92L2371.85 708.83L2372.41 708.73L2372.96 708.63L2373.52 708.53L2374.07 708.42L2374.63 708.32L2375.19 708.21L2375.74 708.10L2376.30 707.99L2376.85 707.88L2377.41 707.77L2377.96 707.65L2378.52 707.53L2379.07 707.41L2379.63 707.29L2380.19 707.17L2380.74 707.04L2381.30 706.91L2381.85 706.77L2382.41 706.64L2382.96 706.50L2383.52 706.36L2384.07 706.21L2384.63 706.06L2385.19 705.91L2385.74 705.75L2386.30 705.59L2386.85 705.43L2387.41 705.26L2387.96 705.09L2388.52 704.91L2389.07 704.73L2389.63 704.54L2390.19 704.35L2390.74 704.16L2391.30 703.96L2391.85 703.75L2392.41 703.54L2392.96 703.32L2393.52 703.10L2394.07 702.87L2394.63 702.64L2395.19 702.40L2395.74 702.15L2396.30 701.90L2396.85 701.64L2397.41 701.38L2397.96 701.11L2398.52 700.83L2399.07 700.55L2399.63 700.25L2400.19 699.95L2400.74 699.65L2401.30 699.33L2401.85 699.01L2402.41 698.68L2402.96 698.35L2403.52 698.00L2404.07 697.65L2404.63 697.29L2405.19 696.92L2405.74 696.55L2406.30 696.16L2406.85 695.77L2407.41 695.37L2407.96 694.96L2408.52 694.54L2409.07 694.11L2409.63 693.68L2410.19 693.23L2410.74 692.77L2411.30 692.31L2411.85 691.84L2412.41 691.35L2412.96 690.86L2413.52 690.36L2414.07 689.84L2414.63 689.32L2415.19 688.79L2415.74 688.24L2416.30 687.69L2416.85 687.12L2417.41 686.55L2417.96 685.96L2418.52 685.36L2419.07 684.75L2419.63 684.13L2420.19 683.50L2420.74 682.86L2421.30 682.20L2421.85 681.53L2422.41 680.85L2422.96 680.16L2423.52 679.46L2424.07 678.75L2424.63 678.02L2425.19 677.28L2425.74 676.54L2426.30 675.78L2426.85 675.01L2427.41 674.23L2427.96 673.44L2428.52 672.64L2429.07 671.84L2429.63 671.02L2430.19 670.19L2430.74 669.34L2431.30 668.49L2431.85 667.63L2432.41 666.76L2432.96 665.87L2433.52 664.97L2434.07 664.06L2434.63 663.14L2435.19 662.20L2435.74 661.25L2436.30 660.28L2436.85 659.30L2437.41 658.30L2437.96 657.28L2438.52 656.25L2439.07 655.20L2439.63 654.13L2440.19 653.04L2440.74 651.93L2441.30 650.80L2441.85 649.65L2442.41 648.48L2442.96 647.30L2443.52 646.09L2444.07 644.87L2444.63 643.63L2445.19 642.37L2445.74 641.09L2446.30 639.80L2446.85 638.49L2447.41 637.17L2447.96 635.83L2448.52 634.48L2449.07 633.11L2449.63 631.73L2450.19 630.33L2450.74 628.91L2451.30 627.48L2451.85 626.03L2452.41 624.56L2452.96 623.07L2453.52 621.56L2454.07 620.03L2454.63 618.47L2455.19 616.88L2455.74 615.27L2456.30 613.63L2456.85 611.97L2457.41 610.27L2457.96 608.54L2458.52 606.77L2459.07 604.97L2459.63 603.13L2460.19 601.24L2460.74 599.30L2461.30 597.31L2461.85 595.25L2462.41 593.14L2462.96 590.96L2463.52 588.70L2464.07 586.37L2464.63 583.97L2465.19 581.49L2465.74 578.93L2466.30 576.30L2466.85 573.59L2467.41 570.79L2467.96 567.91L2468.52 564.94L2469.07 561.87L2469.63 558.68L2470.19 555.38L2470.74 551.94L2471.30 548.35L2471.85 544.60L2472.41 540.68L2472.96 536.58L2473.52 532.30L2474.07 527.84L2474.63 523.20L2475.19 518.39L2475.74 513.42L2476.30 508.31L2476.85 503.08L2477.41 497.75L2477.96 492.34L2478.52 486.86L2479.07 481.33L2479.63 475.77L2480.19 470.17L2480.74 464.55L2481.30 458.90L2481.85 453.24L2482.41 447.54L2482.96 441.83L2483.52 436.10L2484.07 430.36L2484.63 424.62L2485.19 418.89L2485.74 413.20L2486.30 407.54L2486.85 401.94L2487.41 396.39L2487.96 390.89L2488.52 385.44L2489.07 380.03L2489.63 374.62L2490.19 369.21L2490.74 363.77L2491.30 358.27L2491.85 352.67L2492.41 346.93L2492.96 341.03L2493.52 334.92L2494.07 328.59L2494.63 321.96L2495.19 315.03L2495.74 307.79L2496.30 300.27L2496.85 292.51L2497.41 284.55L2497.96 276.45L2498.52 268.26L2499.07 260.04L2499.63 251.85L2500.19 243.75L2500.74 235.79L2501.30 228.03L2501.85 220.56L2502.41 213.42L2502.96 206.47L2503.52 199.60L2504.07 192.85L2504.63 186.26L2505.19 179.85L2505.74 173.64L2506.30 167.65L2506.85 161.93L2507.41 156.50L2507.96 151.29L2508.52 146.22L2509.07 141.30L2509.63 136.54L2510.19 131.96L2510.74 127.56L2511.30 123.36L2511.85 119.37L2512.41 115.61L2512.96 111.95L2513.52 108.37L2514.07 105.15L2514.63 102.63L2515.19 100.85L2515.74 99.22L2516.30 97.86L2516.85 96.96L2517.41 96.71L2517.96 97.20L2518.52 98.29L2519.07 99.76L2519.63 101.43L2520.19 103.26L2520.74 105.66L2521.30 108.66L2521.85 112.26L2522.41 116.57L2522.96 122.72L2523.52 130.59L2524.07 139.60L2524.63 149.16L2525.19 158.71L2525.74 167.80L2526.30 176.86L2526.85 186.04L2527.41 195.35L2527.96 204.82L2528.52 214.47L2529.07 224.33L2529.63 234.41L2530.19 244.74L2530.74 255.41L2531.30 266.42L2531.85 277.78L2532.41 289.53L2532.96 302.00L2533.52 315.33L2534.07 329.32L2534.63 343.77L2535.19 358.50L2535.74 373.31L2536.30 388.05L2536.85 402.54L2537.41 416.63L2537.96 430.18L2538.52 443.09L2539.07 455.29L2539.63 466.80L2540.19 477.78L2540.74 488.42L2541.30 498.89L2541.85 509.37L2542.41 520.01L2542.96 530.93L2543.52 542.21L2544.07 553.82L2544.63 565.66L2545.19 577.44L2545.74 589.03L2546.30 600.32L2546.85 611.15L2547.41 621.39L2547.96 630.95L2548.52 639.79L2549.07 647.94L2549.63 655.44L2550.19 662.35L2550.74 668.74L2551.30 674.66L2551.85 680.16L2552.41 685.27L2552.96 690.01L2553.52 694.40L2554.07 698.43L2554.63 702.11L2555.19 705.44L2555.74 708.44L2556.30 711.12L2556.85 713.49L2557.41 715.57L2557.96 717.39L2558.52 718.96L2559.07 720.32L2559.63 721.49L2560.19 722.50L2560.74 723.37L2561.30 724.13L2561.85 724.80L2562.41 725.38L2562.96 725.88L2563.52 726.33L2564.07 726.71L2564.63 727.02L2565.19 727.29L2565.74 727.49L2566.30 727.65L2566.85 727.77L2567.41 727.86L2567.96 727.91L2568.52 727.95L2569.07 727.97L2569.63 727.99L2570.19 727.99L2570.74 728.00L2571.30 728.00L2571.85 728.00L2572.41 728.00L2572.96 728.00L2573.52 728.00L2574.07 728.00L2574.63 728.00L2575.19 728.00L2575.74 728.00L2576.30 728.00L2576.85 728.00L2577.41 728.00L2577.96 728.00L2578.52 728.00L2579.07 728.00L2579.63 728.00L2580.19 728.00L2580.74 728.00L2581.30 728.00L2581.85 728.00L2582.41 728.00L2582.96 728.00L2583.52 728.00L2584.07 728.00L2584.63 728.00L2585.19 728.00L2585.74 728.00L2586.30 728.00L2586.85 728.00L2587.41 728.00L2587.96 728.00L2588.52 728.00L2589.07 728.00L2589.63 728.00L2590.19 728.00L2590.74 728.00L2591.30 728.00L2591.85 728.00L2592.41 728.00L2592.96 728.00L2593.52 728.00L2594.07 728.00L2594.63 728.00L2595.19 728.00L2595.74 728.00L2596.30 728.00L2596.85 728.00L2597.41 728.00L2597.96 728.00L2598.52 728.00L2599.07 728.00L2599.63 728.00L2600.19 728.00L2600.74 728.00L2601.30 728.00L2601.85 728.00L2602.41 728.00L2602.96 728.00L2603.52 728.00L2604.07 728.00L2604.63 728.00L2605.19 728.00L2605.74 728.00L2606.30 728.00L2606.85 728.00L2607.41 728.00L2607.96 728.00L2608.52 728.00L2609.07 728.00L2609.63 728.00L2610.19 728.00L2610.74 728.00L2611.30 728.00L2611.85 728.00L2612.41 728.00L2612.96 728.00L2613.52 728.00L2614.07 728.00L2614.63 728.00L2615.19 728.00L2615.74 728.00L2616.30 728.00L2616.85 728.00L2617.41 728.00L2617.96 728.00L2618.52 728.00L2619.07 728.00L2619.63 728.00L2620.19 728.00L2853.70 728.00" stroke="#3450aa" stroke-width="11.6" fill="none" stroke-linejoin="round" stroke-linecap="butt"/>
<rect x="2330.43" y="30.45" width="758.12" height="761.02" fill="none" stroke="#231f20" stroke-width="3.1"/>
<path d="M2330.55 791.47v-15.56M2376.30 791.47v-8.3M2403.06 791.47v-8.3M2422.05 791.47v-8.3M2436.77 791.47v-8.3M2448.81 791.47v-8.3M2458.98 791.47v-8.3M2467.79 791.47v-8.3M2475.57 791.47v-8.3M2482.52 791.47v-15.56M2528.27 791.47v-8.3M2555.03 791.47v-8.3M2574.02 791.47v-8.3M2588.74 791.47v-8.3M2600.78 791.47v-8.3M2610.95 791.47v-8.3M2619.76 791.47v-8.3M2627.54 791.47v-8.3M2634.49 791.47v-15.56M2680.24 791.47v-8.3M2707.00 791.47v-8.3M2725.99 791.47v-8.3M2740.71 791.47v-8.3M2752.75 791.47v-8.3M2762.92 791.47v-8.3M2771.73 791.47v-8.3M2779.51 791.47v-8.3M2786.46 791.47v-15.56M2832.21 791.47v-8.3M2858.97 791.47v-8.3M2877.96 791.47v-8.3M2892.68 791.47v-8.3M2904.72 791.47v-8.3M2914.89 791.47v-8.3M2923.70 791.47v-8.3M2931.48 791.47v-8.3M2938.43 791.47v-15.56M2984.18 791.47v-8.3M3010.94 791.47v-8.3M3029.93 791.47v-8.3M3044.65 791.47v-8.3M3056.69 791.47v-8.3M3066.86 791.47v-8.3M3075.67 791.47v-8.3M3083.45 791.47v-8.3M3090.40 791.47v-15.56" stroke="#231f20" stroke-width="3.1" fill="none"/>
<path d="M2330.43 727.80h-20.5M2330.43 601.14h-20.5M2330.43 474.48h-20.5M2330.43 347.82h-20.5M2330.43 221.16h-20.5M2330.43 94.50h-20.5" stroke="#231f20" stroke-width="3.1" fill="none"/>
<text x="2290.35" y="742.37" font-size="55" text-anchor="end">0</text>
<text x="2290.35" y="616.89" font-size="55" text-anchor="end">0.02</text>
<text x="2290.35" y="491.41" font-size="55" text-anchor="end">0.04</text>
<text x="2290.35" y="365.93" font-size="55" text-anchor="end">0.06</text>
<text x="2290.35" y="240.45" font-size="55" text-anchor="end">0.08</text>
<text x="2290.35" y="114.97" font-size="55" text-anchor="end">0.10</text>
<text x="2332.50" y="867.9" font-size="55" text-anchor="middle">0.001</text>
<text x="2483.70" y="867.9" font-size="55" text-anchor="middle">0.01</text>
<text x="2634.90" y="867.9" font-size="55" text-anchor="middle">0.1</text>
<text x="2786.10" y="867.9" font-size="55" text-anchor="middle">1</text>
<text x="2937.30" y="867.9" font-size="55" text-anchor="middle">10</text>
<text x="3088.50" y="867.9" font-size="55" text-anchor="middle">100</text>
<text x="2705.00" y="933.0" font-size="55.8" text-anchor="middle"><tspan font-style="italic">D</tspan>/μm</text>
<text transform="translate(2146.00 418.20) rotate(-90)" font-size="66" text-anchor="middle"><tspan font-style="italic">Q</tspan><tspan font-size="37" dy="11.8">abs</tspan></text>
<text x="2099.25" y="51.0" font-size="63.3">(c)</text>
<path d="M2770.92 86.20H2889.94" stroke="#ed2129" stroke-width="12.6" fill="none"/>
<path d="M2770.92 151.90H2889.94" stroke="#62c232" stroke-width="12.6" fill="none"/>
<path d="M2770.92 219.50H2889.94" stroke="#3450aa" stroke-width="12.6" fill="none"/>
<text x="2898.60" y="102.76" font-size="55.4">623 nm</text>
<text x="2898.60" y="169.60" font-size="55.4">517 nm</text>
<text x="2898.60" y="236.80" font-size="55.4">470 nm</text>
</svg>
</body></html>
